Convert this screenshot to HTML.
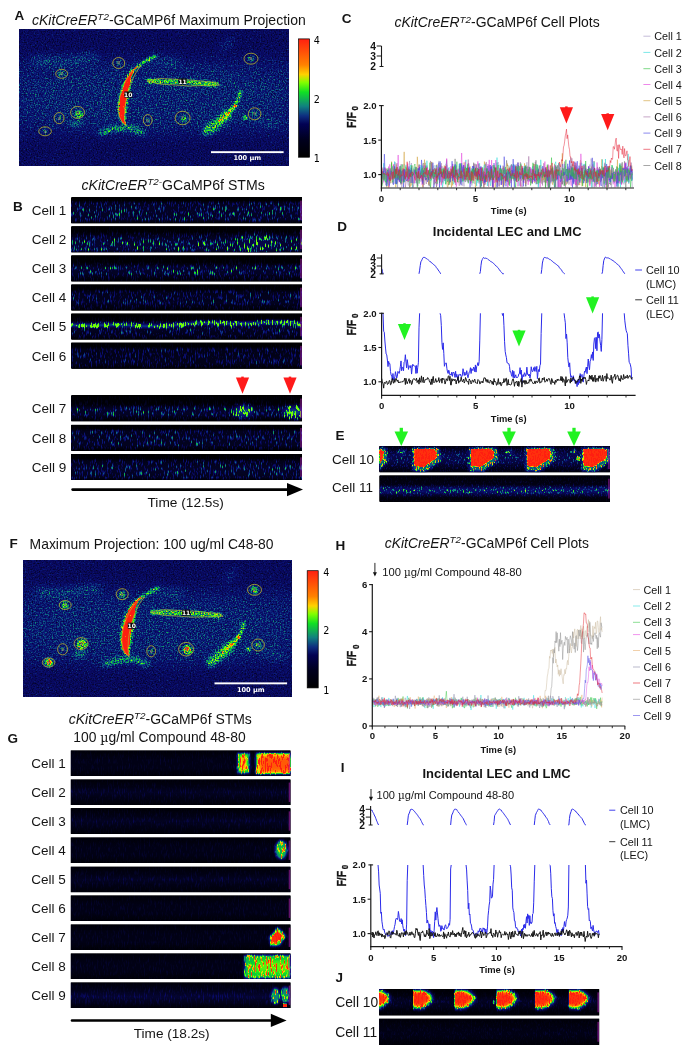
<!DOCTYPE html>
<html lang="en">
<head>
<meta charset="utf-8">
<title>cKitCreERT2-GCaMP6f calcium imaging figure</title>
<style>
html,body{margin:0;padding:0;background:#ffffff;}
body{width:689px;height:1049px;overflow:hidden;}
svg{display:block;font-family:"Liberation Sans", Arial, Helvetica, sans-serif;}
</style>
</head>
<body>
<svg width="689" height="1049" viewBox="0 0 689 1049">
<defs>
<linearGradient id="cbar" x1="0" y1="0" x2="0" y2="1"><stop offset="0" stop-color="#ff2010"/><stop offset="0.22" stop-color="#ff8200"/><stop offset="0.3" stop-color="#ffd200"/><stop offset="0.37" stop-color="#80ff00"/><stop offset="0.45" stop-color="#10e024"/><stop offset="0.57" stop-color="#108080"/><stop offset="0.65" stop-color="#0e2e80"/><stop offset="0.72" stop-color="#020254"/><stop offset="0.85" stop-color="#00001e"/><stop offset="1" stop-color="#000000"/></linearGradient>
<filter id="bl05" x="-100%" y="-100%" width="300%" height="300%" color-interpolation-filters="sRGB"><feGaussianBlur stdDeviation="0.5"/></filter>
<filter id="bl07" x="-100%" y="-100%" width="300%" height="300%" color-interpolation-filters="sRGB"><feGaussianBlur stdDeviation="0.75"/></filter>
<filter id="bl13" x="-100%" y="-100%" width="300%" height="300%" color-interpolation-filters="sRGB"><feGaussianBlur stdDeviation="1.3"/></filter>
<filter id="bl1" x="-100%" y="-100%" width="300%" height="300%" color-interpolation-filters="sRGB"><feGaussianBlur stdDeviation="1.0"/></filter>
<filter id="bl2" x="-100%" y="-100%" width="300%" height="300%" color-interpolation-filters="sRGB"><feGaussianBlur stdDeviation="2.0"/></filter>
<filter id="bl4" x="-100%" y="-100%" width="300%" height="300%" color-interpolation-filters="sRGB"><feGaussianBlur stdDeviation="4.0"/></filter>
<filter id="bl8" x="-100%" y="-100%" width="300%" height="300%" color-interpolation-filters="sRGB"><feGaussianBlur stdDeviation="8.0"/></filter>
<filter id="nfA" filterUnits="userSpaceOnUse" x="19.5" y="29.5" width="269" height="136" color-interpolation-filters="sRGB"><feTurbulence type="fractalNoise" baseFrequency="0.73" numOctaves="2" seed="3" result="n"/><feColorMatrix in="n" type="matrix" values="1 0 0 0 0  1 0 0 0 0  1 0 0 0 0  0 0 0 0 1" result="ng"/><feComposite in="SourceGraphic" in2="ng" operator="arithmetic" k1="1.8" k2="0.1" k3="0" k4="0" result="m0"/><feGaussianBlur in="m0" stdDeviation="0.42" result="m"/><feComponentTransfer in="m"><feFuncR type="table" tableValues="0.000 0.003 0.006 0.009 0.013 0.016 0.020 0.024 0.028 0.032 0.035 0.037 0.038 0.039 0.041 0.043 0.046 0.048 0.050 0.052 0.054 0.056 0.057 0.059 0.060 0.062 0.084 0.184 0.284 0.384 0.484 0.602 0.725 0.849 0.972 1.000 1.000 1.000 1.000 1.000 1.000 1.000 1.000 1.000 1.000 1.000 1.000 1.000 1.000 1.000 1.000 1.000 1.000 1.000 1.000 1.000 1.000 1.000 1.000 1.000 1.000 1.000 1.000 1.000 1.000 1.000 1.000 1.000 1.000 1.000 1.000 1.000 1.000 1.000 1.000 1.000 1.000 1.000 1.000 1.000 1.000"/><feFuncG type="table" tableValues="0.000 0.003 0.006 0.009 0.013 0.016 0.020 0.024 0.028 0.032 0.036 0.044 0.052 0.060 0.090 0.135 0.180 0.240 0.309 0.378 0.447 0.518 0.590 0.662 0.734 0.806 0.869 0.900 0.931 0.961 0.992 0.971 0.931 0.892 0.852 0.782 0.703 0.624 0.545 0.500 0.464 0.428 0.392 0.356 0.320 0.284 0.248 0.211 0.175 0.139 0.118 0.118 0.118 0.118 0.118 0.118 0.118 0.118 0.118 0.118 0.118 0.118 0.118 0.118 0.118 0.118 0.118 0.118 0.118 0.118 0.118 0.118 0.118 0.118 0.118 0.118 0.118 0.118 0.118 0.118 0.118"/><feFuncB type="table" tableValues="0.000 0.033 0.066 0.100 0.133 0.166 0.207 0.249 0.290 0.331 0.370 0.391 0.411 0.431 0.454 0.477 0.501 0.510 0.510 0.510 0.510 0.467 0.402 0.337 0.273 0.208 0.150 0.114 0.079 0.044 0.009 0.000 0.000 0.000 0.000 0.000 0.000 0.000 0.000 0.004 0.010 0.015 0.021 0.026 0.032 0.037 0.043 0.048 0.054 0.059 0.063 0.063 0.063 0.063 0.063 0.063 0.063 0.063 0.063 0.063 0.063 0.063 0.063 0.063 0.063 0.063 0.063 0.063 0.063 0.063 0.063 0.063 0.063 0.063 0.063 0.063 0.063 0.063 0.063 0.063 0.063"/></feComponentTransfer></filter>
<filter id="nfF" filterUnits="userSpaceOnUse" x="23" y="560.7" width="269" height="136" color-interpolation-filters="sRGB"><feTurbulence type="fractalNoise" baseFrequency="0.71" numOctaves="2" seed="8" result="n"/><feColorMatrix in="n" type="matrix" values="1 0 0 0 0  1 0 0 0 0  1 0 0 0 0  0 0 0 0 1" result="ng"/><feComposite in="SourceGraphic" in2="ng" operator="arithmetic" k1="1.8" k2="0.1" k3="0" k4="0" result="m0"/><feGaussianBlur in="m0" stdDeviation="0.42" result="m"/><feComponentTransfer in="m"><feFuncR type="table" tableValues="0.000 0.003 0.006 0.009 0.013 0.016 0.020 0.024 0.028 0.032 0.035 0.037 0.038 0.039 0.041 0.043 0.046 0.048 0.050 0.052 0.054 0.056 0.057 0.059 0.060 0.062 0.084 0.184 0.284 0.384 0.484 0.602 0.725 0.849 0.972 1.000 1.000 1.000 1.000 1.000 1.000 1.000 1.000 1.000 1.000 1.000 1.000 1.000 1.000 1.000 1.000 1.000 1.000 1.000 1.000 1.000 1.000 1.000 1.000 1.000 1.000 1.000 1.000 1.000 1.000 1.000 1.000 1.000 1.000 1.000 1.000 1.000 1.000 1.000 1.000 1.000 1.000 1.000 1.000 1.000 1.000"/><feFuncG type="table" tableValues="0.000 0.003 0.006 0.009 0.013 0.016 0.020 0.024 0.028 0.032 0.036 0.044 0.052 0.060 0.090 0.135 0.180 0.240 0.309 0.378 0.447 0.518 0.590 0.662 0.734 0.806 0.869 0.900 0.931 0.961 0.992 0.971 0.931 0.892 0.852 0.782 0.703 0.624 0.545 0.500 0.464 0.428 0.392 0.356 0.320 0.284 0.248 0.211 0.175 0.139 0.118 0.118 0.118 0.118 0.118 0.118 0.118 0.118 0.118 0.118 0.118 0.118 0.118 0.118 0.118 0.118 0.118 0.118 0.118 0.118 0.118 0.118 0.118 0.118 0.118 0.118 0.118 0.118 0.118 0.118 0.118"/><feFuncB type="table" tableValues="0.000 0.033 0.066 0.100 0.133 0.166 0.207 0.249 0.290 0.331 0.370 0.391 0.411 0.431 0.454 0.477 0.501 0.510 0.510 0.510 0.510 0.467 0.402 0.337 0.273 0.208 0.150 0.114 0.079 0.044 0.009 0.000 0.000 0.000 0.000 0.000 0.000 0.000 0.000 0.004 0.010 0.015 0.021 0.026 0.032 0.037 0.043 0.048 0.054 0.059 0.063 0.063 0.063 0.063 0.063 0.063 0.063 0.063 0.063 0.063 0.063 0.063 0.063 0.063 0.063 0.063 0.063 0.063 0.063 0.063 0.063 0.063 0.063 0.063 0.063 0.063 0.063 0.063 0.063 0.063 0.063"/></feComponentTransfer></filter>
<filter id="nfB" filterUnits="userSpaceOnUse" x="71.3" y="197.5" width="230.7" height="282.5" color-interpolation-filters="sRGB"><feTurbulence type="fractalNoise" baseFrequency="0.83 0.17" numOctaves="2" seed="5" result="n"/><feColorMatrix in="n" type="matrix" values="3.4 0 0 0 -1.75  3.4 0 0 0 -1.75  3.4 0 0 0 -1.75  0 0 0 0 1" result="ng"/><feComposite in="SourceGraphic" in2="ng" operator="arithmetic" k1="1.75" k2="0.33" k3="0" k4="0" result="m0"/><feGaussianBlur in="m0" stdDeviation="0.3" result="m"/><feComponentTransfer in="m"><feFuncR type="table" tableValues="0.000 0.003 0.006 0.009 0.013 0.016 0.020 0.024 0.028 0.032 0.035 0.037 0.038 0.039 0.041 0.043 0.046 0.048 0.050 0.052 0.054 0.056 0.057 0.059 0.060 0.062 0.084 0.184 0.284 0.384 0.460 0.460 0.460 0.460 0.460 0.460 0.460 0.460 0.460 0.460 0.460 0.460 0.460 0.460 0.460 0.460 0.460 0.460 0.460 0.460 0.460 0.460 0.460 0.460 0.460 0.460 0.460 0.460 0.460 0.460 0.460 0.460 0.460 0.460 0.460 0.460 0.460 0.460 0.460 0.460 0.460 0.460 0.460 0.460 0.460 0.460 0.460 0.460 0.460 0.460 0.460"/><feFuncG type="table" tableValues="0.000 0.003 0.006 0.009 0.013 0.016 0.020 0.024 0.028 0.032 0.036 0.044 0.052 0.060 0.090 0.135 0.180 0.240 0.309 0.378 0.447 0.518 0.590 0.662 0.734 0.806 0.869 0.900 0.931 0.961 0.985 0.985 0.985 0.985 0.985 0.985 0.985 0.985 0.985 0.985 0.985 0.985 0.985 0.985 0.985 0.985 0.985 0.985 0.985 0.985 0.985 0.985 0.985 0.985 0.985 0.985 0.985 0.985 0.985 0.985 0.985 0.985 0.985 0.985 0.985 0.985 0.985 0.985 0.985 0.985 0.985 0.985 0.985 0.985 0.985 0.985 0.985 0.985 0.985 0.985 0.985"/><feFuncB type="table" tableValues="0.000 0.033 0.066 0.100 0.133 0.166 0.207 0.249 0.290 0.331 0.370 0.391 0.411 0.431 0.454 0.477 0.501 0.510 0.510 0.510 0.510 0.467 0.402 0.337 0.273 0.208 0.150 0.114 0.079 0.044 0.017 0.017 0.017 0.017 0.017 0.017 0.017 0.017 0.017 0.017 0.017 0.017 0.017 0.017 0.017 0.017 0.017 0.017 0.017 0.017 0.017 0.017 0.017 0.017 0.017 0.017 0.017 0.017 0.017 0.017 0.017 0.017 0.017 0.017 0.017 0.017 0.017 0.017 0.017 0.017 0.017 0.017 0.017 0.017 0.017 0.017 0.017 0.017 0.017 0.017 0.017"/></feComponentTransfer></filter>
<filter id="nfG" filterUnits="userSpaceOnUse" x="70.8" y="750.5" width="219.7" height="257.5" color-interpolation-filters="sRGB"><feTurbulence type="fractalNoise" baseFrequency="0.81 0.17" numOctaves="2" seed="9" result="n"/><feColorMatrix in="n" type="matrix" values="3.4 0 0 0 -1.75  3.4 0 0 0 -1.75  3.4 0 0 0 -1.75  0 0 0 0 1" result="ng"/><feComposite in="SourceGraphic" in2="ng" operator="arithmetic" k1="0.8" k2="0.6" k3="0" k4="0" result="m0"/><feGaussianBlur in="m0" stdDeviation="0.35" result="m"/><feComponentTransfer in="m"><feFuncR type="table" tableValues="0.000 0.003 0.006 0.009 0.013 0.016 0.020 0.024 0.028 0.032 0.035 0.037 0.038 0.039 0.041 0.043 0.046 0.048 0.050 0.052 0.054 0.056 0.057 0.059 0.060 0.062 0.084 0.184 0.284 0.384 0.484 0.602 0.725 0.849 0.972 1.000 1.000 1.000 1.000 1.000 1.000 1.000 1.000 1.000 1.000 1.000 1.000 1.000 1.000 1.000 1.000 1.000 1.000 1.000 1.000 1.000 1.000 1.000 1.000 1.000 1.000 1.000 1.000 1.000 1.000 1.000 1.000 1.000 1.000 1.000 1.000 1.000 1.000 1.000 1.000 1.000 1.000 1.000 1.000 1.000 1.000"/><feFuncG type="table" tableValues="0.000 0.003 0.006 0.009 0.013 0.016 0.020 0.024 0.028 0.032 0.036 0.044 0.052 0.060 0.090 0.135 0.180 0.240 0.309 0.378 0.447 0.518 0.590 0.662 0.734 0.806 0.869 0.900 0.931 0.961 0.992 0.971 0.931 0.892 0.852 0.782 0.703 0.624 0.545 0.500 0.464 0.428 0.392 0.356 0.320 0.284 0.248 0.211 0.175 0.139 0.118 0.118 0.118 0.118 0.118 0.118 0.118 0.118 0.118 0.118 0.118 0.118 0.118 0.118 0.118 0.118 0.118 0.118 0.118 0.118 0.118 0.118 0.118 0.118 0.118 0.118 0.118 0.118 0.118 0.118 0.118"/><feFuncB type="table" tableValues="0.000 0.033 0.066 0.100 0.133 0.166 0.207 0.249 0.290 0.331 0.370 0.391 0.411 0.431 0.454 0.477 0.501 0.510 0.510 0.510 0.510 0.467 0.402 0.337 0.273 0.208 0.150 0.114 0.079 0.044 0.009 0.000 0.000 0.000 0.000 0.000 0.000 0.000 0.000 0.004 0.010 0.015 0.021 0.026 0.032 0.037 0.043 0.048 0.054 0.059 0.063 0.063 0.063 0.063 0.063 0.063 0.063 0.063 0.063 0.063 0.063 0.063 0.063 0.063 0.063 0.063 0.063 0.063 0.063 0.063 0.063 0.063 0.063 0.063 0.063 0.063 0.063 0.063 0.063 0.063 0.063"/></feComponentTransfer></filter>
<filter id="nfE" filterUnits="userSpaceOnUse" x="379.6" y="446" width="230.3" height="55.7" color-interpolation-filters="sRGB"><feTurbulence type="fractalNoise" baseFrequency="0.79 0.37" numOctaves="2" seed="12" result="n"/><feColorMatrix in="n" type="matrix" values="3.4 0 0 0 -1.75  3.4 0 0 0 -1.75  3.4 0 0 0 -1.75  0 0 0 0 1" result="ng"/><feComposite in="SourceGraphic" in2="ng" operator="arithmetic" k1="1.3" k2="0.6" k3="0" k4="0" result="m0"/><feGaussianBlur in="m0" stdDeviation="0.35" result="m"/><feComponentTransfer in="m"><feFuncR type="table" tableValues="0.000 0.003 0.006 0.009 0.013 0.016 0.020 0.024 0.028 0.032 0.035 0.037 0.038 0.039 0.041 0.043 0.046 0.048 0.050 0.052 0.054 0.056 0.057 0.059 0.060 0.062 0.084 0.184 0.284 0.384 0.484 0.602 0.725 0.849 0.972 1.000 1.000 1.000 1.000 1.000 1.000 1.000 1.000 1.000 1.000 1.000 1.000 1.000 1.000 1.000 1.000 1.000 1.000 1.000 1.000 1.000 1.000 1.000 1.000 1.000 1.000 1.000 1.000 1.000 1.000 1.000 1.000 1.000 1.000 1.000 1.000 1.000 1.000 1.000 1.000 1.000 1.000 1.000 1.000 1.000 1.000"/><feFuncG type="table" tableValues="0.000 0.003 0.006 0.009 0.013 0.016 0.020 0.024 0.028 0.032 0.036 0.044 0.052 0.060 0.090 0.135 0.180 0.240 0.309 0.378 0.447 0.518 0.590 0.662 0.734 0.806 0.869 0.900 0.931 0.961 0.992 0.971 0.931 0.892 0.852 0.782 0.703 0.624 0.545 0.500 0.464 0.428 0.392 0.356 0.320 0.284 0.248 0.211 0.175 0.139 0.118 0.118 0.118 0.118 0.118 0.118 0.118 0.118 0.118 0.118 0.118 0.118 0.118 0.118 0.118 0.118 0.118 0.118 0.118 0.118 0.118 0.118 0.118 0.118 0.118 0.118 0.118 0.118 0.118 0.118 0.118"/><feFuncB type="table" tableValues="0.000 0.033 0.066 0.100 0.133 0.166 0.207 0.249 0.290 0.331 0.370 0.391 0.411 0.431 0.454 0.477 0.501 0.510 0.510 0.510 0.510 0.467 0.402 0.337 0.273 0.208 0.150 0.114 0.079 0.044 0.009 0.000 0.000 0.000 0.000 0.000 0.000 0.000 0.000 0.004 0.010 0.015 0.021 0.026 0.032 0.037 0.043 0.048 0.054 0.059 0.063 0.063 0.063 0.063 0.063 0.063 0.063 0.063 0.063 0.063 0.063 0.063 0.063 0.063 0.063 0.063 0.063 0.063 0.063 0.063 0.063 0.063 0.063 0.063 0.063 0.063 0.063 0.063 0.063 0.063 0.063"/></feComponentTransfer></filter>
<filter id="nfJ" filterUnits="userSpaceOnUse" x="379.1" y="989.2" width="220.1" height="55.7" color-interpolation-filters="sRGB"><feTurbulence type="fractalNoise" baseFrequency="0.77 0.25" numOctaves="2" seed="15" result="n"/><feColorMatrix in="n" type="matrix" values="3.4 0 0 0 -1.75  3.4 0 0 0 -1.75  3.4 0 0 0 -1.75  0 0 0 0 1" result="ng"/><feComposite in="SourceGraphic" in2="ng" operator="arithmetic" k1="0.8" k2="0.6" k3="0" k4="0" result="m0"/><feGaussianBlur in="m0" stdDeviation="0.35" result="m"/><feComponentTransfer in="m"><feFuncR type="table" tableValues="0.000 0.003 0.006 0.009 0.013 0.016 0.020 0.024 0.028 0.032 0.035 0.037 0.038 0.039 0.041 0.043 0.046 0.048 0.050 0.052 0.054 0.056 0.057 0.059 0.060 0.062 0.084 0.184 0.284 0.384 0.484 0.602 0.725 0.849 0.972 1.000 1.000 1.000 1.000 1.000 1.000 1.000 1.000 1.000 1.000 1.000 1.000 1.000 1.000 1.000 1.000 1.000 1.000 1.000 1.000 1.000 1.000 1.000 1.000 1.000 1.000 1.000 1.000 1.000 1.000 1.000 1.000 1.000 1.000 1.000 1.000 1.000 1.000 1.000 1.000 1.000 1.000 1.000 1.000 1.000 1.000"/><feFuncG type="table" tableValues="0.000 0.003 0.006 0.009 0.013 0.016 0.020 0.024 0.028 0.032 0.036 0.044 0.052 0.060 0.090 0.135 0.180 0.240 0.309 0.378 0.447 0.518 0.590 0.662 0.734 0.806 0.869 0.900 0.931 0.961 0.992 0.971 0.931 0.892 0.852 0.782 0.703 0.624 0.545 0.500 0.464 0.428 0.392 0.356 0.320 0.284 0.248 0.211 0.175 0.139 0.118 0.118 0.118 0.118 0.118 0.118 0.118 0.118 0.118 0.118 0.118 0.118 0.118 0.118 0.118 0.118 0.118 0.118 0.118 0.118 0.118 0.118 0.118 0.118 0.118 0.118 0.118 0.118 0.118 0.118 0.118"/><feFuncB type="table" tableValues="0.000 0.033 0.066 0.100 0.133 0.166 0.207 0.249 0.290 0.331 0.370 0.391 0.411 0.431 0.454 0.477 0.501 0.510 0.510 0.510 0.510 0.467 0.402 0.337 0.273 0.208 0.150 0.114 0.079 0.044 0.009 0.000 0.000 0.000 0.000 0.000 0.000 0.000 0.000 0.004 0.010 0.015 0.021 0.026 0.032 0.037 0.043 0.048 0.054 0.059 0.063 0.063 0.063 0.063 0.063 0.063 0.063 0.063 0.063 0.063 0.063 0.063 0.063 0.063 0.063 0.063 0.063 0.063 0.063 0.063 0.063 0.063 0.063 0.063 0.063 0.063 0.063 0.063 0.063 0.063 0.063"/></feComponentTransfer></filter>
<linearGradient id="vg1" x1="0" y1="0" x2="0" y2="1"><stop offset="0" stop-color="#020202"/><stop offset="0.12" stop-color="#050505"/><stop offset="0.24" stop-color="#232323"/><stop offset="0.5" stop-color="#2b2b2b"/><stop offset="0.85" stop-color="#282828"/><stop offset="0.95" stop-color="#0d0d0d"/><stop offset="1" stop-color="#050505"/></linearGradient>
<linearGradient id="vg2" x1="0" y1="0" x2="0" y2="1"><stop offset="0" stop-color="#020202"/><stop offset="0.2" stop-color="#060606"/><stop offset="0.35" stop-color="#1b1b1b"/><stop offset="0.55" stop-color="#313131"/><stop offset="0.9" stop-color="#343434"/><stop offset="1" stop-color="#101010"/></linearGradient>
<clipPath id="cp1"><rect x="71.3" y="226.55" width="230.7" height="25.7"/></clipPath>
<linearGradient id="vg3" x1="0" y1="0" x2="0" y2="1"><stop offset="0" stop-color="#020202"/><stop offset="0.25" stop-color="#060606"/><stop offset="0.36" stop-color="#161616"/><stop offset="0.48" stop-color="#2f2f2f"/><stop offset="0.7" stop-color="#292929"/><stop offset="0.88" stop-color="#101010"/><stop offset="1" stop-color="#050505"/></linearGradient>
<linearGradient id="vg4" x1="0" y1="0" x2="0" y2="1"><stop offset="0" stop-color="#020202"/><stop offset="0.18" stop-color="#050505"/><stop offset="0.3" stop-color="#1e1e1e"/><stop offset="0.7" stop-color="#232323"/><stop offset="0.92" stop-color="#0e0e0e"/><stop offset="1" stop-color="#050505"/></linearGradient>
<linearGradient id="vg5" x1="0" y1="0" x2="0" y2="1"><stop offset="0" stop-color="#020202"/><stop offset="0.26" stop-color="#060606"/><stop offset="0.4" stop-color="#2f2f2f"/><stop offset="0.62" stop-color="#262626"/><stop offset="0.85" stop-color="#1b1b1b"/><stop offset="1" stop-color="#060606"/></linearGradient>
<clipPath id="cp2"><rect x="71.3" y="313.7" width="230.7" height="25.7"/></clipPath>
<linearGradient id="vg6" x1="0" y1="0" x2="0" y2="1"><stop offset="0" stop-color="#020202"/><stop offset="0.15" stop-color="#050505"/><stop offset="0.26" stop-color="#1b1b1b"/><stop offset="0.8" stop-color="#1e1e1e"/><stop offset="0.93" stop-color="#0d0d0d"/><stop offset="1" stop-color="#050505"/></linearGradient>
<linearGradient id="vg7" x1="0" y1="0" x2="0" y2="1"><stop offset="0" stop-color="#020202"/><stop offset="0.33" stop-color="#080808"/><stop offset="0.55" stop-color="#2f2f2f"/><stop offset="0.75" stop-color="#282828"/><stop offset="0.9" stop-color="#0d0d0d"/><stop offset="1" stop-color="#030303"/></linearGradient>
<clipPath id="cp3"><rect x="71.3" y="395.5" width="230.7" height="25.7"/></clipPath>
<linearGradient id="vg8" x1="0" y1="0" x2="0" y2="1"><stop offset="0" stop-color="#020202"/><stop offset="0.14" stop-color="#050505"/><stop offset="0.25" stop-color="#212121"/><stop offset="0.8" stop-color="#242424"/><stop offset="0.93" stop-color="#0d0d0d"/><stop offset="1" stop-color="#050505"/></linearGradient>
<linearGradient id="vg9" x1="0" y1="0" x2="0" y2="1"><stop offset="0" stop-color="#020202"/><stop offset="0.16" stop-color="#050505"/><stop offset="0.28" stop-color="#1e1e1e"/><stop offset="0.6" stop-color="#2b2b2b"/><stop offset="0.9" stop-color="#212121"/><stop offset="1" stop-color="#080808"/></linearGradient>
<linearGradient id="vg10" x1="0" y1="0" x2="0" y2="1"><stop offset="0" stop-color="#060606"/><stop offset="0.15" stop-color="#161616"/><stop offset="0.35" stop-color="#282828"/><stop offset="0.6" stop-color="#262626"/><stop offset="0.8" stop-color="#151515"/><stop offset="1" stop-color="#060606"/></linearGradient>
<clipPath id="cp4"><rect x="379.6" y="446" width="230.3" height="26.2"/></clipPath>
<linearGradient id="vg11" x1="0" y1="0" x2="0" y2="1"><stop offset="0" stop-color="#050505"/><stop offset="0.35" stop-color="#0d0d0d"/><stop offset="0.52" stop-color="#393939"/><stop offset="0.62" stop-color="#393939"/><stop offset="0.72" stop-color="#202020"/><stop offset="0.85" stop-color="#090909"/><stop offset="1" stop-color="#050505"/></linearGradient>
<linearGradient id="vg12" x1="0" y1="0" x2="0" y2="1"><stop offset="0" stop-color="#050505"/><stop offset="0.35" stop-color="#0d0d0d"/><stop offset="0.7" stop-color="#0d0d0d"/><stop offset="1" stop-color="#050505"/></linearGradient>
<clipPath id="cp5"><rect x="70.8" y="750.5" width="219.7" height="25.5"/></clipPath>
<linearGradient id="vg13" x1="0" y1="0" x2="0" y2="1"><stop offset="0" stop-color="#050505"/><stop offset="0.3" stop-color="#0d0d0d"/><stop offset="0.5" stop-color="#151515"/><stop offset="0.7" stop-color="#0e0e0e"/><stop offset="1" stop-color="#050505"/></linearGradient>
<linearGradient id="vg14" x1="0" y1="0" x2="0" y2="1"><stop offset="0" stop-color="#050505"/><stop offset="0.3" stop-color="#0d0d0d"/><stop offset="0.5" stop-color="#151515"/><stop offset="0.7" stop-color="#0e0e0e"/><stop offset="1" stop-color="#050505"/></linearGradient>
<linearGradient id="vg15" x1="0" y1="0" x2="0" y2="1"><stop offset="0" stop-color="#050505"/><stop offset="0.35" stop-color="#0d0d0d"/><stop offset="0.7" stop-color="#0d0d0d"/><stop offset="1" stop-color="#050505"/></linearGradient>
<clipPath id="cp6"><rect x="70.8" y="837.5" width="219.7" height="25.5"/></clipPath>
<linearGradient id="vg16" x1="0" y1="0" x2="0" y2="1"><stop offset="0" stop-color="#050505"/><stop offset="0.3" stop-color="#0d0d0d"/><stop offset="0.5" stop-color="#151515"/><stop offset="0.7" stop-color="#0e0e0e"/><stop offset="1" stop-color="#050505"/></linearGradient>
<linearGradient id="vg17" x1="0" y1="0" x2="0" y2="1"><stop offset="0" stop-color="#050505"/><stop offset="0.35" stop-color="#0d0d0d"/><stop offset="0.7" stop-color="#0d0d0d"/><stop offset="1" stop-color="#050505"/></linearGradient>
<linearGradient id="vg18" x1="0" y1="0" x2="0" y2="1"><stop offset="0" stop-color="#050505"/><stop offset="0.35" stop-color="#0d0d0d"/><stop offset="0.7" stop-color="#0d0d0d"/><stop offset="1" stop-color="#050505"/></linearGradient>
<clipPath id="cp7"><rect x="70.8" y="924.5" width="219.7" height="25.5"/></clipPath>
<linearGradient id="vg19" x1="0" y1="0" x2="0" y2="1"><stop offset="0" stop-color="#050505"/><stop offset="0.35" stop-color="#0d0d0d"/><stop offset="0.7" stop-color="#0d0d0d"/><stop offset="1" stop-color="#050505"/></linearGradient>
<clipPath id="cp8"><rect x="70.8" y="953.5" width="219.7" height="25.5"/></clipPath>
<linearGradient id="vg20" x1="0" y1="0" x2="0" y2="1"><stop offset="0" stop-color="#050505"/><stop offset="0.3" stop-color="#101010"/><stop offset="0.55" stop-color="#1e1e1e"/><stop offset="0.8" stop-color="#111111"/><stop offset="1" stop-color="#050505"/></linearGradient>
<clipPath id="cp9"><rect x="70.8" y="982.5" width="219.7" height="25.5"/></clipPath>
<clipPath id="cp10"><rect x="369.2" y="983" width="31" height="33.6"/></clipPath>
<clipPath id="cp11"><rect x="413.2" y="983" width="30" height="33.6"/></clipPath>
<clipPath id="cp12"><rect x="454.5" y="983" width="31" height="33.6"/></clipPath>
<clipPath id="cp13"><rect x="496.5" y="983" width="30.9" height="33.6"/></clipPath>
<clipPath id="cp14"><rect x="534.9" y="983" width="30.5" height="33.6"/></clipPath>
<clipPath id="cp15"><rect x="568.8" y="983" width="30.6" height="33.6"/></clipPath>
<linearGradient id="vg21" x1="0" y1="0" x2="0" y2="1"><stop offset="0" stop-color="#030303"/><stop offset="0.25" stop-color="#090909"/><stop offset="0.45" stop-color="#151515"/><stop offset="0.62" stop-color="#111111"/><stop offset="0.8" stop-color="#080808"/><stop offset="1" stop-color="#030303"/></linearGradient>
<clipPath id="cp16"><rect x="379.1" y="989.2" width="220.1" height="26.2"/></clipPath>
<linearGradient id="vg22" x1="0" y1="0" x2="0" y2="1"><stop offset="0" stop-color="#050505"/><stop offset="0.4" stop-color="#0c0c0c"/><stop offset="0.6" stop-color="#0d0d0d"/><stop offset="1" stop-color="#050505"/></linearGradient>
</defs>
<rect x="0" y="0" width="689" height="1049" fill="#ffffff"/>
<text x="14.5" y="20" font-size="13.5" font-weight="bold" fill="#141414">A</text>
<text x="32" y="25" font-size="14" fill="#141414"><tspan font-style="italic">cKitCreER<tspan font-size="9.9" dy="-4.9">T2</tspan></tspan><tspan dy="4.9">-GCaMP6f Maximum Projection</tspan></text>
<g filter="url(#nfA)">
<rect x="17.5" y="27.5" width="273" height="140" fill="#202020"/>
<g filter="url(#bl8)">
<rect x="9.5" y="59.5" width="289" height="74" fill="#2a2a2a"/>
<ellipse cx="155" cy="98" rx="135" ry="36" fill="#2d2d2d"/>
</g>
<g filter="url(#bl4)" fill="none" stroke-linecap="round">
<path d="M34,61 L60,62 L95,57" stroke="#3a3a3a" stroke-width="7"/>
<path d="M150,60 L178,62" stroke="#373737" stroke-width="6"/>
<path d="M222,48 L232,40" stroke="#373737" stroke-width="5"/>
<path d="M255,120 L278,124" stroke="#343434" stroke-width="6"/>
</g>
<g filter="url(#bl2)" fill="none" stroke-linecap="round">
<path d="M101,133 L113,129 L131,128 L143,133" stroke="#4a4a4a" stroke-width="5"/>
<path d="M72,124 L80,123" stroke="#4a4a4a" stroke-width="4"/>
<path d="M207,131 L217,124 L227,115" stroke="#4f4f4f" stroke-width="9"/>
</g>
<g filter="url(#bl1)" fill="none" stroke-linecap="round" stroke-linejoin="round">
<path d="M137.8,66.3 L136.79,67.66 L135.28,68.36 L135.16,70.51 L133.66,71.04 L133.34,72.72 L133.1,74.5 L131.96,75.65 L131.55,76.98 L131.4,78.41 L131.6,80.19 L131.87,82 L130.81,83.36 L130.1,84.84 L130.33,86.55 L129.69,87.92 L129.64,89.53 L129.77,91.25 L128.83,92.68 L128.78,94.35 L128.16,95.82 L128.15,97.23 L128.13,98.67 L127.49,100.22 L127.47,101.86 L127.25,103.47 L126.82,105.05 L126.34,106.39 L126.11,107.73 L126.4,109.31 L126.18,110.94 L126.84,112.57 L124.95,114.18 L125.55,115.55 L125.49,116.71 L125.85,118.1 L125.5,119.63 L125.19,121.23 L125.68,122.76 L125.4,124.8 L125.4,124.8 L123.39,124.08 L122.28,122.77 L121.91,120.95 L119.66,119.75 L119.8,117.88 L118.83,115.99 L118.75,114.12 L118.13,112.49 L118.49,110.86 L117.87,109.23 L117.83,107.55 L118.49,105.69 L118.41,103.83 L118.35,102.18 L119.28,100.67 L118.69,98.94 L119.07,97.35 L119.41,95.57 L119.98,93.8 L120.96,92.32 L120.76,90.58 L121.17,89.01 L122.09,87.57 L122,85.8 L122.92,84.24 L123.79,82.74 L124.57,81.28 L125.27,79.8 L125.51,78.16 L126.53,76.79 L127.64,75.22 L128.5,73.56 L129.43,72.17 L130.8,71.11 L131.41,69.47 L132.73,68.07 L135.14,68.18 L136.07,66.72 L137.8,66.3 Z" fill="#5f5f5f" stroke="none"/>
<path d="M137,66.5 L155,56" stroke="#575757" stroke-width="3"/>
<path d="M149,81 L185,82 L217,84.5" stroke="#545454" stroke-width="4.5"/>
<path d="M240.5,91.5 L238,100 L235,106" stroke="#626262" stroke-width="2.2"/>
<path d="M235,106 L228,113.5 L219,121" stroke="#656565" stroke-width="3.6"/>
<circle cx="245" cy="117.6" r="2.4" fill="#575757"/>
<circle cx="61.7" cy="73.8" r="3" fill="#424242"/>
<circle cx="118.7" cy="63" r="2.5" fill="#424242"/>
<circle cx="78.5" cy="114" r="4" fill="#4f4f4f"/>
<circle cx="59.1" cy="118.1" r="2.5" fill="#3f3f3f"/>
<circle cx="45.1" cy="131.3" r="2.5" fill="#3f3f3f"/>
<circle cx="147.7" cy="120.1" r="2.5" fill="#3c3c3c"/>
<circle cx="251" cy="58.7" r="3" fill="#424242"/>
<circle cx="184" cy="119" r="3.5" fill="#4a4a4a"/>
<circle cx="254.6" cy="113.8" r="3" fill="#3f3f3f"/>
</g>
<g filter="url(#bl05)" fill="none" stroke-linecap="round" stroke-linejoin="round">
<path d="M137.8,66.3 L136.78,67.64 L135.55,68.71 L133.96,69.31 L133.61,71 L132.88,72.43 L132.23,73.95 L131.35,75.28 L130.93,76.71 L130.47,78.1 L129.82,79.6 L130.16,81.43 L129.76,83.01 L129.64,84.69 L128.69,86.04 L128.2,87.51 L127.85,89.06 L127.18,90.57 L127.7,92.39 L126.64,93.8 L126.26,95.35 L126.29,96.87 L126.69,98.46 L126.03,100 L125.36,101.55 L125.21,103.18 L125.41,104.85 L124.87,106.26 L124.55,107.7 L124.64,109.3 L124.86,110.93 L125.16,112.56 L123.87,114.17 L123.9,115.66 L123.85,117.05 L123.49,118.73 L124.13,120.13 L124.47,121.61 L125.59,122.81 L125.4,124.8 L125.4,124.8 L124.41,123.49 L122.78,122.51 L121.63,121.05 L120.94,119.41 L120.37,117.76 L119.49,115.95 L120.02,114.13 L119.54,112.5 L120.12,110.88 L119.01,109.24 L119.47,107.59 L120,105.83 L119.79,104.03 L119.99,102.42 L120.5,100.84 L119.88,99.11 L120.81,97.6 L120.56,95.79 L121.1,94.07 L122.56,92.74 L122.58,91.06 L123.48,89.61 L123.05,87.82 L124.21,86.41 L123.9,84.54 L124.65,83.02 L125.27,81.51 L125.98,80.03 L126.55,78.51 L127.61,77.15 L128.94,75.81 L129.22,73.99 L130.5,72.85 L131.42,71.5 L132.44,70.19 L133.89,69.23 L135,68 L136.21,66.89 L137.8,66.3 Z" fill="#fdfdfd" stroke="none"/>
<circle cx="235" cy="106" r="1.6" fill="#868686"/>
<circle cx="228" cy="113" r="1.6" fill="#868686"/>
</g>
</g>
<g fill="none" stroke="#b9b52c" stroke-width="0.8">
<ellipse cx="61.7" cy="73.8" rx="6" ry="4.5"/>
<ellipse cx="118.7" cy="63" rx="6" ry="5.5"/>
<ellipse cx="77.6" cy="112.4" rx="7" ry="6"/>
<ellipse cx="59.1" cy="118.1" rx="5" ry="5.6"/>
<ellipse cx="45.1" cy="131.3" rx="6.3" ry="4.5"/>
<ellipse cx="147.7" cy="120.1" rx="4.4" ry="5.6"/>
<ellipse cx="251" cy="58.7" rx="7" ry="5.5"/>
<ellipse cx="182.6" cy="118" rx="7.5" ry="6.8"/>
<ellipse cx="254.6" cy="113.8" rx="6.3" ry="6"/>
<path d="M141,66 C131,68 121,86 118.5,104 C117.5,114 120,121 125.5,125.5 C124,119 124.5,112 125.5,104 C128,88 134,73 141,66 Z" stroke-width="0.7"/>
<path d="M147,81 L160,78.5 L190,80 L216,82.5 L219.5,85 L190,86 L160,84 Z" stroke-width="0.7"/>
</g>
<g font-family='"DejaVu Sans", "Liberation Sans", sans-serif' font-weight="bold" text-anchor="middle">
<text x="61.7" y="75.2" font-size="4" fill="#cfcfcf" stroke="#111" stroke-width="0.25">2</text>
<text x="118.7" y="64.4" font-size="4" fill="#cfcfcf" stroke="#111" stroke-width="0.25">8</text>
<text x="77.6" y="113.8" font-size="4" fill="#cfcfcf" stroke="#111" stroke-width="0.25">4</text>
<text x="59.1" y="119.5" font-size="4" fill="#cfcfcf" stroke="#111" stroke-width="0.25">3</text>
<text x="45.1" y="132.7" font-size="4" fill="#cfcfcf" stroke="#111" stroke-width="0.25">1</text>
<text x="147.7" y="121.5" font-size="4" fill="#cfcfcf" stroke="#111" stroke-width="0.25">6</text>
<text x="251" y="60.1" font-size="4" fill="#cfcfcf" stroke="#111" stroke-width="0.25">5</text>
<text x="182.6" y="119.4" font-size="4" fill="#cfcfcf" stroke="#111" stroke-width="0.25">7</text>
<text x="254.6" y="115.2" font-size="4" fill="#cfcfcf" stroke="#111" stroke-width="0.25">9</text>
<rect x="124.3" y="91.5" width="8" height="6" fill="#0a0a0a"/>
<text x="128.3" y="96.7" font-size="6" fill="#fff">10</text>
<rect x="178.6" y="78.4" width="8" height="6" fill="#0a0a0a"/>
<text x="182.6" y="83.6" font-size="6" fill="#fff">11</text>
<rect x="211" y="151.2" width="72.6" height="1.9" fill="#fff"/>
<text x="247.3" y="160.4" font-size="6.6" fill="#fff">100 µm</text>
</g>
<rect x="298.6" y="38.9" width="11" height="118.3" fill="url(#cbar)" stroke="#000" stroke-width="0.7"/>
<text x="313.8" y="43.8" font-size="9.6" font-family='"DejaVu Sans", "Liberation Sans", sans-serif' fill="#000">4</text>
<text x="313.8" y="103.1" font-size="9.6" font-family='"DejaVu Sans", "Liberation Sans", sans-serif' fill="#000">2</text>
<text x="313.8" y="161.8" font-size="9.6" font-family='"DejaVu Sans", "Liberation Sans", sans-serif' fill="#000">1</text>
<text x="81.5" y="189.5" font-size="14.1" fill="#141414"><tspan font-style="italic">cKitCreER<tspan font-size="9.9" dy="-4.9">T2-</tspan></tspan><tspan dy="4.9">GCaMP6f STMs</tspan></text>
<text x="13" y="211" font-size="13.5" font-weight="bold" fill="#141414">B</text>
<g filter="url(#nfB)">
<rect x="71.3" y="197.5" width="230.7" height="25.7" fill="url(#vg1)"/>
<rect x="71.3" y="226.55" width="230.7" height="25.7" fill="url(#vg2)"/>
<g clip-path="url(#cp1)"><ellipse cx="258" cy="244.05" rx="20" ry="7.5" fill="#4f4f4f" filter="url(#bl4)"/></g>
<rect x="71.3" y="255.6" width="230.7" height="25.7" fill="url(#vg3)"/>
<rect x="71.3" y="284.65" width="230.7" height="25.7" fill="url(#vg4)"/>
<rect x="71.3" y="313.7" width="230.7" height="25.7" fill="url(#vg5)"/>
<g clip-path="url(#cp2)"><polyline fill="none" stroke="#bebebe" stroke-width="3.0" points="69.3,324.94 73.3,325.23 77.3,325.44 81.3,325.57 85.3,325.6 89.3,325.56 93.3,325.47 97.3,325.33 101.3,325.17 105.3,325.03 109.3,324.92 113.3,324.86 117.3,324.86 121.3,324.92 125.3,325.06 129.3,325.24 133.3,325.47 137.3,325.71 141.3,325.94 145.3,326.14 149.3,326.28 153.3,326.35 157.3,326.32 161.3,326.2 165.3,325.98 169.3,325.68 173.3,325.31 177.3,324.89 181.3,324.45 185.3,324.02 189.3,323.63 193.3,323.29 197.3,323.02 201.3,322.85 205.3,322.76 209.3,322.76 213.3,322.83 217.3,322.95 221.3,323.11 225.3,323.27 229.3,323.42 233.3,323.53 237.3,323.58 241.3,323.57 245.3,323.49 249.3,323.35 253.3,323.16 257.3,322.94 261.3,322.71 265.3,322.5 269.3,322.33 273.3,322.23 277.3,322.21 281.3,322.28 285.3,322.45 289.3,322.71 293.3,323.04 297.3,323.44 301.3,323.87" filter="url(#bl1)"/></g>
<rect x="71.3" y="342.75" width="230.7" height="25.7" fill="url(#vg6)"/>
<rect x="71.3" y="395.5" width="230.7" height="25.7" fill="url(#vg7)"/>
<g clip-path="url(#cp3)"><ellipse cx="243.5" cy="411.5" rx="9.5" ry="6" fill="#9e9e9e" filter="url(#bl2)"/><ellipse cx="293.5" cy="412" rx="10.5" ry="5.5" fill="#a6a6a6" filter="url(#bl2)"/></g>
<rect x="71.3" y="424.9" width="230.7" height="25.7" fill="url(#vg8)"/>
<rect x="71.3" y="454.3" width="230.7" height="25.7" fill="url(#vg9)"/>
</g>
<rect x="300.2" y="200.58" width="1.6" height="19.53" fill="#b020b0" opacity="0.55"/>
<rect x="300.2" y="229.63" width="1.6" height="19.53" fill="#b020b0" opacity="0.55"/>
<rect x="300.2" y="258.68" width="1.6" height="19.53" fill="#b020b0" opacity="0.55"/>
<rect x="300.2" y="287.73" width="1.6" height="19.53" fill="#b020b0" opacity="0.55"/>
<rect x="300.2" y="316.78" width="1.6" height="19.53" fill="#b020b0" opacity="0.55"/>
<rect x="300.2" y="345.83" width="1.6" height="19.53" fill="#b020b0" opacity="0.55"/>
<rect x="300.2" y="398.58" width="1.6" height="19.53" fill="#b020b0" opacity="0.55"/>
<rect x="300.2" y="427.98" width="1.6" height="19.53" fill="#b020b0" opacity="0.55"/>
<rect x="300.2" y="457.38" width="1.6" height="19.53" fill="#b020b0" opacity="0.55"/>
<text x="31.8" y="215.25" font-size="13.5" fill="#141414">Cell 1</text>
<text x="31.8" y="244.3" font-size="13.5" fill="#141414">Cell 2</text>
<text x="31.8" y="273.35" font-size="13.5" fill="#141414">Cell 3</text>
<text x="31.8" y="302.4" font-size="13.5" fill="#141414">Cell 4</text>
<text x="31.8" y="331.45" font-size="13.5" fill="#141414">Cell 5</text>
<text x="31.8" y="360.5" font-size="13.5" fill="#141414">Cell 6</text>
<text x="31.8" y="413.25" font-size="13.5" fill="#141414">Cell 7</text>
<text x="31.8" y="442.65" font-size="13.5" fill="#141414">Cell 8</text>
<text x="31.8" y="472.05" font-size="13.5" fill="#141414">Cell 9</text>
<path d="M235.9,377.4 L249.1,377.4 L242.5,393.8 Z" fill="#ff1a1a"/>
<rect x="241.25" y="376.6" width="2.5" height="1.8" fill="#ff1a1a"/>
<path d="M283.4,377.4 L296.6,377.4 L290,393.8 Z" fill="#ff1a1a"/>
<rect x="288.75" y="376.6" width="2.5" height="1.8" fill="#ff1a1a"/>
<line x1="72.6" y1="489.6" x2="290" y2="489.6" stroke="#000" stroke-width="2.6" stroke-linecap="round"/>
<path d="M287,483 L303,489.6 L287,496.3 Z" fill="#000"/>
<text x="147.5" y="507" font-size="13.7" fill="#141414">Time (12.5s)</text>
<text x="341.7" y="23" font-size="13.5" font-weight="bold" fill="#141414">C</text>
<text x="394.5" y="27.4" font-size="13.95" fill="#141414"><tspan font-style="italic">cKitCreER<tspan font-size="9.9" dy="-4.9">T2</tspan></tspan><tspan dy="4.9">-GCaMP6f Cell Plots</tspan></text>
<line x1="381.5" y1="46" x2="381.5" y2="66.5" stroke="#1a1a1a" stroke-width="1.1"/>
<line x1="376.7" y1="46" x2="381.5" y2="46" stroke="#1a1a1a" stroke-width="1"/>
<line x1="376.7" y1="56" x2="381.5" y2="56" stroke="#1a1a1a" stroke-width="1"/>
<line x1="379.5" y1="66.5" x2="383.5" y2="66.5" stroke="#1a1a1a" stroke-width="1"/>
<text x="375.9" y="49.7" font-size="10.3" font-weight="bold" text-anchor="end" fill="#141414">4</text>
<text x="375.9" y="59.7" font-size="10.3" font-weight="bold" text-anchor="end" fill="#141414">3</text>
<text x="375.9" y="70.2" font-size="10.3" font-weight="bold" text-anchor="end" fill="#141414">2</text>
<g style="isolation:isolate">
<g>
<polyline fill="none" stroke="#9c8fc0" stroke-width="0.6" stroke-opacity="0.8" stroke-linejoin="round" points="381.4,164.34 382,177.43 382.6,174.4 383.2,172.13 383.8,179.39 384.39,174.59 384.99,174.61 385.59,185.25 386.19,168.42 386.79,170.95 387.39,178.4 387.99,175.64 388.59,171.53 389.19,176.19 389.79,176.07 390.38,183.42 390.98,171.23 391.58,173.85 392.18,172.93 392.78,183.87 393.38,164.58 393.98,173.66 394.58,176.95 395.18,162.28 395.78,174.88 396.37,183.41 396.97,177.06 397.57,187.37 398.17,168.23 398.77,177.13 399.37,179.11 399.97,168.09 400.57,184.63 401.17,171.35 401.77,187.14 402.36,178.62 402.96,181.91 403.56,165.72 404.16,163.88 404.76,176.6 405.36,169.5 405.96,175.69 406.56,171.15 407.16,179.17 407.76,183.39 408.35,185.55 408.95,172.27 409.55,160.95 410.15,172.96 410.75,177.79 411.35,162.99 411.95,173.16 412.55,173.98 413.15,173.07 413.75,173.15 414.34,176.48 414.94,183.31 415.54,171.55 416.14,175.18 416.74,167.36 417.34,176.84 417.94,186.18 418.54,175.2 419.14,164.28 419.74,176.93 420.33,180 420.93,181.85 421.53,180.98 422.13,176.42 422.73,181.76 423.33,165.51 423.93,176.32 424.53,173.94 425.13,165.87 425.73,165.47 426.32,175.89 426.92,172.58 427.52,170.14 428.12,175.77 428.72,185.4 429.32,170.62 429.92,169.17 430.52,172.08 431.12,180.21 431.72,175.79 432.31,178.19 432.91,176.42 433.51,166.73 434.11,165.31 434.71,170.54 435.31,170.4 435.91,170.49 436.51,174.67 437.11,175.06 437.71,178.69 438.3,174.94 438.9,160.88 439.5,169.32 440.1,176.68 440.7,177.47 441.3,179.85 441.9,172.33 442.5,172.22 443.1,183.36 443.7,171.65 444.29,178.06 444.89,165.94 445.49,173.65 446.09,164.17 446.69,177.38 447.29,176.35 447.89,172.78 448.49,168.19 449.09,171.16 449.69,182.09 450.28,173.49 450.88,174.46 451.48,177.21 452.08,178.54 452.68,163.99 453.28,176.97 453.88,179.74 454.48,170.73 455.08,173.81 455.68,175.06 456.27,169.86 456.87,171.63 457.47,172.4 458.07,168.65 458.67,172.88 459.27,178.35 459.87,176.8 460.47,177.76 461.07,173.33 461.67,181.15 462.26,185.73 462.86,174.06 463.46,182.72 464.06,186.45 464.66,172.33 465.26,178.92 465.86,171.59 466.46,177.82 467.06,181.41 467.66,182.15 468.25,177.73 468.85,176.26 469.45,179.6 470.05,176.31 470.65,183.93 471.25,174.51 471.85,185.49 472.45,175.78 473.05,170.37 473.65,167.97 474.24,164.19 474.84,184.05 475.44,169.99 476.04,167.28 476.64,168.65 477.24,180.24 477.84,172.1 478.44,163.31 479.04,183.69 479.64,171.71 480.23,167.85 480.83,178.83 481.43,171.06 482.03,181.1 482.63,179.53 483.23,179.56 483.83,173.43 484.43,175.15 485.03,168.81 485.63,180.31 486.22,175.4 486.82,168.76 487.42,171.19 488.02,182.64 488.62,170.56 489.22,177.5 489.82,172.26 490.42,172.77 491.02,167.2 491.62,173.89 492.21,185.86 492.81,182.92 493.41,170.16 494.01,176.17 494.61,167.69 495.21,172.94 495.81,179.15 496.41,168.03 497.01,179.5 497.61,187.06 498.2,162.07 498.8,186.2 499.4,170.74 500,168.9 500.6,173.71 501.2,184.82 501.8,168.44 502.4,183.35 503,182.76 503.6,176.8 504.19,169.81 504.79,172.78 505.39,169.68 505.99,177.29 506.59,175.65 507.19,181.5 507.79,176.52 508.39,171 508.99,176.42 509.59,171.71 510.18,178.08 510.78,178.2 511.38,174.36 511.98,175.78 512.58,171 513.18,173.52 513.78,164.03 514.38,175.93 514.98,175.98 515.58,180.92 516.17,174.46 516.77,170.45 517.37,179.1 517.97,174.9 518.57,170.24 519.17,175.37 519.77,177.75 520.37,168.69 520.97,174.01 521.57,172.19 522.16,167.49 522.76,167.65 523.36,176.71 523.96,177.79 524.56,172.87 525.16,175.41 525.76,186.14 526.36,166.86 526.96,162.26 527.56,170.13 528.15,181.72 528.75,166.78 529.35,178.17 529.95,175.25 530.55,183.11 531.15,175.61 531.75,176 532.35,175.73 532.95,171.94 533.55,174.23 534.14,168.68 534.74,177.44 535.34,180.65 535.94,174.72 536.54,170.78 537.14,167.04 537.74,169.66 538.34,185.32 538.94,172.31 539.54,165.73 540.13,174.22 540.73,177.73 541.33,172.72 541.93,177.66 542.53,170.72 543.13,168.21 543.73,166.14 544.33,171.57 544.93,179 545.53,170.93 546.12,168.92 546.72,178.05 547.32,177.19 547.92,187.37 548.52,169.11 549.12,178.17 549.72,187.37 550.32,185.34 550.92,175.95 551.52,169.98 552.11,175.14 552.71,171.74 553.31,181.29 553.91,182.74 554.51,169.22 555.11,171.61 555.71,174.79 556.31,166.82 556.91,180.38 557.51,177.15 558.1,168.37 558.7,163.44 559.3,174.55 559.9,164.4 560.5,178.26 561.1,172.6 561.7,175.66 562.3,184.24 562.9,173.03 563.5,168.94 564.09,175.5 564.69,175.03 565.29,166.14 565.89,182.19 566.49,183.69 567.09,178.57 567.69,181.87 568.29,166.43 568.89,172.72 569.49,179.85 570.08,178.33 570.68,157.23 571.28,178.3 571.88,179.23 572.48,172.75 573.08,170.72 573.68,173.25 574.28,180.12 574.88,181.64 575.48,170.98 576.07,174.93 576.67,184.57 577.27,167.49 577.87,169.89 578.47,176.06 579.07,176.18 579.67,173.19 580.27,178.77 580.87,182.79 581.47,172.64 582.06,183.34 582.66,172.23 583.26,183.35 583.86,175.2 584.46,175.42 585.06,163.78 585.66,181.06 586.26,183.19 586.86,178.52 587.46,181.42 588.05,178.18 588.65,172.04 589.25,169.91 589.85,164.52 590.45,179.07 591.05,158.58 591.65,162.56 592.25,175.84 592.85,187.37 593.45,175.1 594.04,174.16 594.64,187.37 595.24,174.15 595.84,175.82 596.44,179.37 597.04,170.8 597.64,168.5 598.24,177.55 598.84,173.21 599.44,178.58 600.03,179.38 600.63,174.12 601.23,171.42 601.83,178.02 602.43,187.37 603.03,171.04 603.63,184.29 604.23,173.86 604.83,163.8 605.43,174.7 606.02,181.82 606.62,183.47 607.22,167.49 607.82,174.7 608.42,171.32 609.02,168.98 609.62,174.9 610.22,176.47 610.82,180.35 611.42,187.37 612.01,183.82 612.61,175.02 613.21,175.66 613.81,172.15 614.41,175.37 615.01,173.63 615.61,169.82 616.21,179.97 616.81,176.34 617.41,184.36 618,168.69 618.6,174.37 619.2,171.63 619.8,165.23 620.4,168.04 621,174.96 621.6,169.82 622.2,183.29 622.8,171.97 623.4,173.76 623.99,184.43 624.59,166.48 625.19,178.88 625.79,170.45 626.39,177.15 626.99,168.57 627.59,166.63 628.19,179.64 628.79,183.89 629.39,175.4 629.98,169.45 630.58,176.85 631.18,178.33 631.78,171.64 632.38,187.37"/>
<polyline fill="none" stroke="#6c6c6c" stroke-width="0.6" stroke-opacity="0.8" stroke-linejoin="round" points="381.4,173.18 382,175.05 382.6,173.19 383.2,168.98 383.8,174.28 384.39,179.76 384.99,167.52 385.59,177.23 386.19,179.01 386.79,184.08 387.39,174.55 387.99,180.96 388.59,177.75 389.19,171.87 389.79,174.4 390.38,168.43 390.98,172.75 391.58,177.05 392.18,176.6 392.78,177.68 393.38,170.68 393.98,174.47 394.58,177.1 395.18,169.47 395.78,174.02 396.37,177.43 396.97,183.78 397.57,171.94 398.17,173.15 398.77,174.29 399.37,177.24 399.97,179.66 400.57,175.98 401.17,173.19 401.77,175.38 402.36,175.48 402.96,177.44 403.56,172.54 404.16,173.18 404.76,179.17 405.36,169.98 405.96,169.79 406.56,169.66 407.16,175.39 407.76,175.78 408.35,181.64 408.95,170.02 409.55,187.37 410.15,176.97 410.75,176.66 411.35,169.4 411.95,174.6 412.55,180.46 413.15,183.26 413.75,179.03 414.34,173.95 414.94,174.27 415.54,175.8 416.14,178.76 416.74,175.88 417.34,168.54 417.94,177.94 418.54,174.4 419.14,164.77 419.74,171.23 420.33,177.37 420.93,170.59 421.53,179.17 422.13,174.56 422.73,165.16 423.33,163.1 423.93,184.97 424.53,170.35 425.13,162.77 425.73,172.59 426.32,173.03 426.92,165.45 427.52,177.59 428.12,171.86 428.72,174.96 429.32,186.29 429.92,172.5 430.52,175.72 431.12,168.96 431.72,161.89 432.31,170.45 432.91,176.83 433.51,171.87 434.11,173.37 434.71,168.39 435.31,183.34 435.91,181.68 436.51,187.02 437.11,170.91 437.71,174.72 438.3,178.49 438.9,179 439.5,178.07 440.1,180.23 440.7,176.55 441.3,177.6 441.9,166.16 442.5,172.64 443.1,179.57 443.7,178.15 444.29,167.32 444.89,171.85 445.49,172.81 446.09,170.22 446.69,164.97 447.29,181.99 447.89,179.13 448.49,185.17 449.09,171.6 449.69,176.9 450.28,178.68 450.88,179.23 451.48,170.4 452.08,175.46 452.68,177.82 453.28,166.98 453.88,180.95 454.48,182.28 455.08,158.85 455.68,176.83 456.27,177.9 456.87,179.02 457.47,175.43 458.07,169.85 458.67,170.02 459.27,171.3 459.87,176.29 460.47,183.65 461.07,172.88 461.67,165.38 462.26,168.11 462.86,175.62 463.46,169.73 464.06,176.94 464.66,174.93 465.26,182.1 465.86,176.52 466.46,167.76 467.06,175.63 467.66,169.92 468.25,163.16 468.85,166.58 469.45,176.45 470.05,179.04 470.65,178.56 471.25,180.54 471.85,174.39 472.45,172.04 473.05,173.49 473.65,162.68 474.24,173.64 474.84,175.4 475.44,179.11 476.04,164.13 476.64,168.24 477.24,180.11 477.84,180.1 478.44,178.16 479.04,174.4 479.64,166.96 480.23,168.44 480.83,168.12 481.43,167.99 482.03,167.88 482.63,170.13 483.23,171.84 483.83,175.32 484.43,185.19 485.03,175.38 485.63,163.66 486.22,177.88 486.82,178.4 487.42,168.42 488.02,174.11 488.62,177.51 489.22,165.14 489.82,170.81 490.42,170 491.02,178.03 491.62,171.58 492.21,172.31 492.81,165.19 493.41,167.62 494.01,167.76 494.61,173.56 495.21,170.41 495.81,181.55 496.41,170.69 497.01,162.54 497.61,176.96 498.2,179.3 498.8,174.96 499.4,181.97 500,172.53 500.6,172.81 501.2,180.36 501.8,174.31 502.4,168.12 503,168.15 503.6,168.46 504.19,175.51 504.79,176.65 505.39,176.97 505.99,171 506.59,160.32 507.19,166.07 507.79,164.97 508.39,166.4 508.99,184.39 509.59,175.82 510.18,177.23 510.78,167.01 511.38,164.35 511.98,178.63 512.58,174.37 513.18,171.22 513.78,177.57 514.38,178.42 514.98,178.71 515.58,169.23 516.17,180.12 516.77,167.71 517.37,174.07 517.97,170.04 518.57,165.22 519.17,178.66 519.77,179.56 520.37,172.01 520.97,180.86 521.57,179.03 522.16,175.29 522.76,173.65 523.36,182.15 523.96,176.92 524.56,171.06 525.16,166.45 525.76,186.5 526.36,166.68 526.96,169.26 527.56,181.17 528.15,180.4 528.75,172.07 529.35,177.14 529.95,173.78 530.55,169.39 531.15,176.85 531.75,173.62 532.35,171.72 532.95,169.22 533.55,163.94 534.14,164.31 534.74,173.14 535.34,176.03 535.94,160.25 536.54,170.73 537.14,172.02 537.74,181.25 538.34,169.89 538.94,179.29 539.54,177.37 540.13,182.67 540.73,177.73 541.33,174.22 541.93,183.66 542.53,174.64 543.13,175.07 543.73,182.23 544.33,182.16 544.93,179.62 545.53,183.1 546.12,170.89 546.72,180.6 547.32,169.95 547.92,169.01 548.52,181.84 549.12,174.35 549.72,177.49 550.32,181.47 550.92,176.62 551.52,176.06 552.11,170.3 552.71,168.4 553.31,181.25 553.91,177.06 554.51,171.39 555.11,167.47 555.71,187.37 556.31,166.86 556.91,175.62 557.51,165.32 558.1,177.17 558.7,179.63 559.3,174.33 559.9,167.52 560.5,174.41 561.1,187.37 561.7,170.46 562.3,184.35 562.9,180.53 563.5,181.64 564.09,185.74 564.69,182.19 565.29,180.59 565.89,178.31 566.49,174.92 567.09,176.63 567.69,183.59 568.29,175.7 568.89,168.69 569.49,168.84 570.08,173.78 570.68,170.84 571.28,169.18 571.88,166.33 572.48,164.3 573.08,176.54 573.68,176.25 574.28,165.66 574.88,165.12 575.48,165.25 576.07,187.37 576.67,175.93 577.27,187.37 577.87,170.17 578.47,174.26 579.07,174.28 579.67,175.44 580.27,166.69 580.87,176.38 581.47,168.33 582.06,171.24 582.66,172.43 583.26,171.79 583.86,173.93 584.46,181.24 585.06,170.25 585.66,170.27 586.26,175.47 586.86,170.16 587.46,169.14 588.05,182.38 588.65,175.46 589.25,177.29 589.85,180.1 590.45,172.64 591.05,179.72 591.65,177.24 592.25,173.11 592.85,172.48 593.45,172.65 594.04,161.04 594.64,177.66 595.24,173.08 595.84,181.92 596.44,171.68 597.04,167.6 597.64,167.23 598.24,178.46 598.84,176.3 599.44,166.93 600.03,175.17 600.63,168.78 601.23,180.5 601.83,166.2 602.43,168.36 603.03,171.78 603.63,179.45 604.23,175.57 604.83,173.68 605.43,173 606.02,175.24 606.62,175.93 607.22,173.43 607.82,166.13 608.42,186.79 609.02,182.93 609.62,183.98 610.22,178.77 610.82,185.17 611.42,171.24 612.01,174.02 612.61,176.14 613.21,178.74 613.81,173.65 614.41,173.52 615.01,172.59 615.61,179.03 616.21,170.66 616.81,183.52 617.41,167.01 618,187.37 618.6,178.2 619.2,181.9 619.8,169.8 620.4,183.62 621,163.54 621.6,183.98 622.2,162.28 622.8,171.88 623.4,174.41 623.99,171.95 624.59,161.29 625.19,169.18 625.79,187.37 626.39,167.35 626.99,173.19 627.59,175.49 628.19,169.98 628.79,181.95 629.39,173.5 629.98,173.18 630.58,178.54 631.18,170.67 631.78,180.8 632.38,171.75"/>
<polyline fill="none" stroke="#cf9c30" stroke-width="0.6" stroke-opacity="0.8" stroke-linejoin="round" points="381.4,177.88 382,177.34 382.6,171 383.2,167.7 383.8,176.56 384.39,175.36 384.99,179.16 385.59,173.34 386.19,168.79 386.79,187.37 387.39,173.05 387.99,177.94 388.59,187.37 389.19,172.7 389.79,175.14 390.38,172.36 390.98,182.89 391.58,161.62 392.18,173.93 392.78,176.68 393.38,165.35 393.98,170.64 394.58,169.54 395.18,167.54 395.78,187.18 396.37,164.46 396.97,176.71 397.57,172.87 398.17,169 398.77,178.93 399.37,172.67 399.97,169.97 400.57,174.85 401.17,171.6 401.77,184.35 402.36,181.84 402.96,181.58 403.56,172.35 404.16,151.87 404.76,173 405.36,175.5 405.96,174.99 406.56,168.63 407.16,170.27 407.76,181.56 408.35,168.42 408.95,174.75 409.55,169.63 410.15,186.74 410.75,184.04 411.35,170.98 411.95,185.53 412.55,172.23 413.15,172.55 413.75,173.72 414.34,172.44 414.94,172.99 415.54,171.88 416.14,173.72 416.74,174.73 417.34,156.81 417.94,167.7 418.54,170.88 419.14,172.22 419.74,179.02 420.33,173.22 420.93,176.1 421.53,168.86 422.13,180.16 422.73,187.37 423.33,178 423.93,170.37 424.53,159.67 425.13,168.37 425.73,180.54 426.32,175.93 426.92,180.37 427.52,175.73 428.12,180.05 428.72,184.58 429.32,171.9 429.92,173.41 430.52,175.64 431.12,172.5 431.72,162.25 432.31,173.89 432.91,176.9 433.51,169.34 434.11,184.57 434.71,170.02 435.31,179.3 435.91,179.56 436.51,173.93 437.11,164.45 437.71,179.13 438.3,168.82 438.9,172.31 439.5,183.05 440.1,169.04 440.7,179.62 441.3,183.53 441.9,179.41 442.5,179.01 443.1,171.01 443.7,179.04 444.29,165.53 444.89,173.26 445.49,178.96 446.09,179.67 446.69,173.22 447.29,186.92 447.89,187.37 448.49,179.97 449.09,170.78 449.69,173.51 450.28,174.47 450.88,175.9 451.48,187.37 452.08,176.57 452.68,185.38 453.28,169.53 453.88,174.65 454.48,175.15 455.08,172.18 455.68,172.64 456.27,173.19 456.87,172.49 457.47,178.18 458.07,182.71 458.67,172.53 459.27,165.82 459.87,168.46 460.47,175.9 461.07,170.88 461.67,177.27 462.26,172.27 462.86,178.29 463.46,173.75 464.06,162.44 464.66,169.91 465.26,165.5 465.86,179.3 466.46,178.77 467.06,174.84 467.66,171.22 468.25,175.87 468.85,168.45 469.45,177.94 470.05,166.34 470.65,168.72 471.25,181.38 471.85,171.06 472.45,175.96 473.05,168.41 473.65,177.86 474.24,172.71 474.84,171.29 475.44,187.37 476.04,186.02 476.64,173.82 477.24,175.37 477.84,168.43 478.44,173.23 479.04,182.32 479.64,172.61 480.23,179.16 480.83,175.99 481.43,177.69 482.03,172.48 482.63,183.23 483.23,181.4 483.83,187.37 484.43,161.58 485.03,180.67 485.63,179.85 486.22,181.61 486.82,178.51 487.42,177.26 488.02,170.87 488.62,173.53 489.22,172.61 489.82,178.19 490.42,175.05 491.02,167.21 491.62,174.74 492.21,172.74 492.81,186.93 493.41,171.46 494.01,173.03 494.61,166.78 495.21,187.37 495.81,174.47 496.41,175.38 497.01,174.14 497.61,178.48 498.2,173.4 498.8,170.42 499.4,174.42 500,176.47 500.6,175.99 501.2,177.06 501.8,174.46 502.4,179.07 503,186.8 503.6,166.49 504.19,185.4 504.79,175.46 505.39,182.67 505.99,176.49 506.59,180.62 507.19,163.51 507.79,179.88 508.39,182.65 508.99,172.9 509.59,166.68 510.18,172.69 510.78,174.13 511.38,181.19 511.98,175.31 512.58,172.1 513.18,178.77 513.78,169.36 514.38,175.07 514.98,172.69 515.58,177.86 516.17,177.81 516.77,173.51 517.37,172.51 517.97,172.75 518.57,181.04 519.17,179.32 519.77,175 520.37,186.15 520.97,168.53 521.57,172.96 522.16,174.64 522.76,179.22 523.36,169.91 523.96,176.55 524.56,163.36 525.16,172.51 525.76,183.96 526.36,170.49 526.96,178.11 527.56,178.07 528.15,176.38 528.75,175.71 529.35,173.39 529.95,170.29 530.55,172.17 531.15,179.33 531.75,183.13 532.35,179.83 532.95,172.75 533.55,169.67 534.14,164.01 534.74,183.12 535.34,174.46 535.94,176.34 536.54,177.39 537.14,174.11 537.74,176.46 538.34,176.57 538.94,178.88 539.54,172.55 540.13,168.55 540.73,165.04 541.33,178.15 541.93,181.36 542.53,176.55 543.13,180.03 543.73,168.71 544.33,179.93 544.93,174.51 545.53,183.12 546.12,177.08 546.72,173.8 547.32,165.67 547.92,179.17 548.52,172.72 549.12,187.37 549.72,182.29 550.32,179.91 550.92,178 551.52,172.35 552.11,171.13 552.71,184.74 553.31,171.76 553.91,181.75 554.51,163.83 555.11,173.08 555.71,174.05 556.31,176.06 556.91,175.19 557.51,174.97 558.1,179.18 558.7,170.45 559.3,173.35 559.9,170.44 560.5,175.36 561.1,170.86 561.7,179.58 562.3,153.35 562.9,179.3 563.5,177.69 564.09,169.14 564.69,167.5 565.29,179.82 565.89,185.08 566.49,183.48 567.09,181.02 567.69,179.76 568.29,175.99 568.89,168.74 569.49,168.44 570.08,178.7 570.68,171.72 571.28,169.64 571.88,166.47 572.48,175.97 573.08,179.51 573.68,170.45 574.28,165.8 574.88,178.19 575.48,163.17 576.07,164.57 576.67,176.6 577.27,184.53 577.87,178.63 578.47,177.14 579.07,171.78 579.67,185.15 580.27,160.25 580.87,160.8 581.47,179.4 582.06,186.32 582.66,176.04 583.26,172.44 583.86,166.84 584.46,170.69 585.06,176.24 585.66,186.97 586.26,171.92 586.86,169.91 587.46,176.91 588.05,173.36 588.65,173.79 589.25,176.51 589.85,182.05 590.45,172.95 591.05,183.64 591.65,166.52 592.25,180.49 592.85,172.05 593.45,179.47 594.04,172.74 594.64,176.32 595.24,171.81 595.84,179.84 596.44,184.94 597.04,176.75 597.64,177.18 598.24,184.18 598.84,179.24 599.44,185.21 600.03,174.36 600.63,177.32 601.23,174.96 601.83,159.25 602.43,174.09 603.03,172.78 603.63,171.24 604.23,166.34 604.83,178.64 605.43,169.72 606.02,168.81 606.62,187.37 607.22,176.04 607.82,177.12 608.42,178.49 609.02,167.52 609.62,178.31 610.22,169.82 610.82,178.36 611.42,177.54 612.01,170.65 612.61,179.55 613.21,176.05 613.81,181.77 614.41,180.45 615.01,170.69 615.61,171.52 616.21,182.02 616.81,182.26 617.41,159.62 618,178.98 618.6,180.37 619.2,171.97 619.8,179.79 620.4,177.3 621,169.66 621.6,169.02 622.2,176.28 622.8,166.94 623.4,175.96 623.99,176.54 624.59,175.12 625.19,176.95 625.79,171.89 626.39,173.37 626.99,179.79 627.59,173.99 628.19,178.38 628.79,178.59 629.39,175.93 629.98,168.9 630.58,173.41 631.18,167.39 631.78,165.6 632.38,175.29"/>
<polyline fill="none" stroke="#22d6d6" stroke-width="0.6" stroke-opacity="0.8" stroke-linejoin="round" points="381.4,176.26 382,174.24 382.6,176.44 383.2,172.75 383.8,163.18 384.39,179.81 384.99,181.44 385.59,168.88 386.19,173.82 386.79,185.66 387.39,180.32 387.99,179.19 388.59,177.86 389.19,172.21 389.79,168.12 390.38,175.14 390.98,173.25 391.58,178.67 392.18,167.95 392.78,165.99 393.38,175.74 393.98,178.64 394.58,161.56 395.18,168.5 395.78,179.55 396.37,184.4 396.97,175.91 397.57,166.85 398.17,177.43 398.77,175.61 399.37,177.11 399.97,170.16 400.57,165.64 401.17,181.76 401.77,175.86 402.36,175.32 402.96,177.89 403.56,181.36 404.16,169.11 404.76,173.15 405.36,169.72 405.96,164.89 406.56,176.31 407.16,170.8 407.76,176.53 408.35,174.62 408.95,172.06 409.55,175.07 410.15,183.25 410.75,164.91 411.35,173.16 411.95,174.38 412.55,187.37 413.15,174.22 413.75,170.1 414.34,167.93 414.94,167.27 415.54,176.38 416.14,170.14 416.74,183.44 417.34,173.14 417.94,168.49 418.54,177.77 419.14,175.04 419.74,173.42 420.33,173.22 420.93,165 421.53,180.63 422.13,165.92 422.73,181.65 423.33,178.12 423.93,178.78 424.53,174.59 425.13,177.07 425.73,171.12 426.32,173.99 426.92,160.67 427.52,171.71 428.12,175.59 428.72,171.78 429.32,170.42 429.92,175.21 430.52,180.82 431.12,178.95 431.72,172.97 432.31,168.99 432.91,171.13 433.51,174.58 434.11,170.63 434.71,177.05 435.31,172.48 435.91,165.42 436.51,167.27 437.11,165.82 437.71,176.31 438.3,172.82 438.9,180.19 439.5,168.48 440.1,176.65 440.7,182.08 441.3,177.09 441.9,172.53 442.5,187.37 443.1,182.68 443.7,168.08 444.29,173.49 444.89,174.35 445.49,183.85 446.09,164.45 446.69,161.45 447.29,169.81 447.89,180.84 448.49,170.57 449.09,167.14 449.69,176.07 450.28,175.6 450.88,174.79 451.48,170.45 452.08,175.52 452.68,176.02 453.28,182.92 453.88,184.19 454.48,168.4 455.08,164.53 455.68,168.85 456.27,165.48 456.87,177.38 457.47,174.4 458.07,171.84 458.67,175.11 459.27,163.97 459.87,182.17 460.47,177.6 461.07,176.24 461.67,178.41 462.26,168.99 462.86,182.15 463.46,167.21 464.06,168.62 464.66,172.19 465.26,165.63 465.86,159.85 466.46,173 467.06,169.67 467.66,171.71 468.25,170.92 468.85,177.15 469.45,178.44 470.05,170.37 470.65,177.22 471.25,168.4 471.85,169.21 472.45,176.75 473.05,171.82 473.65,173.55 474.24,174.86 474.84,167.14 475.44,173.76 476.04,172.43 476.64,185.77 477.24,170.37 477.84,182.73 478.44,176.34 479.04,164.23 479.64,163.16 480.23,173.48 480.83,181.61 481.43,171.56 482.03,176.4 482.63,171.92 483.23,182.14 483.83,167.19 484.43,164.58 485.03,182.75 485.63,178.65 486.22,178.19 486.82,169.52 487.42,185.9 488.02,172.7 488.62,175.35 489.22,178.77 489.82,169.69 490.42,185.79 491.02,182.26 491.62,178.71 492.21,169.65 492.81,176.06 493.41,178.98 494.01,171.03 494.61,176.86 495.21,177.85 495.81,175.77 496.41,171.88 497.01,157.58 497.61,180.52 498.2,172.23 498.8,174.85 499.4,175.48 500,164.68 500.6,169.19 501.2,169.8 501.8,176.62 502.4,179 503,172.07 503.6,175.58 504.19,177.32 504.79,169.77 505.39,181.15 505.99,178.24 506.59,169.05 507.19,174.32 507.79,169.77 508.39,178.98 508.99,169.53 509.59,178.1 510.18,165.57 510.78,168.98 511.38,170.96 511.98,164.46 512.58,171.65 513.18,177.59 513.78,164.33 514.38,171.65 514.98,166.35 515.58,172.81 516.17,166.68 516.77,178.97 517.37,181.39 517.97,182.23 518.57,169.1 519.17,185.62 519.77,184.51 520.37,182.29 520.97,172.28 521.57,171.03 522.16,178.62 522.76,168.9 523.36,171.73 523.96,166.32 524.56,167.93 525.16,177.84 525.76,172.44 526.36,174.65 526.96,170.84 527.56,172.41 528.15,173.48 528.75,169.32 529.35,173.25 529.95,169.18 530.55,173.41 531.15,174.57 531.75,168.02 532.35,167.84 532.95,166.09 533.55,169.79 534.14,174.89 534.74,172.45 535.34,172.65 535.94,184.26 536.54,180.41 537.14,164.36 537.74,173.96 538.34,187.37 538.94,174.32 539.54,172.63 540.13,181.05 540.73,159.82 541.33,166.79 541.93,168.69 542.53,174.76 543.13,170.7 543.73,168.51 544.33,170.73 544.93,177.68 545.53,172.48 546.12,172.83 546.72,171.87 547.32,179.95 547.92,172.06 548.52,173.64 549.12,172.23 549.72,172.45 550.32,182.39 550.92,168.5 551.52,169.16 552.11,181.83 552.71,166.24 553.31,178.87 553.91,176.47 554.51,167.67 555.11,163.68 555.71,161.77 556.31,173.22 556.91,180.56 557.51,173.11 558.1,187.37 558.7,163.04 559.3,172.27 559.9,171.16 560.5,172.96 561.1,179.06 561.7,174.64 562.3,178.68 562.9,177.04 563.5,171.97 564.09,181.29 564.69,164.09 565.29,173.58 565.89,169.04 566.49,177.95 567.09,181.63 567.69,171.81 568.29,173.16 568.89,175.56 569.49,174.57 570.08,178.01 570.68,171.69 571.28,177.2 571.88,174.18 572.48,167.61 573.08,182.34 573.68,177.81 574.28,178.46 574.88,179.21 575.48,182.56 576.07,176.09 576.67,173.53 577.27,175.14 577.87,184.12 578.47,170.38 579.07,170.24 579.67,174.07 580.27,180.54 580.87,179.69 581.47,162.77 582.06,164.14 582.66,171.67 583.26,180.05 583.86,163.94 584.46,173.49 585.06,164.45 585.66,178.03 586.26,171.74 586.86,175.84 587.46,170.03 588.05,178.4 588.65,169.04 589.25,176.9 589.85,179.95 590.45,171.15 591.05,173.16 591.65,187.34 592.25,174.83 592.85,173.97 593.45,173.46 594.04,162.23 594.64,178.47 595.24,174.69 595.84,184.85 596.44,183.39 597.04,178.05 597.64,175.39 598.24,175.79 598.84,170.76 599.44,170.18 600.03,168.5 600.63,175.59 601.23,171.63 601.83,178.94 602.43,159.52 603.03,171.69 603.63,177.64 604.23,187.37 604.83,178.55 605.43,159.03 606.02,175.2 606.62,178.47 607.22,173.96 607.82,167.86 608.42,172.59 609.02,175.86 609.62,182.38 610.22,176.41 610.82,181.85 611.42,172.48 612.01,165.49 612.61,168.23 613.21,178.21 613.81,180.58 614.41,183.06 615.01,171.94 615.61,171.18 616.21,169.84 616.81,172.58 617.41,179.82 618,186.29 618.6,167.89 619.2,179.73 619.8,163.16 620.4,187.37 621,181.37 621.6,180.34 622.2,173.08 622.8,170.66 623.4,178.04 623.99,171.08 624.59,182.59 625.19,177.73 625.79,182.05 626.39,178.08 626.99,178.6 627.59,172.87 628.19,153.86 628.79,183.03 629.39,175.95 629.98,170.58 630.58,174.3 631.18,166.13 631.78,180.93 632.38,170.03"/>
<polyline fill="none" stroke="#a0689f" stroke-width="0.6" stroke-opacity="0.8" stroke-linejoin="round" points="381.4,172.34 382,178.52 382.6,184.43 383.2,175.61 383.8,174.04 384.39,177.82 384.99,178.75 385.59,169.18 386.19,175.34 386.79,177.18 387.39,169.57 387.99,174.78 388.59,178.88 389.19,169.42 389.79,176.84 390.38,169.09 390.98,178.73 391.58,172.72 392.18,167.22 392.78,171.92 393.38,171.65 393.98,171.96 394.58,169.49 395.18,174.17 395.78,171.96 396.37,176.03 396.97,163.04 397.57,179.93 398.17,169.69 398.77,180.55 399.37,171.41 399.97,166.75 400.57,181.23 401.17,164.09 401.77,180.42 402.36,179.58 402.96,172.71 403.56,181.25 404.16,168.77 404.76,171.71 405.36,187.37 405.96,183.22 406.56,179 407.16,172.16 407.76,181.1 408.35,179.01 408.95,170.96 409.55,180.64 410.15,172.91 410.75,182.88 411.35,168.68 411.95,166.17 412.55,181.58 413.15,187.37 413.75,184.79 414.34,168.95 414.94,178.15 415.54,168.43 416.14,182.76 416.74,180.38 417.34,175.47 417.94,168.35 418.54,176.06 419.14,180.92 419.74,172.97 420.33,174.25 420.93,171.76 421.53,175.83 422.13,178.5 422.73,174.64 423.33,187.37 423.93,173.17 424.53,167.4 425.13,171.46 425.73,180.47 426.32,183.96 426.92,166.88 427.52,177.82 428.12,176.03 428.72,173.43 429.32,178.32 429.92,174.53 430.52,160.91 431.12,177.75 431.72,163.28 432.31,172.47 432.91,172.85 433.51,169.09 434.11,169.24 434.71,168.44 435.31,171.42 435.91,178.25 436.51,164.99 437.11,175.65 437.71,179.75 438.3,169.38 438.9,170.85 439.5,174.93 440.1,174.3 440.7,171.25 441.3,163.2 441.9,175.19 442.5,182.3 443.1,178.15 443.7,171.68 444.29,175.95 444.89,178.73 445.49,170.37 446.09,170.32 446.69,159.52 447.29,173.04 447.89,178.56 448.49,178.4 449.09,176.8 449.69,182.91 450.28,172.74 450.88,175.25 451.48,177.82 452.08,174.16 452.68,174.01 453.28,179.28 453.88,178.38 454.48,179.6 455.08,166.76 455.68,184.94 456.27,175.37 456.87,169.9 457.47,181.41 458.07,180.7 458.67,180.83 459.27,185.81 459.87,167.98 460.47,176.58 461.07,181.84 461.67,179.08 462.26,174.28 462.86,177.33 463.46,180.76 464.06,172.38 464.66,180.76 465.26,177.83 465.86,174.44 466.46,179.84 467.06,175.04 467.66,179.36 468.25,159.53 468.85,177.99 469.45,171.42 470.05,180.7 470.65,182.28 471.25,176.33 471.85,177.67 472.45,177.65 473.05,175.81 473.65,170.32 474.24,164.16 474.84,163.54 475.44,175.3 476.04,164.68 476.64,165.48 477.24,179.47 477.84,178.64 478.44,176.36 479.04,164 479.64,176.66 480.23,177.27 480.83,167.51 481.43,176.93 482.03,176.79 482.63,172.29 483.23,174.85 483.83,187.37 484.43,175.98 485.03,171.7 485.63,184.56 486.22,161.96 486.82,176.39 487.42,174.45 488.02,174.28 488.62,186.76 489.22,180.26 489.82,182.29 490.42,174.54 491.02,166.81 491.62,177.33 492.21,175.55 492.81,187.37 493.41,178.22 494.01,177.42 494.61,177.09 495.21,172.36 495.81,167.53 496.41,176.05 497.01,173.59 497.61,185.32 498.2,172.3 498.8,175.74 499.4,186.45 500,173.91 500.6,179.89 501.2,169.85 501.8,173.16 502.4,175.42 503,165.6 503.6,176.87 504.19,177.76 504.79,175.69 505.39,175.18 505.99,180.99 506.59,172.43 507.19,173.31 507.79,178.99 508.39,185.19 508.99,168.54 509.59,167.84 510.18,170.29 510.78,169.72 511.38,164.79 511.98,173.53 512.58,165.65 513.18,176.29 513.78,180.58 514.38,175.21 514.98,177.16 515.58,172.28 516.17,164.3 516.77,172.66 517.37,168.86 517.97,162.32 518.57,164.29 519.17,174.55 519.77,179.13 520.37,162.25 520.97,181.54 521.57,186.04 522.16,187.09 522.76,167.97 523.36,176.71 523.96,176.57 524.56,175.81 525.16,167.14 525.76,183.31 526.36,174.7 526.96,173.19 527.56,166.49 528.15,176.45 528.75,156.35 529.35,176.68 529.95,168.38 530.55,169.28 531.15,177.32 531.75,171.65 532.35,183.92 532.95,174.54 533.55,180.3 534.14,177.45 534.74,168.82 535.34,161.91 535.94,173.65 536.54,175.74 537.14,176.91 537.74,170.34 538.34,175.96 538.94,168.93 539.54,165.55 540.13,171.07 540.73,177.19 541.33,170.23 541.93,179.03 542.53,185.5 543.13,167.92 543.73,163.22 544.33,166.82 544.93,177.01 545.53,187.37 546.12,179.29 546.72,171.09 547.32,177.26 547.92,166.44 548.52,179.81 549.12,171.89 549.72,173.54 550.32,173.34 550.92,183.43 551.52,175.54 552.11,173.33 552.71,177.36 553.31,170.58 553.91,177.9 554.51,180.76 555.11,172.86 555.71,169.08 556.31,172.98 556.91,172.73 557.51,176.07 558.1,173.82 558.7,186.83 559.3,174.55 559.9,169.6 560.5,178.21 561.1,170.79 561.7,184.17 562.3,174.74 562.9,176.17 563.5,172.2 564.09,174.15 564.69,161.5 565.29,187.37 565.89,180.39 566.49,179.15 567.09,174.47 567.69,178.98 568.29,179.17 568.89,184.65 569.49,183.33 570.08,180.37 570.68,165.82 571.28,180.01 571.88,158.26 572.48,168.57 573.08,176.82 573.68,170.08 574.28,168.82 574.88,182.37 575.48,184.95 576.07,166.1 576.67,180.9 577.27,169.76 577.87,170.89 578.47,185.24 579.07,168.44 579.67,171.6 580.27,162.91 580.87,175.24 581.47,172.25 582.06,172.73 582.66,176.47 583.26,165.04 583.86,169.13 584.46,165.65 585.06,172.86 585.66,167.92 586.26,180.85 586.86,178.83 587.46,168.92 588.05,176.43 588.65,177.45 589.25,174.07 589.85,184.69 590.45,174.02 591.05,172.05 591.65,175.07 592.25,181.89 592.85,164.35 593.45,172.44 594.04,181.3 594.64,178.64 595.24,184.91 595.84,185.67 596.44,186.71 597.04,180.14 597.64,172.47 598.24,170.54 598.84,175.75 599.44,168.81 600.03,171.58 600.63,182.06 601.23,180.19 601.83,173.31 602.43,170.89 603.03,168.42 603.63,183.43 604.23,186.9 604.83,162.72 605.43,176.72 606.02,168.26 606.62,174.79 607.22,183.42 607.82,166.44 608.42,172.11 609.02,165.94 609.62,171.25 610.22,180.97 610.82,175.16 611.42,168.83 612.01,179.13 612.61,173.76 613.21,167.81 613.81,182.43 614.41,177.16 615.01,173.81 615.61,169.03 616.21,175.44 616.81,179.23 617.41,171.43 618,178.57 618.6,172.29 619.2,172.66 619.8,176.03 620.4,169.6 621,167.63 621.6,182.78 622.2,171.64 622.8,175.82 623.4,176.64 623.99,174.28 624.59,167.62 625.19,175.68 625.79,176.74 626.39,182.41 626.99,175.78 627.59,174.76 628.19,180.56 628.79,176.59 629.39,171.82 629.98,166.26 630.58,176.43 631.18,162.55 631.78,168.6 632.38,169.37"/>
<polyline fill="none" stroke="#e238dc" stroke-width="0.6" stroke-opacity="0.8" stroke-linejoin="round" points="381.4,175.06 382,167.58 382.6,179.37 383.2,173.46 383.8,182.46 384.39,167.72 384.99,170.35 385.59,168.81 386.19,174 386.79,175.38 387.39,182.2 387.99,172.8 388.59,166.62 389.19,187.37 389.79,164.3 390.38,179.48 390.98,171.81 391.58,179.45 392.18,175.54 392.78,169.8 393.38,175.72 393.98,163.95 394.58,174.39 395.18,170.79 395.78,178.26 396.37,177.59 396.97,176.97 397.57,171.65 398.17,154.98 398.77,174.41 399.37,182.22 399.97,178.24 400.57,182.72 401.17,171.74 401.77,174.45 402.36,180.96 402.96,176.74 403.56,169.05 404.16,171.89 404.76,177.98 405.36,170.15 405.96,172.28 406.56,177.85 407.16,173.51 407.76,163.51 408.35,181.12 408.95,168.57 409.55,175.43 410.15,170.86 410.75,172.23 411.35,172.94 411.95,175.52 412.55,174.58 413.15,170.59 413.75,171.88 414.34,183.24 414.94,171.9 415.54,166.84 416.14,169.3 416.74,173.35 417.34,185.4 417.94,171.09 418.54,170.67 419.14,165.93 419.74,180.25 420.33,175.99 420.93,177.74 421.53,176.2 422.13,184.82 422.73,177.4 423.33,177.17 423.93,176.85 424.53,165.19 425.13,178.36 425.73,177.28 426.32,168 426.92,177.99 427.52,167.54 428.12,171.99 428.72,178.39 429.32,178.86 429.92,173.85 430.52,175.84 431.12,174.1 431.72,178.09 432.31,171.18 432.91,178.67 433.51,177.47 434.11,175.76 434.71,182.15 435.31,176.58 435.91,175.92 436.51,183.28 437.11,185.33 437.71,167.35 438.3,176.3 438.9,175.55 439.5,178.48 440.1,165.35 440.7,175.95 441.3,185.32 441.9,171.82 442.5,180.51 443.1,172.14 443.7,175.51 444.29,167.16 444.89,171.88 445.49,176.95 446.09,166.22 446.69,158.47 447.29,177.84 447.89,168.19 448.49,172.42 449.09,171.97 449.69,182.02 450.28,180.45 450.88,166.19 451.48,173.72 452.08,177.79 452.68,163.88 453.28,167.32 453.88,170.22 454.48,180.43 455.08,174.66 455.68,165.81 456.27,186.72 456.87,184.07 457.47,179.37 458.07,168.77 458.67,173.21 459.27,171.77 459.87,173.41 460.47,173.96 461.07,167.36 461.67,152.99 462.26,171.76 462.86,166.71 463.46,177.18 464.06,164.96 464.66,173.97 465.26,161.68 465.86,177.29 466.46,179.11 467.06,177.8 467.66,180.37 468.25,182.28 468.85,163.45 469.45,171.85 470.05,168.58 470.65,171.48 471.25,183.07 471.85,174.32 472.45,179.87 473.05,179.35 473.65,175.2 474.24,173.52 474.84,173.96 475.44,173.76 476.04,176.26 476.64,174.33 477.24,166.98 477.84,161.33 478.44,167.77 479.04,175.86 479.64,172.15 480.23,168.73 480.83,168.45 481.43,167.14 482.03,167.03 482.63,172.07 483.23,176.21 483.83,183.81 484.43,168.06 485.03,170.81 485.63,179.71 486.22,174.45 486.82,176.95 487.42,177.2 488.02,164.01 488.62,176.72 489.22,159.88 489.82,175.37 490.42,178.9 491.02,173.77 491.62,159.99 492.21,175.5 492.81,171.48 493.41,187.37 494.01,171.03 494.61,182.89 495.21,175.3 495.81,160.05 496.41,176.12 497.01,170.26 497.61,175.96 498.2,176.63 498.8,172.92 499.4,168.02 500,174.01 500.6,174.72 501.2,180.41 501.8,184.82 502.4,173.83 503,175.71 503.6,172.98 504.19,168.32 504.79,169.65 505.39,179.94 505.99,173.07 506.59,172.93 507.19,176.12 507.79,187.37 508.39,179.5 508.99,175.22 509.59,170.07 510.18,176.55 510.78,183.11 511.38,166.42 511.98,174.9 512.58,177.45 513.18,171.46 513.78,170.5 514.38,174.81 514.98,178.25 515.58,178.16 516.17,169.9 516.77,175.56 517.37,171.71 517.97,186.31 518.57,177.73 519.17,177.06 519.77,177.6 520.37,186.55 520.97,177.46 521.57,165.23 522.16,172.92 522.76,177.96 523.36,179.13 523.96,182.99 524.56,173.4 525.16,179.53 525.76,177.19 526.36,169.39 526.96,169.07 527.56,171.04 528.15,184.85 528.75,178.23 529.35,167.66 529.95,182 530.55,167.2 531.15,174.98 531.75,169.07 532.35,177.35 532.95,181.9 533.55,180.99 534.14,166 534.74,176.8 535.34,182.27 535.94,169.89 536.54,184.21 537.14,175.83 537.74,172.79 538.34,173.07 538.94,172.28 539.54,175.4 540.13,187.37 540.73,173.37 541.33,175.13 541.93,176.07 542.53,171.89 543.13,170.2 543.73,173.57 544.33,165.76 544.93,161.54 545.53,173.13 546.12,176.98 546.72,182.73 547.32,169.39 547.92,185.66 548.52,164.63 549.12,168.93 549.72,178.06 550.32,170.73 550.92,180.16 551.52,181.56 552.11,170.23 552.71,181.05 553.31,173.38 553.91,175.65 554.51,165.38 555.11,172.97 555.71,165.28 556.31,169.62 556.91,179.54 557.51,181.97 558.1,187.37 558.7,174.68 559.3,187.37 559.9,179.88 560.5,187.37 561.1,178.68 561.7,170.62 562.3,180.23 562.9,178.27 563.5,177.69 564.09,173.29 564.69,183.91 565.29,174.27 565.89,175.56 566.49,181.22 567.09,180.91 567.69,167.6 568.29,170.56 568.89,172.36 569.49,180.03 570.08,177.06 570.68,182.87 571.28,185.68 571.88,177.84 572.48,178.63 573.08,182.57 573.68,182.41 574.28,172.77 574.88,177.83 575.48,184.6 576.07,162.62 576.67,185.59 577.27,173.73 577.87,181.13 578.47,170.92 579.07,174.6 579.67,168.87 580.27,175.46 580.87,153.84 581.47,166.27 582.06,175.39 582.66,176.31 583.26,175.96 583.86,179.46 584.46,172.91 585.06,164.85 585.66,165.97 586.26,173.23 586.86,171.13 587.46,170.5 588.05,178.9 588.65,165.99 589.25,173.52 589.85,186.08 590.45,171.3 591.05,180.59 591.65,173.22 592.25,170.95 592.85,176.94 593.45,173.38 594.04,166.86 594.64,183.43 595.24,186.51 595.84,175.8 596.44,176.53 597.04,162.46 597.64,169.04 598.24,171.88 598.84,168.48 599.44,186.84 600.03,183.14 600.63,177.09 601.23,173.99 601.83,177.71 602.43,174.45 603.03,170.88 603.63,179.45 604.23,177.72 604.83,181.03 605.43,167.82 606.02,187.37 606.62,171.53 607.22,170.51 607.82,187.37 608.42,178.12 609.02,168.62 609.62,180.68 610.22,178.71 610.82,175.47 611.42,167.23 612.01,171.46 612.61,179.38 613.21,183.58 613.81,184.39 614.41,173.21 615.01,187.37 615.61,178.77 616.21,171.67 616.81,182.57 617.41,177.24 618,175.96 618.6,170.71 619.2,183.48 619.8,174.87 620.4,175.64 621,174.67 621.6,184.87 622.2,172.22 622.8,180.42 623.4,175.99 623.99,180.45 624.59,163.52 625.19,174.95 625.79,162.3 626.39,179.08 626.99,176.97 627.59,166.33 628.19,177.5 628.79,172.59 629.39,168.26 629.98,177.51 630.58,179.36 631.18,176.76 631.78,169.11 632.38,172.65"/>
<polyline fill="none" stroke="#3a38e0" stroke-width="0.6" stroke-opacity="0.8" stroke-linejoin="round" points="381.4,173.63 382,178.46 382.6,173.09 383.2,171 383.8,174.74 384.39,154.11 384.99,172.02 385.59,172.43 386.19,176.14 386.79,186.16 387.39,182.17 387.99,169.79 388.59,176.23 389.19,185.58 389.79,175.78 390.38,174.4 390.98,170.79 391.58,172.04 392.18,172.39 392.78,179.37 393.38,184.89 393.98,178.45 394.58,166.37 395.18,183.92 395.78,169.28 396.37,183.85 396.97,182.66 397.57,174.11 398.17,179.72 398.77,169.64 399.37,181.78 399.97,173.97 400.57,169.58 401.17,183.68 401.77,171.47 402.36,172.5 402.96,170.01 403.56,187.37 404.16,169.34 404.76,181.83 405.36,176.34 405.96,177.52 406.56,181.01 407.16,180.08 407.76,179.26 408.35,171.75 408.95,166.5 409.55,176.65 410.15,170.08 410.75,173.94 411.35,167.89 411.95,182.91 412.55,173.98 413.15,175.13 413.75,174.04 414.34,172.74 414.94,169.97 415.54,173.99 416.14,171.72 416.74,176.61 417.34,175.77 417.94,177.99 418.54,168.36 419.14,170.13 419.74,167.11 420.33,177.71 420.93,175.95 421.53,159.91 422.13,168.36 422.73,183.66 423.33,170.42 423.93,172.79 424.53,176.94 425.13,176.57 425.73,180.03 426.32,178.07 426.92,179.56 427.52,181.95 428.12,177.21 428.72,180.24 429.32,170.56 429.92,168.62 430.52,175.82 431.12,176.94 431.72,171.03 432.31,175.61 432.91,162.68 433.51,187.37 434.11,187.37 434.71,181.56 435.31,172 435.91,170.16 436.51,177.74 437.11,174.77 437.71,176.63 438.3,171.9 438.9,162.6 439.5,187.37 440.1,161.36 440.7,168.43 441.3,176.71 441.9,171.82 442.5,174.96 443.1,171.91 443.7,171.92 444.29,170.08 444.89,180.89 445.49,171.08 446.09,178.78 446.69,176.59 447.29,169.96 447.89,177.46 448.49,172.94 449.09,172.8 449.69,174.14 450.28,182.16 450.88,171.79 451.48,173.63 452.08,161.19 452.68,181.05 453.28,168.31 453.88,177.28 454.48,176.54 455.08,164.31 455.68,175.51 456.27,169.82 456.87,173.9 457.47,180.17 458.07,176 458.67,177.33 459.27,176.03 459.87,163.33 460.47,171.82 461.07,185.19 461.67,163.23 462.26,172.36 462.86,169.2 463.46,165.14 464.06,179.63 464.66,172.61 465.26,175.5 465.86,176.75 466.46,176.46 467.06,173.99 467.66,167.52 468.25,169.88 468.85,172.84 469.45,167.29 470.05,187.37 470.65,174.36 471.25,172.42 471.85,172.67 472.45,165.96 473.05,173.52 473.65,166.22 474.24,175.62 474.84,170.35 475.44,173.89 476.04,176.05 476.64,171.38 477.24,171.05 477.84,179.96 478.44,168.77 479.04,176.11 479.64,173.92 480.23,187.37 480.83,166.3 481.43,186.14 482.03,169.28 482.63,179.26 483.23,177.2 483.83,175.6 484.43,182.61 485.03,174.36 485.63,181.97 486.22,175.81 486.82,169.32 487.42,166.74 488.02,165.82 488.62,175.91 489.22,180.35 489.82,171.58 490.42,165.05 491.02,179.86 491.62,166.29 492.21,175.37 492.81,187.37 493.41,174.12 494.01,163.12 494.61,170.17 495.21,168.05 495.81,172.1 496.41,184.77 497.01,187.37 497.61,181.01 498.2,176.88 498.8,180.68 499.4,179.46 500,169.81 500.6,165.66 501.2,184.85 501.8,177.4 502.4,175.16 503,175.79 503.6,187.37 504.19,156.67 504.79,170.27 505.39,172.37 505.99,186.29 506.59,172.76 507.19,181.72 507.79,171.46 508.39,172.77 508.99,174.31 509.59,171.94 510.18,178.11 510.78,173.5 511.38,187.37 511.98,170.12 512.58,175.7 513.18,159.12 513.78,173.92 514.38,187.37 514.98,165.23 515.58,179.04 516.17,181.46 516.77,174.85 517.37,166.74 517.97,162.71 518.57,176.94 519.17,173.25 519.77,173.2 520.37,178.56 520.97,177.56 521.57,175.45 522.16,174.95 522.76,168.09 523.36,186.37 523.96,171.68 524.56,172.3 525.16,166.2 525.76,176.95 526.36,176.88 526.96,173.96 527.56,178.05 528.15,178.24 528.75,178.69 529.35,178.67 529.95,180.89 530.55,178.34 531.15,179.41 531.75,179.13 532.35,182.82 532.95,168.87 533.55,172.77 534.14,174.98 534.74,181.28 535.34,170.77 535.94,176.15 536.54,175.33 537.14,174.13 537.74,175.38 538.34,168.69 538.94,179.51 539.54,178.7 540.13,173.78 540.73,175.92 541.33,171.34 541.93,169.09 542.53,166.28 543.13,168.85 543.73,176.36 544.33,175.66 544.93,176.92 545.53,167.64 546.12,176.04 546.72,175.26 547.32,180.97 547.92,170.09 548.52,179.94 549.12,187.37 549.72,170.31 550.32,172.6 550.92,169.97 551.52,168.61 552.11,171.5 552.71,172.23 553.31,174.28 553.91,179.37 554.51,187.37 555.11,186.51 555.71,172.31 556.31,169.71 556.91,174.38 557.51,179.22 558.1,170.7 558.7,174.73 559.3,174.51 559.9,176.77 560.5,181.68 561.1,180.68 561.7,172.23 562.3,164.7 562.9,163.86 563.5,175.66 564.09,171.81 564.69,175.08 565.29,173.62 565.89,172.02 566.49,169.04 567.09,181.46 567.69,163.79 568.29,175.29 568.89,180.47 569.49,160.48 570.08,179.93 570.68,174.74 571.28,178.96 571.88,167.34 572.48,187.37 573.08,172.47 573.68,184.16 574.28,165.06 574.88,161.77 575.48,169.28 576.07,179.25 576.67,167.43 577.27,161.18 577.87,172.97 578.47,176.77 579.07,165.59 579.67,182.59 580.27,176.28 580.87,174.83 581.47,173.76 582.06,167.8 582.66,175.42 583.26,181.23 583.86,183.05 584.46,175.41 585.06,171.7 585.66,168.67 586.26,170.76 586.86,182.91 587.46,171.07 588.05,178.55 588.65,166.62 589.25,176.37 589.85,176.23 590.45,177.91 591.05,168.56 591.65,175.19 592.25,157.8 592.85,167.42 593.45,181.62 594.04,174.72 594.64,168.15 595.24,169.67 595.84,170.78 596.44,172.98 597.04,183.84 597.64,183.6 598.24,169.57 598.84,178.31 599.44,174.35 600.03,170.6 600.63,183.84 601.23,185.96 601.83,171.23 602.43,178.04 603.03,176.6 603.63,167.58 604.23,176.12 604.83,174.86 605.43,172.74 606.02,185.02 606.62,163.97 607.22,172.04 607.82,177.84 608.42,167.62 609.02,180.17 609.62,178.72 610.22,182.02 610.82,175.94 611.42,179.08 612.01,172.96 612.61,178.62 613.21,172.98 613.81,171.9 614.41,172.19 615.01,172.28 615.61,174.07 616.21,179.58 616.81,186.64 617.41,172.44 618,183.1 618.6,172.51 619.2,174.89 619.8,174.88 620.4,174.55 621,171.11 621.6,180.5 622.2,172.67 622.8,168.04 623.4,169.81 623.99,167.89 624.59,176.28 625.19,175.09 625.79,163.22 626.39,171.53 626.99,173.02 627.59,168.52 628.19,179.88 628.79,175.4 629.39,171.92 629.98,174.96 630.58,165.43 631.18,171.94 631.78,169.23 632.38,179.6"/>
<polyline fill="none" stroke="#28c038" stroke-width="0.6" stroke-opacity="0.8" stroke-linejoin="round" points="381.4,169.66 382,186.33 382.6,173.55 383.2,173.03 383.8,180.44 384.39,173.54 384.99,177.87 385.59,182.07 386.19,182.54 386.79,171.5 387.39,171.26 387.99,168.18 388.59,170.21 389.19,171.8 389.79,181.14 390.38,175.91 390.98,176.34 391.58,162.59 392.18,179.91 392.78,182.44 393.38,180.72 393.98,168.62 394.58,178.5 395.18,170.26 395.78,177.74 396.37,168.45 396.97,178.26 397.57,177.35 398.17,171.07 398.77,176.06 399.37,180.06 399.97,166.02 400.57,183.11 401.17,179.78 401.77,167.82 402.36,164.38 402.96,174.69 403.56,182.21 404.16,182.36 404.76,179.84 405.36,175.21 405.96,166.62 406.56,169.19 407.16,168.86 407.76,177.63 408.35,170.17 408.95,169.84 409.55,169.54 410.15,174.73 410.75,177.08 411.35,167.94 411.95,165.18 412.55,175.95 413.15,172.47 413.75,168.03 414.34,165.41 414.94,164.01 415.54,174.37 416.14,166.91 416.74,181.41 417.34,187.37 417.94,177.14 418.54,172.46 419.14,183.6 419.74,175.46 420.33,173.52 420.93,174.71 421.53,172.95 422.13,167.85 422.73,176.15 423.33,177.36 423.93,171.3 424.53,168.18 425.13,177.2 425.73,166.39 426.32,170.13 426.92,176.86 427.52,174.78 428.12,179.31 428.72,170.48 429.32,173.97 429.92,162.68 430.52,187.37 431.12,181.89 431.72,177.65 432.31,171.45 432.91,176.76 433.51,178.88 434.11,172.06 434.71,177.13 435.31,173.15 435.91,169.22 436.51,168.73 437.11,183.91 437.71,179.01 438.3,171.94 438.9,175.64 439.5,167.6 440.1,170.96 440.7,174.05 441.3,171.85 441.9,169.2 442.5,176.81 443.1,168.44 443.7,173.47 444.29,172.96 444.89,168.41 445.49,184.14 446.09,184.4 446.69,181.38 447.29,169.42 447.89,173.82 448.49,177.85 449.09,180.74 449.69,184.68 450.28,172.8 450.88,174.7 451.48,172.28 452.08,169.13 452.68,172.87 453.28,166.51 453.88,176.98 454.48,165.62 455.08,172.02 455.68,177.75 456.27,173.49 456.87,161.68 457.47,182.02 458.07,174.25 458.67,177.08 459.27,173.57 459.87,174.21 460.47,163.5 461.07,175.79 461.67,170.65 462.26,177.59 462.86,181.19 463.46,175.5 464.06,176.07 464.66,170.6 465.26,166.78 465.86,177.29 466.46,168.16 467.06,180.64 467.66,164.26 468.25,183.33 468.85,177.65 469.45,173.16 470.05,176.87 470.65,181.33 471.25,170.5 471.85,180.58 472.45,168.97 473.05,183.3 473.65,168.55 474.24,169.79 474.84,171.6 475.44,168.5 476.04,175.89 476.64,175.02 477.24,167.88 477.84,180.85 478.44,176.3 479.04,176 479.64,176.08 480.23,176.37 480.83,187.37 481.43,174.86 482.03,173.14 482.63,167.46 483.23,170.13 483.83,178.3 484.43,176.42 485.03,180.34 485.63,176.95 486.22,178.42 486.82,168.38 487.42,172.58 488.02,171.3 488.62,177.03 489.22,175.75 489.82,171.8 490.42,179.53 491.02,171.75 491.62,169.67 492.21,178.24 492.81,174.83 493.41,179.85 494.01,165.01 494.61,172.14 495.21,168.32 495.81,176.04 496.41,179.91 497.01,175.28 497.61,166.54 498.2,165.09 498.8,170.08 499.4,174.76 500,172.27 500.6,168.24 501.2,180.69 501.8,169.38 502.4,179.44 503,173.03 503.6,170.26 504.19,172.9 504.79,173.97 505.39,166.92 505.99,176.9 506.59,176.59 507.19,179.99 507.79,173.42 508.39,170.07 508.99,175.16 509.59,185.77 510.18,171.92 510.78,170.8 511.38,179.55 511.98,175.88 512.58,174.34 513.18,179.06 513.78,172.94 514.38,174.02 514.98,181.34 515.58,187.37 516.17,179.99 516.77,166.24 517.37,167.48 517.97,176.43 518.57,180.87 519.17,166.04 519.77,170.44 520.37,167.23 520.97,163.65 521.57,171.96 522.16,174.06 522.76,179.05 523.36,173.72 523.96,180.41 524.56,168.27 525.16,175.87 525.76,165.26 526.36,176.59 526.96,171.97 527.56,179.19 528.15,169.39 528.75,179.44 529.35,166.89 529.95,171.33 530.55,185.43 531.15,182.74 531.75,173.16 532.35,174.91 532.95,162.77 533.55,179.8 534.14,175.81 534.74,174.58 535.34,173.2 535.94,164.37 536.54,175.09 537.14,183.99 537.74,165.24 538.34,172.04 538.94,183.37 539.54,178.51 540.13,176.39 540.73,173.79 541.33,169.79 541.93,171.29 542.53,177.64 543.13,171.74 543.73,175.54 544.33,174.12 544.93,171.79 545.53,187.36 546.12,179.82 546.72,171.73 547.32,164.54 547.92,169.18 548.52,187.37 549.12,186.05 549.72,171.22 550.32,174.31 550.92,174.2 551.52,157.65 552.11,180.86 552.71,167.4 553.31,173.91 553.91,178.08 554.51,186.96 555.11,181.55 555.71,165.54 556.31,174.03 556.91,169.79 557.51,171.11 558.1,175.5 558.7,169.58 559.3,172.69 559.9,175.67 560.5,176.47 561.1,178.9 561.7,172.87 562.3,175.68 562.9,167.98 563.5,176.42 564.09,179.98 564.69,185.65 565.29,170.06 565.89,159.74 566.49,174.78 567.09,175.95 567.69,169.04 568.29,178.54 568.89,170.44 569.49,172.4 570.08,170.33 570.68,173.85 571.28,176.19 571.88,168.21 572.48,176.3 573.08,167.6 573.68,178.13 574.28,173.69 574.88,179.01 575.48,169.05 576.07,178.59 576.67,179.44 577.27,168.95 577.87,172.58 578.47,175.1 579.07,180.48 579.67,174.89 580.27,172.23 580.87,170.66 581.47,178.81 582.06,171.64 582.66,185.87 583.26,174.25 583.86,180.03 584.46,170.39 585.06,177.17 585.66,161 586.26,173.72 586.86,172.72 587.46,187.37 588.05,182.86 588.65,168.63 589.25,178.7 589.85,168.07 590.45,178.9 591.05,171.07 591.65,179.45 592.25,172.12 592.85,170.71 593.45,169.36 594.04,179.08 594.64,182.4 595.24,171.4 595.84,173.37 596.44,170.71 597.04,181.87 597.64,170.27 598.24,175.7 598.84,181.06 599.44,177.39 600.03,169.23 600.63,173.69 601.23,173.8 601.83,174.17 602.43,176.98 603.03,167.38 603.63,174.5 604.23,183.24 604.83,183.21 605.43,177.93 606.02,176.91 606.62,170.29 607.22,187.37 607.82,170.09 608.42,167.63 609.02,177.47 609.62,167.16 610.22,178.68 610.82,175.61 611.42,177.58 612.01,165.06 612.61,167.73 613.21,168.05 613.81,181.41 614.41,174.01 615.01,181.41 615.61,173.67 616.21,171.23 616.81,166.36 617.41,175.45 618,173.19 618.6,175.42 619.2,181 619.8,164.61 620.4,172.26 621,165.89 621.6,169.51 622.2,182.21 622.8,178.3 623.4,170.43 623.99,169.41 624.59,170.42 625.19,174.54 625.79,169.37 626.39,180.5 626.99,176.05 627.59,181.54 628.19,168.58 628.79,172.31 629.39,170.31 629.98,176.17 630.58,187.37 631.18,179.37 631.78,173.66 632.38,174.26"/>
<polyline fill="none" stroke="#e31c30" stroke-width="0.6" stroke-opacity="0.8" stroke-linejoin="round" points="381.4,177.22 382,171.23 382.6,172.58 383.2,173.17 383.8,173.97 384.39,173.55 384.99,173.83 385.59,174.48 386.19,175 386.79,173.48 387.39,172.37 387.99,176.12 388.59,173.69 389.19,179.42 389.79,177.53 390.38,180.83 390.98,175.54 391.58,173.21 392.18,172.06 392.78,179.46 393.38,171.64 393.98,178.3 394.58,176.06 395.18,176.4 395.78,168.91 396.37,173.96 396.97,167.03 397.57,171.03 398.17,175.5 398.77,173.13 399.37,169.68 399.97,177.69 400.57,176.31 401.17,174.7 401.77,175.72 402.36,175.5 402.96,168.43 403.56,174.01 404.16,175.7 404.76,175.96 405.36,179.42 405.96,171.66 406.56,176.81 407.16,161.73 407.76,172.9 408.35,176.65 408.95,178.93 409.55,176.25 410.15,173.12 410.75,176.68 411.35,172.29 411.95,172.08 412.55,172.54 413.15,172.72 413.75,174.52 414.34,176.94 414.94,179.02 415.54,180.38 416.14,176.19 416.74,172.16 417.34,174.61 417.94,178.32 418.54,171.31 419.14,178.09 419.74,178.79 420.33,178.13 420.93,176.99 421.53,174.9 422.13,179.07 422.73,180.41 423.33,173.06 423.93,173.69 424.53,172.92 425.13,171.92 425.73,174.44 426.32,168.24 426.92,175.36 427.52,174.83 428.12,169.94 428.72,173.21 429.32,175.19 429.92,174.67 430.52,178.84 431.12,172.24 431.72,175.41 432.31,173.04 432.91,169.86 433.51,171.84 434.11,173.67 434.71,173.22 435.31,174.14 435.91,168.56 436.51,181.41 437.11,176.23 437.71,177.53 438.3,173.1 438.9,175.27 439.5,174.25 440.1,167.71 440.7,173.61 441.3,171.53 441.9,176.03 442.5,177.03 443.1,178.21 443.7,169.47 444.29,178.53 444.89,176.27 445.49,166.34 446.09,173.2 446.69,174.43 447.29,175.38 447.89,178.68 448.49,173.21 449.09,170.91 449.69,177.75 450.28,176.3 450.88,168.64 451.48,175.88 452.08,171.88 452.68,166.39 453.28,177.64 453.88,174.85 454.48,177.8 455.08,182.57 455.68,169.86 456.27,172.4 456.87,175.58 457.47,172.93 458.07,176.67 458.67,179.73 459.27,176.84 459.87,177.28 460.47,178.15 461.07,170.76 461.67,177.64 462.26,178.52 462.86,173.94 463.46,172.94 464.06,168.64 464.66,173.62 465.26,179.54 465.86,177.83 466.46,171.19 467.06,176.98 467.66,172.9 468.25,167.89 468.85,179.89 469.45,180.03 470.05,175.35 470.65,174.73 471.25,171.43 471.85,180.42 472.45,172.45 473.05,175.52 473.65,180.74 474.24,175.53 474.84,172.89 475.44,168.17 476.04,176.91 476.64,172.09 477.24,179.43 477.84,170.79 478.44,174.3 479.04,168.95 479.64,179.49 480.23,178.76 480.83,180.78 481.43,168.2 482.03,176.32 482.63,181.23 483.23,177.34 483.83,171.59 484.43,172.32 485.03,173.08 485.63,179.47 486.22,175.28 486.82,181.84 487.42,180.12 488.02,172.49 488.62,171.42 489.22,175.5 489.82,181.26 490.42,178.15 491.02,176.05 491.62,168.87 492.21,177 492.81,179.98 493.41,178.97 494.01,177.81 494.61,176.64 495.21,175.6 495.81,167.4 496.41,176.81 497.01,182.47 497.61,170.94 498.2,177.51 498.8,177.47 499.4,176.76 500,173.54 500.6,174.2 501.2,172.98 501.8,175.93 502.4,174.47 503,178.66 503.6,178.59 504.19,176.93 504.79,176.36 505.39,180.96 505.99,179.14 506.59,170.19 507.19,170.45 507.79,168.77 508.39,170.5 508.99,171.45 509.59,168.38 510.18,172.34 510.78,175.89 511.38,175.75 511.98,173.49 512.58,173.11 513.18,175.2 513.78,175.9 514.38,174.83 514.98,177.58 515.58,166.43 516.17,172.75 516.77,181.96 517.37,171.42 517.97,177.65 518.57,175.44 519.17,174.58 519.77,171.34 520.37,174.75 520.97,173.56 521.57,175.08 522.16,166.08 522.76,174.75 523.36,177.86 523.96,179.38 524.56,174.54 525.16,176.24 525.76,173.93 526.36,172.98 526.96,178.84 527.56,174.33 528.15,177.25 528.75,177.16 529.35,178.07 529.95,175.48 530.55,177.21 531.15,177.17 531.75,175.9 532.35,179.36 532.95,169.75 533.55,172.27 534.14,175.99 534.74,173.5 535.34,178.04 535.94,174.23 536.54,180.2 537.14,174.84 537.74,174.17 538.34,175.95 538.94,171.93 539.54,177.57 540.13,174.15 540.73,172.57 541.33,172.68 541.93,174.69 542.53,168.53 543.13,171.71 543.73,172.22 544.33,177.25 544.93,174.33 545.53,176.57 546.12,167.11 546.72,173.23 547.32,177.38 547.92,171.45 548.52,170.55 549.12,176.68 549.72,173.93 550.32,165.4 550.92,174.35 551.52,173.15 552.11,162.92 552.71,174.29 553.31,178.44 553.91,177.36 554.51,173.09 555.11,170.37 555.71,175.92 556.31,179.54 556.91,169.18 557.51,171.06 558.1,170.93 558.7,170.96 559.3,161.99 559.9,164.89 560.5,167.1 561.1,163.81 561.7,159.57 562.3,161 562.9,155.31 563.5,146.93 564.09,145.39 564.69,141.11 565.29,135.84 565.89,133.09 566.49,129.15 567.09,138.66 567.69,134.86 568.29,141.04 568.89,146.68 569.49,149.57 570.08,156.69 570.68,156.71 571.28,163.01 571.88,161.25 572.48,162.59 573.08,166.07 573.68,161.31 574.28,170.31 574.88,167.49 575.48,169.21 576.07,171.66 576.67,169.81 577.27,171.12 577.87,174.49 578.47,168.69 579.07,174.34 579.67,171.78 580.27,178.02 580.87,177.71 581.47,173.8 582.06,166.01 582.66,179.17 583.26,178.93 583.86,177.39 584.46,176.19 585.06,174.35 585.66,170.78 586.26,175.21 586.86,172.42 587.46,174.5 588.05,176.68 588.65,176.36 589.25,172.78 589.85,173.9 590.45,169.7 591.05,173.82 591.65,174.97 592.25,178.71 592.85,177.31 593.45,173.15 594.04,173.32 594.64,168.39 595.24,176.69 595.84,172 596.44,174.59 597.04,181.85 597.64,178.42 598.24,173.16 598.84,175.3 599.44,176.3 600.03,169.67 600.63,174.34 601.23,172.27 601.83,170.28 602.43,174.46 603.03,170.09 603.63,175.74 604.23,176.39 604.83,167.13 605.43,165.91 606.02,167.43 606.62,172.24 607.22,170.04 607.82,171.48 608.42,170.71 609.02,165.98 609.62,167.35 610.22,160.52 610.82,162.69 611.42,157.99 612.01,159.66 612.61,159.12 613.21,146.64 613.81,146.74 614.41,149.25 615.01,145.42 615.61,140.01 616.21,138.12 616.81,150.24 617.41,151.21 618,144.85 618.6,158.44 619.2,144.6 619.8,147.12 620.4,149.38 621,149.61 621.6,148.96 622.2,154.41 622.8,146.13 623.4,154.65 623.99,157.91 624.59,148.56 625.19,155.75 625.79,155.93 626.39,153.62 626.99,150.8 627.59,159.89 628.19,160.18 628.79,166.5 629.39,161.97 629.98,156.57 630.58,166.22 631.18,167.32 631.78,170.76 632.38,169.7"/>
</g></g>
<line x1="381.4" y1="105.1" x2="381.4" y2="188.6" stroke="#1a1a1a" stroke-width="1.2"/>
<line x1="380.8" y1="188" x2="634" y2="188" stroke="#1a1a1a" stroke-width="1.2"/>
<line x1="379" y1="105.6" x2="383.7" y2="105.6" stroke="#1a1a1a" stroke-width="1.1"/>
<text x="376.5" y="109.05" font-size="9.6" font-weight="bold" text-anchor="end" fill="#141414">2.0</text>
<line x1="378.2" y1="140.1" x2="381.4" y2="140.1" stroke="#1a1a1a" stroke-width="1.1"/>
<text x="376.5" y="143.55" font-size="9.6" font-weight="bold" text-anchor="end" fill="#141414">1.5</text>
<line x1="378.2" y1="174.6" x2="381.4" y2="174.6" stroke="#1a1a1a" stroke-width="1.1"/>
<text x="376.5" y="178.05" font-size="9.6" font-weight="bold" text-anchor="end" fill="#141414">1.0</text>
<line x1="400.2" y1="188" x2="400.2" y2="190.2" stroke="#1a1a1a" stroke-width="0.9"/>
<line x1="419" y1="188" x2="419" y2="190.2" stroke="#1a1a1a" stroke-width="0.9"/>
<line x1="437.8" y1="188" x2="437.8" y2="190.2" stroke="#1a1a1a" stroke-width="0.9"/>
<line x1="456.6" y1="188" x2="456.6" y2="190.2" stroke="#1a1a1a" stroke-width="0.9"/>
<line x1="494.2" y1="188" x2="494.2" y2="190.2" stroke="#1a1a1a" stroke-width="0.9"/>
<line x1="513" y1="188" x2="513" y2="190.2" stroke="#1a1a1a" stroke-width="0.9"/>
<line x1="531.8" y1="188" x2="531.8" y2="190.2" stroke="#1a1a1a" stroke-width="0.9"/>
<line x1="550.6" y1="188" x2="550.6" y2="190.2" stroke="#1a1a1a" stroke-width="0.9"/>
<line x1="588.2" y1="188" x2="588.2" y2="190.2" stroke="#1a1a1a" stroke-width="0.9"/>
<line x1="607" y1="188" x2="607" y2="190.2" stroke="#1a1a1a" stroke-width="0.9"/>
<line x1="625.8" y1="188" x2="625.8" y2="190.2" stroke="#1a1a1a" stroke-width="0.9"/>
<line x1="381.4" y1="188" x2="381.4" y2="191.4" stroke="#1a1a1a" stroke-width="1.1"/>
<text x="381.4" y="201.6" font-size="9.6" font-weight="bold" text-anchor="middle" fill="#141414">0</text>
<line x1="475.4" y1="188" x2="475.4" y2="191.4" stroke="#1a1a1a" stroke-width="1.1"/>
<text x="475.4" y="201.6" font-size="9.6" font-weight="bold" text-anchor="middle" fill="#141414">5</text>
<line x1="569.4" y1="188" x2="569.4" y2="191.4" stroke="#1a1a1a" stroke-width="1.1"/>
<text x="569.4" y="201.6" font-size="9.6" font-weight="bold" text-anchor="middle" fill="#141414">10</text>
<text x="508.7" y="214" font-size="9.35" font-weight="bold" text-anchor="middle" fill="#141414">Time (s)</text>
<text transform="translate(355.8 127.9) rotate(-90) scale(1 1.14)" font-size="10.5" font-weight="bold" fill="#141414" stroke="#141414" stroke-width="0.3">F/F<tspan font-size="7.98" dy="2.3" dx="1.7">0</tspan></text>
<path d="M559.8,107.2 L573,107.2 L566.4,123.4 Z" fill="#ff1a1a"/>
<rect x="565.15" y="106.4" width="2.5" height="1.8" fill="#ff1a1a"/>
<path d="M601.1,114.1 L614.3,114.1 L607.7,130.3 Z" fill="#ff1a1a"/>
<rect x="606.45" y="113.3" width="2.5" height="1.8" fill="#ff1a1a"/>
<line x1="643.4" y1="36.2" x2="650.4" y2="36.2" stroke="#9c8fc0" stroke-width="0.6"/>
<text x="654.2" y="40.3" font-size="10.8" fill="#141414">Cell 1</text>
<line x1="643.4" y1="52.4" x2="650.4" y2="52.4" stroke="#22d6d6" stroke-width="0.6"/>
<text x="654.2" y="56.5" font-size="10.8" fill="#141414">Cell 2</text>
<line x1="643.4" y1="68.7" x2="650.4" y2="68.7" stroke="#28c038" stroke-width="0.6"/>
<text x="654.2" y="72.8" font-size="10.8" fill="#141414">Cell 3</text>
<line x1="643.4" y1="84.5" x2="650.4" y2="84.5" stroke="#e238dc" stroke-width="0.6"/>
<text x="654.2" y="88.6" font-size="10.8" fill="#141414">Cell 4</text>
<line x1="643.4" y1="100.7" x2="650.4" y2="100.7" stroke="#cf9c30" stroke-width="0.6"/>
<text x="654.2" y="104.8" font-size="10.8" fill="#141414">Cell 5</text>
<line x1="643.4" y1="116.9" x2="650.4" y2="116.9" stroke="#a0689f" stroke-width="0.6"/>
<text x="654.2" y="121" font-size="10.8" fill="#141414">Cell 6</text>
<line x1="643.4" y1="133.1" x2="650.4" y2="133.1" stroke="#3a38e0" stroke-width="0.6"/>
<text x="654.2" y="137.2" font-size="10.8" fill="#141414">Cell 9</text>
<line x1="643.4" y1="149.3" x2="650.4" y2="149.3" stroke="#e31c30" stroke-width="0.6"/>
<text x="654.2" y="153.4" font-size="10.8" fill="#141414">Cell 7</text>
<line x1="643.4" y1="165.5" x2="650.4" y2="165.5" stroke="#6c6c6c" stroke-width="0.6"/>
<text x="654.2" y="169.6" font-size="10.8" fill="#141414">Cell 8</text>
<text x="337.2" y="231" font-size="13.5" font-weight="bold" fill="#141414">D</text>
<text x="507.2" y="236" font-size="13" font-weight="bold" text-anchor="middle" fill="#141414">Incidental LEC and LMC</text>
<polyline fill="none" stroke="#2b2bea" stroke-width="1" stroke-linejoin="round" points="382.42,313.3 383.04,313.72 383.66,331.28 384.28,332.17 384.9,341.03 385.52,348.06 386.14,354 386.76,354.83 387.38,360.06 388,366.62 388.62,361.33 389.24,363.85 389.86,363.64 390.48,371.45 391.1,374.92 391.72,376.15 392.34,379.81 392.96,373.53 393.58,379.97 394.2,379.87 394.82,376.8 395.44,371.69 396.06,374.83 396.68,378.07 397.3,376.48 397.92,371.4 398.54,372.63 399.16,373.43 399.78,370.62 400.4,366.27 401.02,360.91 401.64,370.79 402.26,367.57 402.88,367.13 403.5,370.72 404.12,362.09 404.74,361.44 405.36,354.73 405.98,361.69 406.6,367.84 407.22,359.64 407.84,363.85 408.46,369.42 409.08,365.6 409.7,366.24 410.32,367.95 410.94,365.41 411.56,374.07 412.18,367.86 412.8,364.24 413.42,365.55 414.04,365.49 414.66,366.23 415.28,365.85 415.9,373.47 416.52,365.5 417.14,373.21 417.76,367.41 418.38,362.79 419,327.85 419.62,313.3"/>
<polyline fill="none" stroke="#2b2bea" stroke-width="1" stroke-linejoin="round" points="440.08,313.3 440.7,315.73 441.32,325.64 441.94,342.8 442.56,349.41 443.18,342.85 443.8,353.31 444.42,366.27 445.04,363.57 445.66,363.23 446.28,362.98 446.9,368.66 447.52,371.96 448.14,373.5 448.76,370.17 449.38,372.15 450,375.19 450.62,374.38 451.24,375.21 451.86,372.02 452.48,376.33 453.1,373.06 453.72,372.17 454.34,373.4 454.96,377.36 455.58,371.28 456.2,377.23 456.82,374.24 457.44,377.75 458.06,380.45 458.68,374.71 459.3,374.38 459.92,375.27 460.54,374.1 461.16,376.62 461.78,376.74 462.4,374.94 463.02,368.72 463.64,371.76 464.26,375.53 464.88,372.2 465.5,375.12 466.12,374.89 466.74,370.67 467.36,374.54 467.98,377.76 468.6,375.16 469.22,371.84 469.84,371.43 470.46,367.68 471.08,373.51 471.7,368.67 472.32,369.27 472.94,370.67 473.56,367.06 474.18,367.74 474.8,371.77 475.42,364.93 476.04,372.12 476.66,366.52 477.28,365.43 477.9,362.61 478.52,365.57 479.14,361.72 479.76,340.92 480.38,313.3"/>
<polyline fill="none" stroke="#2b2bea" stroke-width="1" stroke-linejoin="round" points="502.08,313.3 502.7,315.51 503.32,313.3"/>
<polyline fill="none" stroke="#2b2bea" stroke-width="1" stroke-linejoin="round" points="503.32,313.3 503.94,325.68 504.56,341.31 505.18,351.38 505.8,354.98 506.42,357.64 507.04,362.81 507.66,362.84 508.28,363.75 508.9,363.69 509.52,366.41 510.14,372.09 510.76,371.56 511.38,374.88 512,376.42 512.62,370.32 513.24,377.72 513.86,371.29 514.48,378.03 515.1,376.71 515.72,374.79 516.34,377.97 516.96,377.32 517.58,377.45 518.2,376.45 518.82,373.88 519.44,373.71 520.06,367.64 520.68,374.28 521.3,370.02 521.92,383.66 522.54,376.15 523.16,374.48 523.78,376.74 524.4,372.69 525.02,373.82 525.64,376.27 526.26,374.11 526.88,367.17 527.5,374.34 528.12,374.05 528.74,376.01 529.36,374.16 529.98,378.13 530.6,374.77 531.22,366.77 531.84,370.67 532.46,371.74 533.08,370.17 533.7,367.64 534.32,371.31 534.94,366.66 535.56,369.25 536.18,371.57 536.8,366.32 537.42,378.64 538.04,372.62 538.66,369.54 539.28,371.63 539.9,365.7 540.52,364.13 541.14,333.56 541.76,313.3"/>
<polyline fill="none" stroke="#2b2bea" stroke-width="1" stroke-linejoin="round" points="564.08,313.3 564.7,318.29 565.32,322.79 565.94,338.59 566.56,334.07 567.18,342.87 567.8,357.7 568.42,363.22 569.04,367.04 569.66,362.8 570.28,372.98 570.9,377.46 571.52,375.8 572.14,377.38 572.76,381.09 573.38,375.76 574,379.72 574.62,379.66 575.24,383.32 575.86,381.79 576.48,381.85 577.1,386.61 577.72,379.91 578.34,384.7 578.96,379.85 579.58,383.13 580.2,373.6 580.82,377.35 581.44,375.26 582.06,374.43 582.68,379.99 583.3,382.12 583.92,375.98 584.54,371.19 585.16,372.29 585.78,368.83 586.4,367 587.02,373.69 587.64,366.49 588.26,359.03 588.88,366.1 589.5,369.77 590.12,361.1 590.74,360.16 591.36,354.63 591.98,358.31 592.6,351.94 593.22,360.44 593.84,344.04 594.46,338.37 595.08,337.59 595.7,348.63 596.32,337.39 596.94,350.78 597.56,332.67 598.18,331.89 598.8,338.09 599.42,334.39 600.04,341.09 600.66,345.57 601.28,351.43 601.9,339.57 602.52,313.3"/>
<polyline fill="none" stroke="#2b2bea" stroke-width="1" stroke-linejoin="round" points="624.22,313.3 624.84,320.83 625.46,325.98 626.08,330.27 626.7,332.17 627.32,333.52 627.94,345.27 628.56,353.18 629.18,362.5 629.8,362.98 630.42,364.91 631.04,367.88 631.66,378.95 632.28,379.56"/>
<polyline fill="none" stroke="#2b2bea" stroke-width="1" stroke-linejoin="round" points="381.8,268.71 382.42,271.41 383.04,273.8"/>
<polyline fill="none" stroke="#2b2bea" stroke-width="1" stroke-linejoin="round" points="419,273.8 419.62,270.23 420.24,265.51 420.86,261.77 421.48,260.87 422.1,259.44 422.72,258.14 423.34,257.38 423.96,257.37 424.58,257.36 425.2,258.07 425.82,257.99 426.44,258.58 427.06,258.76 427.68,259.47 428.3,259.93 428.92,260.43 429.54,260.99 430.16,261.75 430.78,261.8 431.4,262.77 432.02,263.06 432.64,263.54 433.26,264.32 433.88,264.71 434.5,265.09 435.12,265.83 435.74,266.51 436.36,267.6 436.98,268.21 437.6,269.08 438.22,269.99 438.84,270.98 439.46,271.69 440.08,272.76 440.7,273.8"/>
<polyline fill="none" stroke="#2b2bea" stroke-width="1" stroke-linejoin="round" points="479.76,273.8 480.38,271.56 481,265.23 481.62,261.04 482.24,259.63 482.86,258.34 483.48,257.47 484.1,258.03 484.72,258.38 485.34,258.04 485.96,258.56 486.58,258.46 487.2,258.61 487.82,259.29 488.44,259.71 489.06,260.17 489.68,260.55 490.3,261.24 490.92,261.62 491.54,261.89 492.16,262.17 492.78,262.79 493.4,263.16 494.02,263.87 494.64,264.6 495.26,265.09 495.88,265.94 496.5,266.31 497.12,266.92 497.74,267.5 498.36,268.24 498.98,269.22 499.6,270.02 500.22,270.97 500.84,271.54 501.46,272.27 502.08,273.04 502.7,273.8"/>
<polyline fill="none" stroke="#2b2bea" stroke-width="1" stroke-linejoin="round" points="502.7,273.8 503.32,273.7 503.94,273.8"/>
<polyline fill="none" stroke="#2b2bea" stroke-width="1" stroke-linejoin="round" points="541.14,273.8 541.76,269.51 542.38,263.02 543,260.34 543.62,258.3 544.24,257.49 544.86,257.43 545.48,257.64 546.1,257.56 546.72,258.17 547.34,257.95 547.96,258.17 548.58,258.8 549.2,258.89 549.82,259.65 550.44,259.7 551.06,260.32 551.68,260.74 552.3,261.28 552.92,261.6 553.54,262.53 554.16,262.72 554.78,263.32 555.4,263.67 556.02,264.22 556.64,264.61 557.26,265.34 557.88,265.41 558.5,266.07 559.12,267.27 559.74,268.03 560.36,268.77 560.98,269.41 561.6,270.1 562.22,271.39 562.84,272.09 563.46,272.86 564.08,273.53 564.7,273.8"/>
<polyline fill="none" stroke="#2b2bea" stroke-width="1" stroke-linejoin="round" points="601.9,273.8 602.52,271.76 603.14,265.39 603.76,260.66 604.38,258.95 605,257.4 605.62,257.28 606.24,257.79 606.86,257.81 607.48,257.86 608.1,258.06 608.72,258.06 609.34,258.51 609.96,258.59 610.58,259.26 611.2,259.43 611.82,260.01 612.44,260.16 613.06,261.02 613.68,261.11 614.3,261.71 614.92,262.1 615.54,262.44 616.16,263.31 616.78,263.84 617.4,264.28 618.02,264.58 618.64,265.41 619.26,265.76 619.88,266.87 620.5,267.74 621.12,268.51 621.74,269.28 622.36,270.34 622.98,271.21 623.6,272.03 624.22,273.08 624.84,273.8"/>
<polyline fill="none" stroke="#111" stroke-width="0.95" stroke-linejoin="round" points="381.8,378.61 382.42,383.04 383.04,383.44 383.66,388.15 384.28,382.32 384.9,382.97 385.52,383.4 386.14,381.5 386.76,381.23 387.38,384.46 388,384.03 388.62,383.09 389.24,380.5 389.86,380.75 390.48,384.8 391.1,384.36 391.72,380.26 392.34,378.38 392.96,381.87 393.58,383.26 394.2,379.33 394.82,382.38 395.44,380.07 396.06,378.24 396.68,380.22 397.3,381.4 397.92,379.93 398.54,382.91 399.16,381.86 399.78,382.7 400.4,381.85 401.02,382.44 401.64,381.75 402.26,382.15 402.88,381.09 403.5,381.12 404.12,380.58 404.74,378.12 405.36,384.56 405.98,378.3 406.6,381.63 407.22,383.79 407.84,381.44 408.46,380.83 409.08,378.67 409.7,383.31 410.32,380.48 410.94,380.68 411.56,384.6 412.18,383.49 412.8,379.55 413.42,379.32 414.04,378.44 414.66,379.63 415.28,379.92 415.9,380.49 416.52,378.09 417.14,382.57 417.76,381.02 418.38,379.84 419,384.13 419.62,377.78 420.24,382.38 420.86,380.78 421.48,375.88 422.1,382.41 422.72,381.74 423.34,377.14 423.96,382.92 424.58,381.49 425.2,379.4 425.82,379.52 426.44,379.21 427.06,379.69 427.68,377.54 428.3,378.25 428.92,379.17 429.54,381.96 430.16,382.02 430.78,384.63 431.4,378.94 432.02,384.44 432.64,378.51 433.26,376.39 433.88,382.76 434.5,381.93 435.12,381.47 435.74,378.6 436.36,382.31 436.98,380.71 437.6,381.57 438.22,380.97 438.84,377.59 439.46,382.54 440.08,380.27 440.7,379.83 441.32,378.55 441.94,383.21 442.56,378 443.18,379.49 443.8,378.54 444.42,380.3 445.04,384.06 445.66,381.89 446.28,378.69 446.9,380.41 447.52,380.6 448.14,376.58 448.76,375.69 449.38,380.6 450,376.3 450.62,384.91 451.24,385.05 451.86,378.67 452.48,381.15 453.1,379.32 453.72,379.47 454.34,380.81 454.96,379.13 455.58,380.31 456.2,384.02 456.82,380.19 457.44,380.28 458.06,376.68 458.68,383.19 459.3,380.7 459.92,381.68 460.54,381.06 461.16,377.15 461.78,379.97 462.4,381.83 463.02,380.5 463.64,379.17 464.26,383.05 464.88,381.47 465.5,377.52 466.12,379.05 466.74,381.04 467.36,382.01 467.98,381.32 468.6,384.4 469.22,378.95 469.84,380.29 470.46,380.75 471.08,383.92 471.7,382.66 472.32,379.99 472.94,380.57 473.56,382.24 474.18,380.07 474.8,379.14 475.42,382.7 476.04,382.4 476.66,383.16 477.28,383.81 477.9,379.55 478.52,380.2 479.14,380.59 479.76,383.92 480.38,383.67 481,381.54 481.62,382.32 482.24,381.17 482.86,382.98 483.48,380.04 484.1,377.54 484.72,378.12 485.34,378 485.96,381.39 486.58,379.54 487.2,382.4 487.82,379.58 488.44,382.44 489.06,382.7 489.68,383.06 490.3,380.13 490.92,381.08 491.54,381.29 492.16,384.21 492.78,381.42 493.4,384.9 494.02,378.52 494.64,382.06 495.26,381.36 495.88,382.03 496.5,385.28 497.12,384.83 497.74,381.9 498.36,378.58 498.98,384.3 499.6,383.42 500.22,381.99 500.84,385.59 501.46,385.62 502.08,382.81 502.7,382.02 503.32,382.79 503.94,378.57 504.56,382.31 505.18,381.16 505.8,378.46 506.42,378.23 507.04,385.46 507.66,382.8 508.28,379.43 508.9,385.01 509.52,384.01 510.14,384.84 510.76,384.98 511.38,384.48 512,381.61 512.62,379.22 513.24,378.65 513.86,381.97 514.48,386.32 515.1,382.12 515.72,382.74 516.34,381.22 516.96,382.27 517.58,385.92 518.2,381.07 518.82,386.51 519.44,383.48 520.06,381.28 520.68,381.19 521.3,378.51 521.92,387.12 522.54,381.19 523.16,380.41 523.78,382.63 524.4,380.51 525.02,384.31 525.64,380.44 526.26,380.69 526.88,384.01 527.5,383.31 528.12,382.25 528.74,383.26 529.36,379.52 529.98,381.41 530.6,378.89 531.22,379.18 531.84,381.61 532.46,382.15 533.08,383.78 533.7,383.45 534.32,383.42 534.94,380.88 535.56,383.56 536.18,381.43 536.8,381.16 537.42,382.65 538.04,381.95 538.66,378.35 539.28,377.96 539.9,383.19 540.52,381.87 541.14,382.24 541.76,382 542.38,378.01 543,379.84 543.62,378.56 544.24,377.4 544.86,382.23 545.48,381.65 546.1,381.12 546.72,378.93 547.34,381.35 547.96,379.7 548.58,378.53 549.2,378.51 549.82,380.05 550.44,382.73 551.06,384.37 551.68,378.47 552.3,379.9 552.92,382.92 553.54,381.94 554.16,381.79 554.78,384.44 555.4,380.19 556.02,382.43 556.64,381.31 557.26,379.01 557.88,380.81 558.5,379.37 559.12,379.6 559.74,380.43 560.36,380.35 560.98,376.34 561.6,380.76 562.22,376.78 562.84,382.32 563.46,378.68 564.08,379.87 564.7,381.81 565.32,385.97 565.94,376.64 566.56,382.63 567.18,382.17 567.8,379.74 568.42,379.86 569.04,379.34 569.66,380.47 570.28,383.16 570.9,377.94 571.52,381.79 572.14,379.28 572.76,378.47 573.38,377.1 574,380.14 574.62,380.29 575.24,380.1 575.86,383.6 576.48,381.17 577.1,381.68 577.72,381.96 578.34,379.04 578.96,380.05 579.58,375.84 580.2,376.04 580.82,383.39 581.44,378.96 582.06,381.39 582.68,377.94 583.3,378.78 583.92,377.05 584.54,378.38 585.16,377.36 585.78,379.65 586.4,384.46 587.02,381.53 587.64,380.77 588.26,379.94 588.88,381.05 589.5,375.22 590.12,379.14 590.74,375.9 591.36,379.45 591.98,375.06 592.6,381.29 593.22,377.31 593.84,381.51 594.46,377.6 595.08,375.06 595.7,382.1 596.32,380.4 596.94,377.93 597.56,378.85 598.18,381.41 598.8,375.85 599.42,378.25 600.04,375.51 600.66,377.62 601.28,380.82 601.9,379.33 602.52,375.22 603.14,381.27 603.76,379.23 604.38,376.87 605,375.95 605.62,376.34 606.24,381.37 606.86,373.54 607.48,378.46 608.1,378.06 608.72,378.07 609.34,378.56 609.96,380.16 610.58,378.74 611.2,375.11 611.82,380.98 612.44,383.31 613.06,376.8 613.68,377.22 614.3,376.35 614.92,374.15 615.54,379.52 616.16,377.53 616.78,376.81 617.4,375.2 618.02,375.64 618.64,379.73 619.26,380.9 619.88,378.47 620.5,381.4 621.12,375.43 621.74,378.73 622.36,378.64 622.98,379.81 623.6,374.51 624.22,377.22 624.84,378.75 625.46,376.51 626.08,378.04 626.7,376.55 627.32,374.96 627.94,378.43 628.56,376.73 629.18,376.81 629.8,375.37 630.42,376.56 631.04,377.8 631.66,379.28 632.28,377.23"/>
<line x1="381.6" y1="254.2" x2="381.6" y2="273.9" stroke="#1a1a1a" stroke-width="1.1"/>
<line x1="376.8" y1="258" x2="381.6" y2="258" stroke="#1a1a1a" stroke-width="1"/>
<line x1="376.8" y1="266" x2="381.6" y2="266" stroke="#1a1a1a" stroke-width="1"/>
<line x1="379.6" y1="273.9" x2="383.6" y2="273.9" stroke="#1a1a1a" stroke-width="1"/>
<text x="376" y="261.7" font-size="10.3" font-weight="bold" text-anchor="end" fill="#141414">4</text>
<text x="376" y="269.7" font-size="10.3" font-weight="bold" text-anchor="end" fill="#141414">3</text>
<text x="376" y="277.6" font-size="10.3" font-weight="bold" text-anchor="end" fill="#141414">2</text>
<line x1="381.6" y1="312.8" x2="381.6" y2="395.9" stroke="#1a1a1a" stroke-width="1.2"/>
<line x1="381" y1="395.3" x2="635.6" y2="395.3" stroke="#1a1a1a" stroke-width="1.2"/>
<line x1="379.2" y1="313.3" x2="383.9" y2="313.3" stroke="#1a1a1a" stroke-width="1.1"/>
<text x="376.7" y="316.75" font-size="9.6" font-weight="bold" text-anchor="end" fill="#141414">2.0</text>
<line x1="378.4" y1="347.5" x2="381.6" y2="347.5" stroke="#1a1a1a" stroke-width="1.1"/>
<text x="376.7" y="350.95" font-size="9.6" font-weight="bold" text-anchor="end" fill="#141414">1.5</text>
<line x1="378.4" y1="381.8" x2="381.6" y2="381.8" stroke="#1a1a1a" stroke-width="1.1"/>
<text x="376.7" y="385.25" font-size="9.6" font-weight="bold" text-anchor="end" fill="#141414">1.0</text>
<line x1="400.4" y1="395.3" x2="400.4" y2="397.5" stroke="#1a1a1a" stroke-width="0.9"/>
<line x1="419.2" y1="395.3" x2="419.2" y2="397.5" stroke="#1a1a1a" stroke-width="0.9"/>
<line x1="438" y1="395.3" x2="438" y2="397.5" stroke="#1a1a1a" stroke-width="0.9"/>
<line x1="456.8" y1="395.3" x2="456.8" y2="397.5" stroke="#1a1a1a" stroke-width="0.9"/>
<line x1="494.4" y1="395.3" x2="494.4" y2="397.5" stroke="#1a1a1a" stroke-width="0.9"/>
<line x1="513.2" y1="395.3" x2="513.2" y2="397.5" stroke="#1a1a1a" stroke-width="0.9"/>
<line x1="532" y1="395.3" x2="532" y2="397.5" stroke="#1a1a1a" stroke-width="0.9"/>
<line x1="550.8" y1="395.3" x2="550.8" y2="397.5" stroke="#1a1a1a" stroke-width="0.9"/>
<line x1="588.4" y1="395.3" x2="588.4" y2="397.5" stroke="#1a1a1a" stroke-width="0.9"/>
<line x1="607.2" y1="395.3" x2="607.2" y2="397.5" stroke="#1a1a1a" stroke-width="0.9"/>
<line x1="626" y1="395.3" x2="626" y2="397.5" stroke="#1a1a1a" stroke-width="0.9"/>
<line x1="381.6" y1="395.3" x2="381.6" y2="398.7" stroke="#1a1a1a" stroke-width="1.1"/>
<text x="381.6" y="409" font-size="9.6" font-weight="bold" text-anchor="middle" fill="#141414">0</text>
<line x1="475.6" y1="395.3" x2="475.6" y2="398.7" stroke="#1a1a1a" stroke-width="1.1"/>
<text x="475.6" y="409" font-size="9.6" font-weight="bold" text-anchor="middle" fill="#141414">5</text>
<line x1="569.6" y1="395.3" x2="569.6" y2="398.7" stroke="#1a1a1a" stroke-width="1.1"/>
<text x="569.6" y="409" font-size="9.6" font-weight="bold" text-anchor="middle" fill="#141414">10</text>
<text x="508.7" y="421.6" font-size="9.35" font-weight="bold" text-anchor="middle" fill="#141414">Time (s)</text>
<text transform="translate(355.8 335.5) rotate(-90) scale(1 1.14)" font-size="10.5" font-weight="bold" fill="#141414" stroke="#141414" stroke-width="0.3">F/F<tspan font-size="7.98" dy="2.3" dx="1.7">0</tspan></text>
<path d="M397.9,324 L411.1,324 L404.5,340 Z" fill="#22f222"/>
<rect x="403.25" y="323.2" width="2.5" height="1.8" fill="#22f222"/>
<path d="M512.4,330.6 L525.6,330.6 L519,346.6 Z" fill="#22f222"/>
<rect x="517.75" y="329.8" width="2.5" height="1.8" fill="#22f222"/>
<path d="M586,297.2 L599.2,297.2 L592.6,313.6 Z" fill="#22f222"/>
<rect x="591.35" y="296.4" width="2.5" height="1.8" fill="#22f222"/>
<line x1="635.2" y1="270" x2="642" y2="270" stroke="#2b2bea" stroke-width="0.9"/>
<text x="645.9" y="274" font-size="10.85" fill="#141414">Cell 10</text>
<text x="645.9" y="287.6" font-size="10.85" fill="#141414">(LMC)</text>
<line x1="635.2" y1="299.8" x2="642" y2="299.8" stroke="#222" stroke-width="0.9"/>
<text x="645.9" y="303.8" font-size="10.85" fill="#141414">Cell 11</text>
<text x="645.9" y="317.5" font-size="10.85" fill="#141414">(LEC)</text>
<text x="335.6" y="440.2" font-size="13.5" font-weight="bold" fill="#141414">E</text>
<g filter="url(#nfE)">
<rect x="379.6" y="446" width="230.3" height="26.2" fill="url(#vg10)"/>
<g clip-path="url(#cp4)"><path d="M371,447.7 L386.5,447.7 L388,460.38 L378.25,472 L371,471 Z" fill="#626262" filter="url(#bl13)"/><path d="M373.8,450 L380.5,449.8 L382.5,452.67 L381.9,457.94 L377,465.9 L374,464.9 Z" fill="#fdfdfd" stroke="#fdfdfd" stroke-width="2.2" stroke-linejoin="round" filter="url(#bl07)"/><path d="M412.5,447.7 L439.5,447.7 L441,460.38 L425.5,472 L412.5,471 Z" fill="#626262" filter="url(#bl13)"/><path d="M415.3,450 L433.5,449.8 L435.5,452.67 L434.9,457.94 L423.1,465.9 L415.5,464.9 Z" fill="#fdfdfd" stroke="#fdfdfd" stroke-width="2.2" stroke-linejoin="round" filter="url(#bl07)"/><path d="M469.2,447.7 L496.8,447.7 L498.3,460.38 L482.5,472 L469.2,471 Z" fill="#626262" filter="url(#bl13)"/><path d="M472,450 L490.8,449.8 L492.8,452.67 L492.2,457.94 L480.04,465.9 L472.2,464.9 Z" fill="#fdfdfd" stroke="#fdfdfd" stroke-width="2.2" stroke-linejoin="round" filter="url(#bl07)"/><path d="M525.5,447.7 L553.6,447.7 L555.1,460.38 L539.05,472 L525.5,471 Z" fill="#626262" filter="url(#bl13)"/><path d="M528.3,450 L547.6,449.8 L549.6,452.67 L549,457.94 L536.54,465.9 L528.5,464.9 Z" fill="#fdfdfd" stroke="#fdfdfd" stroke-width="2.2" stroke-linejoin="round" filter="url(#bl07)"/><path d="M581.7,447.7 L609.8,447.7 L611.3,460.38 L595.25,472 L581.7,471 Z" fill="#626262" filter="url(#bl13)"/><path d="M584.5,450 L603.8,449.8 L605.8,452.67 L605.2,457.94 L592.74,465.9 L584.7,464.9 Z" fill="#fdfdfd" stroke="#fdfdfd" stroke-width="2.2" stroke-linejoin="round" filter="url(#bl07)"/><ellipse cx="402" cy="452" rx="4" ry="3" fill="#424242" filter="url(#bl1)"/><ellipse cx="509" cy="452" rx="4" ry="3" fill="#424242" filter="url(#bl1)"/><ellipse cx="574" cy="451.5" rx="3" ry="2.5" fill="#474747" filter="url(#bl1)"/><ellipse cx="578.3" cy="458.6" rx="2.1" ry="2.4" fill="#969696" filter="url(#bl05)"/></g>
<rect x="379.6" y="475.6" width="230.3" height="26.1" fill="url(#vg11)"/>
</g>
<rect x="608.1" y="449.14" width="1.6" height="19.91" fill="#b020b0" opacity="0.55"/>
<rect x="608.1" y="478.73" width="1.6" height="19.84" fill="#b020b0" opacity="0.55"/>
<text x="332" y="464" font-size="13.5" fill="#141414">Cell 10</text>
<text x="332" y="492" font-size="13.5" fill="#141414">Cell 11</text>
<path d="M394.5,431.4 L408.1,431.4 L401.3,446 Z" fill="#22f222"/>
<rect x="399.65" y="427.8" width="3.3" height="4.6" fill="#22f222"/>
<path d="M502.2,431.4 L515.8,431.4 L509,446 Z" fill="#22f222"/>
<rect x="507.35" y="427.8" width="3.3" height="4.6" fill="#22f222"/>
<path d="M567.2,431.4 L580.8,431.4 L574,446 Z" fill="#22f222"/>
<rect x="572.35" y="427.8" width="3.3" height="4.6" fill="#22f222"/>
<text x="9.5" y="547.6" font-size="13.5" font-weight="bold" fill="#141414">F</text>
<text x="29.6" y="548.8" font-size="13.9" fill="#141414">Maximum Projection: 100 ug/ml C48-80</text>
<g filter="url(#nfF)">
<rect x="21" y="558.7" width="273" height="140" fill="#202020"/>
<g filter="url(#bl8)">
<rect x="13" y="590.7" width="289" height="74" fill="#2a2a2a"/>
<ellipse cx="158.5" cy="629.2" rx="135" ry="36" fill="#2d2d2d"/>
</g>
<g filter="url(#bl4)" fill="none" stroke-linecap="round">
<path d="M37.5,592.2 L63.5,593.2 L98.5,588.2" stroke="#3a3a3a" stroke-width="7"/>
<path d="M153.5,591.2 L181.5,593.2" stroke="#373737" stroke-width="6"/>
<path d="M225.5,579.2 L235.5,571.2" stroke="#373737" stroke-width="5"/>
<path d="M258.5,651.2 L281.5,655.2" stroke="#343434" stroke-width="6"/>
</g>
<g filter="url(#bl2)" fill="none" stroke-linecap="round">
<path d="M104.5,664.2 L116.5,660.2 L134.5,659.2 L146.5,664.2" stroke="#4a4a4a" stroke-width="5"/>
<path d="M75.5,655.2 L83.5,654.2" stroke="#4a4a4a" stroke-width="4"/>
<path d="M210.5,662.2 L220.5,655.2 L230.5,646.2" stroke="#4f4f4f" stroke-width="9"/>
</g>
<g filter="url(#bl1)" fill="none" stroke-linecap="round" stroke-linejoin="round">
<path d="M141.3,597.5 L140.38,598.98 L138.94,599.78 L138.93,601.97 L137.55,602.51 L137.31,604.22 L137.15,606.05 L136.09,607.23 L135.8,608.52 L135.75,609.89 L136.01,611.7 L136.35,613.53 L135.35,614.91 L134.7,616.41 L135,618.11 L134.42,619.46 L134.42,621.06 L134.59,622.79 L133.69,624.24 L133.66,625.91 L133.08,627.37 L133.1,628.7 L133.11,630.08 L132.47,631.63 L132.45,633.28 L132.22,634.89 L131.78,636.47 L131.28,637.72 L131.02,638.96 L131.27,640.53 L130.99,642.15 L131.59,643.79 L129.63,645.39 L130.14,646.68 L129.97,647.72 L130.2,649.07 L129.7,650.57 L129.22,652.16 L129.52,653.76 L128.9,656 L128.9,656 L126.58,655.46 L125.31,654.22 L124.78,652.38 L122.39,651.16 L122.42,649.26 L121.35,647.25 L121.19,645.31 L120.5,643.68 L120.8,642.05 L120.13,640.42 L120.06,638.72 L120.69,636.78 L120.6,634.84 L120.52,633.18 L121.45,631.67 L120.86,629.94 L121.24,628.35 L121.6,626.52 L122.2,624.68 L123.21,623.19 L123.04,621.47 L123.48,619.9 L124.44,618.47 L124.4,616.7 L125.38,615.11 L126.29,613.61 L127.13,612.17 L127.88,610.7 L128.19,609.09 L129.27,607.73 L130.47,606.12 L131.43,604.41 L132.44,603.06 L133.87,602.04 L134.56,600.43 L135.99,599.03 L138.49,599.19 L139.49,597.81 L141.3,597.5 Z" fill="#5f5f5f" stroke="none"/>
<path d="M140.5,597.7 L158.5,587.2" stroke="#575757" stroke-width="3"/>
<path d="M152.5,612.2 L188.5,613.2 L220.5,615.7" stroke="#545454" stroke-width="4.5"/>
<path d="M244,622.7 L241.5,631.2 L238.5,637.2" stroke="#626262" stroke-width="2.2"/>
<path d="M238.5,637.2 L231.5,644.7 L222.5,652.2" stroke="#656565" stroke-width="3.6"/>
<circle cx="248.5" cy="648.8" r="2.4" fill="#575757"/>
<circle cx="65.2" cy="605" r="3.5" fill="#4f4f4f"/>
<circle cx="122.2" cy="594.2" r="3.2" fill="#525252"/>
<circle cx="82" cy="644.2" r="5" fill="#5c5c5c"/>
<circle cx="62.6" cy="649.3" r="2.5" fill="#3f3f3f"/>
<circle cx="48.6" cy="662.5" r="4.2" fill="#626262"/>
<circle cx="151.2" cy="651.3" r="2.5" fill="#3f3f3f"/>
<circle cx="254.5" cy="589.9" r="4" fill="#4f4f4f"/>
<circle cx="187.5" cy="649.7" r="4.5" fill="#5f5f5f"/>
<circle cx="258.1" cy="645" r="3.5" fill="#474747"/>
</g>
<g filter="url(#bl05)" fill="none" stroke-linecap="round" stroke-linejoin="round">
<path d="M141.3,597.5 L140.37,598.97 L139.21,600.13 L137.73,600.77 L137.49,602.47 L136.86,603.93 L136.28,605.49 L135.48,606.86 L135.18,608.24 L134.82,609.58 L134.23,611.1 L134.64,612.96 L134.31,614.56 L134.24,616.25 L133.36,617.6 L132.93,619.05 L132.63,620.6 L132,622.11 L132.55,623.94 L131.53,625.36 L131.18,626.9 L131.24,628.35 L131.66,629.87 L131.01,631.42 L130.34,632.97 L130.19,634.59 L130.37,636.26 L129.81,637.59 L129.46,638.93 L129.51,640.51 L129.68,642.14 L129.91,643.77 L128.55,645.38 L128.5,646.79 L128.33,648.05 L127.84,649.7 L128.34,651.07 L128.49,652.54 L129.43,653.81 L128.9,656 L128.9,656 L127.61,654.87 L125.8,653.96 L124.5,652.49 L123.67,650.81 L122.99,649.14 L122,647.21 L122.46,645.32 L121.91,643.69 L122.44,642.07 L121.27,640.43 L121.7,638.76 L122.21,636.91 L121.98,635.04 L122.17,633.42 L122.66,631.85 L122.05,630.11 L122.98,628.61 L122.75,626.74 L123.32,624.96 L124.81,623.61 L124.86,621.94 L125.79,620.5 L125.4,618.72 L126.6,617.3 L126.35,615.42 L127.15,613.89 L127.83,612.4 L128.59,610.94 L129.23,609.44 L130.35,608.09 L131.77,606.71 L132.16,604.85 L133.5,603.73 L134.49,602.43 L135.59,601.15 L137.15,600.19 L138.36,599.01 L139.62,597.98 L141.3,597.5 Z" fill="#fdfdfd" stroke="none"/>
<circle cx="238.5" cy="637.2" r="1.6" fill="#868686"/>
<circle cx="231.5" cy="644.2" r="1.6" fill="#868686"/>
<circle cx="187" cy="648.7" r="1.8" fill="#cecece"/>
<circle cx="50" cy="661.7" r="1.4" fill="#969696"/>
</g>
</g>
<g fill="none" stroke="#b9b52c" stroke-width="0.8">
<ellipse cx="65.2" cy="605" rx="6" ry="4.5"/>
<ellipse cx="122.2" cy="594.2" rx="6" ry="5.5"/>
<ellipse cx="81.1" cy="643.6" rx="7" ry="6"/>
<ellipse cx="62.6" cy="649.3" rx="5" ry="5.6"/>
<ellipse cx="48.6" cy="662.5" rx="6.3" ry="4.5"/>
<ellipse cx="151.2" cy="651.3" rx="4.4" ry="5.6"/>
<ellipse cx="254.5" cy="589.9" rx="7" ry="5.5"/>
<ellipse cx="186.1" cy="649.2" rx="7.5" ry="6.8"/>
<ellipse cx="258.1" cy="645" rx="6.3" ry="6"/>
<path d="M144.5,597.2 C134.5,599.2 124.5,617.2 122,635.2 C121,645.2 123.5,652.2 129,656.7 C127.5,650.2 128,643.2 129,635.2 C131.5,619.2 137.5,604.2 144.5,597.2 Z" stroke-width="0.7"/>
<path d="M150.5,612.2 L163.5,609.7 L193.5,611.2 L219.5,613.7 L223,616.2 L193.5,617.2 L163.5,615.2 Z" stroke-width="0.7"/>
</g>
<g font-family='"DejaVu Sans", "Liberation Sans", sans-serif' font-weight="bold" text-anchor="middle">
<text x="65.2" y="606.4" font-size="4" fill="#cfcfcf" stroke="#111" stroke-width="0.25">2</text>
<text x="122.2" y="595.6" font-size="4" fill="#cfcfcf" stroke="#111" stroke-width="0.25">8</text>
<text x="81.1" y="645" font-size="4" fill="#cfcfcf" stroke="#111" stroke-width="0.25">4</text>
<text x="62.6" y="650.7" font-size="4" fill="#cfcfcf" stroke="#111" stroke-width="0.25">3</text>
<text x="48.6" y="663.9" font-size="4" fill="#cfcfcf" stroke="#111" stroke-width="0.25">1</text>
<text x="151.2" y="652.7" font-size="4" fill="#cfcfcf" stroke="#111" stroke-width="0.25">6</text>
<text x="254.5" y="591.3" font-size="4" fill="#cfcfcf" stroke="#111" stroke-width="0.25">5</text>
<text x="186.1" y="650.6" font-size="4" fill="#cfcfcf" stroke="#111" stroke-width="0.25">7</text>
<text x="258.1" y="646.4" font-size="4" fill="#cfcfcf" stroke="#111" stroke-width="0.25">9</text>
<rect x="127.8" y="622.7" width="8" height="6" fill="#0a0a0a"/>
<text x="131.8" y="627.9" font-size="6" fill="#fff">10</text>
<rect x="182.1" y="609.6" width="8" height="6" fill="#0a0a0a"/>
<text x="186.1" y="614.8" font-size="6" fill="#fff">11</text>
<rect x="214.5" y="682.4" width="72.6" height="1.9" fill="#fff"/>
<text x="250.8" y="691.6" font-size="6.6" fill="#fff">100 µm</text>
</g>
<rect x="307.2" y="570.7" width="11" height="117.2" fill="url(#cbar)" stroke="#000" stroke-width="0.7"/>
<text x="323.2" y="575.8" font-size="9.6" font-family='"DejaVu Sans", "Liberation Sans", sans-serif' fill="#000">4</text>
<text x="323.2" y="634.2" font-size="9.6" font-family='"DejaVu Sans", "Liberation Sans", sans-serif' fill="#000">2</text>
<text x="323.2" y="693.6" font-size="9.6" font-family='"DejaVu Sans", "Liberation Sans", sans-serif' fill="#000">1</text>
<text x="68.8" y="723.6" font-size="13.98" fill="#141414"><tspan font-style="italic">cKitCreER<tspan font-size="9.9" dy="-4.9">T2</tspan></tspan><tspan dy="4.9">-GCaMP6f STMs</tspan></text>
<text x="73.3" y="741.8" font-size="13.87" fill="#141414">100 <tspan font-family='"DejaVu Serif", "Liberation Serif", serif' font-size="12.6">µ</tspan>g/ml Compound 48-80</text>
<text x="7.5" y="743" font-size="13.5" font-weight="bold" fill="#141414">G</text>
<g filter="url(#nfG)">
<rect x="70.8" y="750.5" width="219.7" height="25.5" fill="url(#vg12)"/>
<g clip-path="url(#cp5)"><rect x="237.5" y="753" width="12" height="20.5" fill="#8e8e8e" filter="url(#bl1)"/><rect x="241" y="756.5" width="5" height="13" fill="#c6c6c6" filter="url(#bl1)"/><rect x="256" y="753" width="36" height="21" fill="#a6a6a6" filter="url(#bl1)"/><rect x="260" y="756.5" width="32" height="15" fill="#e5e5e5" filter="url(#bl2)"/></g>
<rect x="70.8" y="779.5" width="219.7" height="25.5" fill="url(#vg13)"/>
<rect x="70.8" y="808.3" width="219.7" height="25.5" fill="url(#vg14)"/>
<rect x="70.8" y="837.5" width="219.7" height="25.5" fill="url(#vg15)"/>
<g clip-path="url(#cp6)"><ellipse cx="281.25" cy="849.75" rx="6.25" ry="9.75" fill="#7b7b7b" filter="url(#bl1)"/></g>
<rect x="70.8" y="866.7" width="219.7" height="25.5" fill="url(#vg16)"/>
<rect x="70.8" y="895.5" width="219.7" height="25.5" fill="url(#vg17)"/>
<rect x="70.8" y="924.5" width="219.7" height="25.5" fill="url(#vg18)"/>
<g clip-path="url(#cp7)"><path d="M269,937.5 L278,927 L286,935.5 L280,945.5 L271,946.5 Z" fill="#969696" filter="url(#bl1)"/><path d="M271.5,937.5 L277.5,931 L282.5,936 L277,942 L272.5,942.5 Z" fill="#fdfdfd" filter="url(#bl05)"/></g>
<rect x="70.8" y="953.5" width="219.7" height="25.5" fill="url(#vg19)"/>
<g clip-path="url(#cp8)"><rect x="244.5" y="955" width="47.5" height="23.5" fill="#828282" filter="url(#bl1)"/><rect x="255" y="960.5" width="35" height="12" fill="#989898" filter="url(#bl2)"/></g>
<rect x="70.8" y="982.5" width="219.7" height="25.5" fill="url(#vg20)"/>
<g clip-path="url(#cp9)"><ellipse cx="275.5" cy="996" rx="4.5" ry="8.5" fill="#6f6f6f" filter="url(#bl1)"/><ellipse cx="285.25" cy="994.5" rx="4.25" ry="8" fill="#727272" filter="url(#bl1)"/><rect x="283" y="1003.7" width="4" height="3.4" fill="#fff"/></g>
</g>
<rect x="288.7" y="753.56" width="1.6" height="19.38" fill="#b020b0" opacity="0.55"/>
<rect x="288.7" y="782.56" width="1.6" height="19.38" fill="#b020b0" opacity="0.55"/>
<rect x="288.7" y="811.36" width="1.6" height="19.38" fill="#b020b0" opacity="0.55"/>
<rect x="288.7" y="840.56" width="1.6" height="19.38" fill="#b020b0" opacity="0.55"/>
<rect x="288.7" y="869.76" width="1.6" height="19.38" fill="#b020b0" opacity="0.55"/>
<rect x="288.7" y="898.56" width="1.6" height="19.38" fill="#b020b0" opacity="0.55"/>
<rect x="288.7" y="927.56" width="1.6" height="19.38" fill="#b020b0" opacity="0.55"/>
<rect x="288.7" y="956.56" width="1.6" height="19.38" fill="#b020b0" opacity="0.55"/>
<rect x="288.7" y="985.56" width="1.6" height="19.38" fill="#b020b0" opacity="0.55"/>
<text x="31.3" y="768.15" font-size="13.5" fill="#141414">Cell 1</text>
<text x="31.3" y="797.15" font-size="13.5" fill="#141414">Cell 2</text>
<text x="31.3" y="825.95" font-size="13.5" fill="#141414">Cell 3</text>
<text x="31.3" y="855.15" font-size="13.5" fill="#141414">Cell 4</text>
<text x="31.3" y="884.35" font-size="13.5" fill="#141414">Cell 5</text>
<text x="31.3" y="913.15" font-size="13.5" fill="#141414">Cell 6</text>
<text x="31.3" y="942.15" font-size="13.5" fill="#141414">Cell 7</text>
<text x="31.3" y="971.15" font-size="13.5" fill="#141414">Cell 8</text>
<text x="31.3" y="1000.15" font-size="13.5" fill="#141414">Cell 9</text>
<line x1="72" y1="1020.5" x2="274" y2="1020.5" stroke="#000" stroke-width="2.6" stroke-linecap="round"/>
<path d="M270.8,1013.8 L286.6,1020.5 L270.8,1027 Z" fill="#000"/>
<text x="133.8" y="1038.2" font-size="13.6" fill="#141414">Time (18.2s)</text>
<text x="335.6" y="550.4" font-size="13.5" font-weight="bold" fill="#141414">H</text>
<text x="384.8" y="547.8" font-size="13.87" fill="#141414"><tspan font-style="italic">cKitCreER<tspan font-size="9.9" dy="-4.9">T2</tspan></tspan><tspan dy="4.9">-GCaMP6f Cell Plots</tspan></text>
<line x1="374.9" y1="562.9" x2="374.9" y2="574.6" stroke="#111" stroke-width="0.9"/>
<path d="M372.9,572.3 L376.9,572.3 L374.9,576.6 Z" fill="#111"/>
<text x="382.2" y="576" font-size="11.22" fill="#141414">100 <tspan font-family='"DejaVu Serif", "Liberation Serif", serif' font-size="10.4">µ</tspan>g/ml Compound 48-80</text>
<g style="isolation:isolate">
<polyline fill="none" stroke="#35dede" stroke-width="0.55" stroke-opacity="0.85" stroke-linejoin="round" points="372.3,705.47 372.85,702.4 373.4,701.77 373.95,707.08 374.49,701.44 375.04,699.43 375.59,700.47 376.14,704.17 376.69,700.52 377.24,703.6 377.79,705 378.33,705.68 378.88,705.86 379.43,703.2 379.98,701.04 380.53,706.59 381.08,707.08 381.63,699.72 382.17,704.63 382.72,697.29 383.27,701.53 383.82,705.73 384.37,700.28 384.92,700.06 385.47,706.39 386.02,703.02 386.56,699.25 387.11,705.97 387.66,701.44 388.21,701.65 388.76,697.92 389.31,699.38 389.86,703.36 390.4,705.75 390.95,703.24 391.5,702.21 392.05,702.49 392.6,703.45 393.15,704.64 393.7,699.49 394.24,703.33 394.79,704.17 395.34,701.94 395.89,702.11 396.44,702.47 396.99,699.65 397.54,704.79 398.08,701.82 398.63,700.07 399.18,703.49 399.73,702.09 400.28,700.91 400.83,701.21 401.38,702.38 401.92,705.28 402.47,704.5 403.02,702.37 403.57,703.1 404.12,703.12 404.67,703.64 405.22,706.43 405.76,700.99 406.31,704.85 406.86,698.75 407.41,695.95 407.96,700.57 408.51,701.31 409.06,703.87 409.61,704.67 410.15,703.34 410.7,700.05 411.25,702.31 411.8,706.17 412.35,700.54 412.9,703.56 413.45,700.49 413.99,702.38 414.54,704.22 415.09,703.46 415.64,700.69 416.19,703.72 416.74,699.29 417.29,704.22 417.83,699.07 418.38,705.47 418.93,704.91 419.48,701.01 420.03,698.92 420.58,703.09 421.13,700.56 421.67,704.55 422.22,704.74 422.77,702.35 423.32,697.43 423.87,703.03 424.42,706.12 424.97,708.13 425.51,702.61 426.06,701.01 426.61,703.27 427.16,702.05 427.71,704.25 428.26,699.53 428.81,701.3 429.36,705.69 429.9,703.9 430.45,699.64 431,702.56 431.55,707.97 432.1,703.41 432.65,703.67 433.2,708.82 433.74,701.45 434.29,699.29 434.84,703.8 435.39,704.62 435.94,703.07 436.49,703.66 437.04,702.75 437.58,701.37 438.13,706.26 438.68,703.37 439.23,698.19 439.78,702.92 440.33,702.35 440.88,701.81 441.42,704.53 441.97,700.74 442.52,697.3 443.07,702.55 443.62,704.98 444.17,700.56 444.72,703.56 445.26,704.79 445.81,703.82 446.36,705.79 446.91,705 447.46,700.53 448.01,702.37 448.56,703.26 449.1,699.59 449.65,700.98 450.2,703.57 450.75,706.08 451.3,703.89 451.85,699.65 452.4,704.81 452.95,697.6 453.49,703.13 454.04,703.06 454.59,703.69 455.14,699.26 455.69,704.08 456.24,701.58 456.79,700.9 457.33,703.93 457.88,700.16 458.43,699.3 458.98,700.77 459.53,706.74 460.08,701.9 460.63,700.89 461.17,700.52 461.72,698.33 462.27,701.91 462.82,702.48 463.37,707.38 463.92,705.33 464.47,699.95 465.01,705.28 465.56,703.15 466.11,706.54 466.66,703.27 467.21,705.46 467.76,701.5 468.31,702.79 468.85,701.79 469.4,706.2 469.95,703.09 470.5,700.63 471.05,710.04 471.6,704.06 472.15,702.85 472.69,700.71 473.24,701.23 473.79,701.16 474.34,701.84 474.89,700.79 475.44,701.83 475.99,702.89 476.54,705.37 477.08,703.11 477.63,703.21 478.18,698.99 478.73,705.23 479.28,701.99 479.83,703.28 480.38,702.48 480.92,694.99 481.47,702.74 482.02,704.75 482.57,702.33 483.12,700.3 483.67,701.82 484.22,700.91 484.76,704.47 485.31,700.36 485.86,703.68 486.41,705.37 486.96,701.79 487.51,705.89 488.06,701.89 488.6,698.8 489.15,703.83 489.7,704.6 490.25,699.91 490.8,700.99 491.35,700.49 491.9,707 492.44,704.49 492.99,698.16 493.54,704.45 494.09,703.59 494.64,702.23 495.19,702.01 495.74,702.96 496.29,708.66 496.83,701.24 497.38,705.25 497.93,700.27 498.48,699.59 499.03,705.1 499.58,702.2 500.13,698.68 500.67,698.48 501.22,700.24 501.77,703.7 502.32,701.51 502.87,704.7 503.42,698.94 503.97,701.64 504.51,699.18 505.06,708.39 505.61,703.8 506.16,703.71 506.71,703.43 507.26,705.43 507.81,701.4 508.35,704.55 508.9,698.1 509.45,703.37 510,703.59 510.55,704.17 511.1,701.11 511.65,701.69 512.19,704.76 512.74,709.6 513.29,703.33 513.84,704.47 514.39,702.48 514.94,704.56 515.49,701.78 516.03,705.2 516.58,701.88 517.13,703.04 517.68,700.24 518.23,702.82 518.78,701 519.33,703.19 519.88,702.97 520.42,704.11 520.97,705.54 521.52,702.05 522.07,702.54 522.62,698.78 523.17,701.39 523.72,698.1 524.26,697.9 524.81,701.83 525.36,704.84 525.91,702.98 526.46,700.04 527.01,702.57 527.56,699.85 528.1,703.29 528.65,702.19 529.2,700.24 529.75,700.86 530.3,701.62 530.85,701.82 531.4,701.05 531.94,702.59 532.49,700.05 533.04,703.77 533.59,695.28 534.14,701.85 534.69,704.36 535.24,706.2 535.78,704.53 536.33,701.47 536.88,703.55 537.43,699.67 537.98,703.22 538.53,704.87 539.08,703.16 539.62,703.69 540.17,702.88 540.72,705.13 541.27,702.76 541.82,706.86 542.37,702.1 542.92,702.74 543.47,702.79 544.01,704.34 544.56,702.56 545.11,701.95 545.66,706.53 546.21,700.12 546.76,702.78 547.31,701.28 547.85,698.31 548.4,705.33 548.95,704.76 549.5,704.68 550.05,702.31 550.6,704.78 551.15,704.46 551.69,698.29 552.24,702.99 552.79,701.43 553.34,700.02 553.89,698.94 554.44,705.77 554.99,701.47 555.53,700.57 556.08,699.75 556.63,703.96 557.18,703.39 557.73,701.93 558.28,702.26 558.83,703.14 559.37,703.82 559.92,702.67 560.47,703.05 561.02,701.79 561.57,703.86 562.12,704.79 562.67,703.46 563.21,702.88 563.76,699.87 564.31,703.32 564.86,707.35 565.41,697.17 565.96,699.51 566.51,700.98 567.06,701.23 567.6,702.27 568.15,698.21 568.7,705.25 569.25,700.58 569.8,700.56 570.35,696.71 570.9,702.56 571.44,698.7 571.99,701.31 572.54,704.7 573.09,704.96 573.64,699.48 574.19,705.15 574.74,703.03 575.28,698.35 575.83,704.59 576.38,700.97 576.93,697.7 577.48,698.65 578.03,700.44 578.58,704.06 579.12,697.98 579.67,701.12 580.22,702.18 580.77,704.9 581.32,707.47 581.87,701.39 582.42,703.4 582.96,706.38 583.51,700.17 584.06,701.73 584.61,703.76 585.16,703.29 585.71,700.99 586.26,701.08 586.81,704.46 587.35,700.14 587.9,702.77 588.45,704.7 589,702.61 589.55,702.23 590.1,699.54 590.65,700.69 591.19,707.64 591.74,705.23 592.29,700.43 592.84,701.65 593.39,704.59 593.94,703.52 594.49,698.48 595.03,707.94 595.58,699.36 596.13,699.77 596.68,703.74 597.23,702.96 597.78,701.45 598.33,702.12 598.87,701.31 599.42,699.48 599.97,703.82 600.52,702.32 601.07,701.23 601.62,703.34 602.17,702.39"/>
<polyline fill="none" stroke="#3cc84a" stroke-width="0.55" stroke-opacity="0.85" stroke-linejoin="round" points="372.3,703.01 372.85,698.72 373.4,704.31 373.95,703.48 374.49,701.57 375.04,699.41 375.59,706.43 376.14,700.12 376.69,699.69 377.24,701.8 377.79,706.85 378.33,704.09 378.88,702.75 379.43,701.74 379.98,705.32 380.53,702.99 381.08,700.74 381.63,703.7 382.17,703.12 382.72,703.5 383.27,705.75 383.82,703.26 384.37,702.93 384.92,700.66 385.47,704.29 386.02,705.49 386.56,703.57 387.11,704.5 387.66,701.1 388.21,703.74 388.76,706.09 389.31,701 389.86,702.6 390.4,702 390.95,701.48 391.5,699.93 392.05,704.58 392.6,700.95 393.15,702.25 393.7,702.28 394.24,702.65 394.79,703.52 395.34,701.92 395.89,702.35 396.44,700.82 396.99,698.92 397.54,704.74 398.08,697.85 398.63,699.87 399.18,705.1 399.73,702.73 400.28,702.42 400.83,699.67 401.38,704.69 401.92,698.4 402.47,704.96 403.02,696.5 403.57,703.86 404.12,705.33 404.67,705.07 405.22,703.8 405.76,703.04 406.31,703.86 406.86,704.59 407.41,708.48 407.96,703.07 408.51,698 409.06,698.52 409.61,699.7 410.15,703.34 410.7,701.21 411.25,703.67 411.8,703.52 412.35,702.04 412.9,700.02 413.45,703.57 413.99,703.96 414.54,702.49 415.09,705.89 415.64,700.4 416.19,700.01 416.74,699.63 417.29,700.59 417.83,703.8 418.38,702.96 418.93,704.61 419.48,701.68 420.03,697.29 420.58,704.71 421.13,700.86 421.67,699.17 422.22,704.84 422.77,697.4 423.32,703.96 423.87,702.65 424.42,701.42 424.97,700.21 425.51,700.53 426.06,702.98 426.61,703.93 427.16,707.88 427.71,703.58 428.26,699.43 428.81,704.25 429.36,700.95 429.9,700.73 430.45,702 431,703.7 431.55,703.69 432.1,702.5 432.65,706.52 433.2,699.11 433.74,704.85 434.29,703.87 434.84,703.85 435.39,703.08 435.94,701.5 436.49,699.55 437.04,701.86 437.58,698.69 438.13,703.25 438.68,700.76 439.23,700.51 439.78,702.04 440.33,700.81 440.88,704.77 441.42,699.26 441.97,700.46 442.52,701.98 443.07,703.2 443.62,700.39 444.17,704.94 444.72,700.64 445.26,700.18 445.81,696.46 446.36,691.19 446.91,699.16 447.46,700.9 448.01,706.14 448.56,705.4 449.1,703.62 449.65,699.62 450.2,698.94 450.75,702.94 451.3,701.34 451.85,701.83 452.4,708.22 452.95,699.78 453.49,699.03 454.04,707.63 454.59,704.57 455.14,702.56 455.69,702.56 456.24,699.88 456.79,699.6 457.33,703.67 457.88,700.76 458.43,703.88 458.98,703.1 459.53,701.8 460.08,701.08 460.63,703.84 461.17,697.87 461.72,701.88 462.27,702.35 462.82,700.54 463.37,703.85 463.92,701.63 464.47,708.14 465.01,706.41 465.56,703.23 466.11,703.47 466.66,703.21 467.21,703.9 467.76,700.99 468.31,699.5 468.85,703.56 469.4,699.92 469.95,701.46 470.5,705.21 471.05,705.55 471.6,702.24 472.15,699.82 472.69,704.53 473.24,707.3 473.79,700.07 474.34,699.64 474.89,702.9 475.44,699.79 475.99,697.57 476.54,704.36 477.08,703.26 477.63,703.25 478.18,699.79 478.73,704.36 479.28,703.1 479.83,699.35 480.38,699.96 480.92,699.84 481.47,704.51 482.02,701.29 482.57,703.7 483.12,700.16 483.67,701.14 484.22,700.65 484.76,702.72 485.31,701.97 485.86,701.43 486.41,702.81 486.96,701.56 487.51,704.59 488.06,705.09 488.6,706.33 489.15,702.66 489.7,700.34 490.25,701.3 490.8,706.95 491.35,701.37 491.9,702.21 492.44,702.68 492.99,701.77 493.54,700.95 494.09,699.1 494.64,699.39 495.19,697.82 495.74,700.92 496.29,703.66 496.83,699.17 497.38,705.11 497.93,700.33 498.48,704.67 499.03,703.62 499.58,699.43 500.13,703.72 500.67,699.79 501.22,700.8 501.77,702.6 502.32,700.54 502.87,700.86 503.42,701.93 503.97,703.75 504.51,700.32 505.06,703.02 505.61,702.4 506.16,701.23 506.71,702.49 507.26,701.67 507.81,701.56 508.35,701.61 508.9,701.95 509.45,699.05 510,703.37 510.55,703.26 511.1,705.17 511.65,707.69 512.19,700.71 512.74,701.15 513.29,698.93 513.84,705.62 514.39,704.05 514.94,703.59 515.49,697.75 516.03,700.13 516.58,702.68 517.13,702.33 517.68,701.56 518.23,704.89 518.78,701.5 519.33,704.78 519.88,702.06 520.42,700.7 520.97,701.65 521.52,703.92 522.07,702.96 522.62,700.46 523.17,703.49 523.72,705.45 524.26,702.96 524.81,703.52 525.36,702.8 525.91,702.34 526.46,703.14 527.01,703.16 527.56,700.25 528.1,701.01 528.65,700.15 529.2,702.19 529.75,703.25 530.3,701.66 530.85,705.73 531.4,704.98 531.94,700.44 532.49,703.5 533.04,703.92 533.59,704.9 534.14,701.36 534.69,705.16 535.24,699.58 535.78,701.93 536.33,706.45 536.88,703.58 537.43,704.75 537.98,701.15 538.53,701.2 539.08,703.54 539.62,703.9 540.17,701.41 540.72,703.87 541.27,699.36 541.82,703.95 542.37,701.63 542.92,706.99 543.47,701.57 544.01,703.87 544.56,701.82 545.11,699.88 545.66,702.85 546.21,708.23 546.76,707.18 547.31,702.27 547.85,704.53 548.4,705.13 548.95,700.12 549.5,703.01 550.05,700.33 550.6,700.38 551.15,703.4 551.69,702.2 552.24,705.23 552.79,701.58 553.34,702.6 553.89,698.88 554.44,700.59 554.99,702.91 555.53,704.11 556.08,703.05 556.63,702.54 557.18,700.81 557.73,700.19 558.28,705.32 558.83,704.96 559.37,701.79 559.92,705.35 560.47,702.78 561.02,706.66 561.57,703.32 562.12,703.61 562.67,703.31 563.21,704.06 563.76,701.45 564.31,700.53 564.86,700.9 565.41,703.2 565.96,703.29 566.51,704.1 567.06,704.24 567.6,702.96 568.15,702.97 568.7,703.07 569.25,702.04 569.8,700.62 570.35,704.04 570.9,703.11 571.44,701.3 571.99,702.1 572.54,704.4 573.09,705.26 573.64,701.07 574.19,704.99 574.74,701.61 575.28,704.84 575.83,698.53 576.38,704.95 576.93,698.37 577.48,700.81 578.03,699.33 578.58,699.67 579.12,701.28 579.67,703.17 580.22,696.87 580.77,703.4 581.32,702.03 581.87,705.53 582.42,702.47 582.96,701.1 583.51,704.05 584.06,702.13 584.61,703.1 585.16,703.22 585.71,701.01 586.26,700.44 586.81,704.13 587.35,706.38 587.9,701.37 588.45,704.93 589,703.48 589.55,704.32 590.1,700.15 590.65,697.44 591.19,703.77 591.74,697.47 592.29,702.07 592.84,703.21 593.39,699.88 593.94,698.04 594.49,702.97 595.03,703.18 595.58,698.18 596.13,700.42 596.68,708.88 597.23,702.82 597.78,704.29 598.33,703.8 598.87,702.18 599.42,703.55 599.97,703.39 600.52,697.69 601.07,706.19 601.62,702.08 602.17,701.1"/>
<polyline fill="none" stroke="#e8b070" stroke-width="0.55" stroke-opacity="0.85" stroke-linejoin="round" points="372.3,705.8 372.85,703.59 373.4,703.6 373.95,704.42 374.49,701.69 375.04,699.61 375.59,700.97 376.14,701.73 376.69,698.55 377.24,705.8 377.79,702.7 378.33,702.08 378.88,695.72 379.43,702.58 379.98,702.77 380.53,703.79 381.08,705.06 381.63,700.74 382.17,703.04 382.72,701.33 383.27,701.09 383.82,700.57 384.37,708.02 384.92,704.48 385.47,705.1 386.02,702.37 386.56,702.33 387.11,703.33 387.66,700.03 388.21,703.48 388.76,702.08 389.31,701.11 389.86,701.27 390.4,703.13 390.95,699.15 391.5,700.69 392.05,700.11 392.6,701.82 393.15,701.9 393.7,704.2 394.24,706.91 394.79,705.04 395.34,706.05 395.89,702.47 396.44,705.8 396.99,703.61 397.54,704.6 398.08,702.39 398.63,702.84 399.18,699.15 399.73,700.26 400.28,698.73 400.83,702.15 401.38,706.58 401.92,700.06 402.47,697.8 403.02,703.32 403.57,699.02 404.12,702.77 404.67,702.09 405.22,702.65 405.76,703.79 406.31,703.46 406.86,706.47 407.41,701.99 407.96,702.06 408.51,700.7 409.06,702.49 409.61,701.39 410.15,697.1 410.7,700.02 411.25,702.7 411.8,701.77 412.35,702.33 412.9,699.34 413.45,703.56 413.99,699.87 414.54,701.4 415.09,708.58 415.64,701.28 416.19,703.71 416.74,704.53 417.29,702.4 417.83,701.65 418.38,696.61 418.93,702.21 419.48,704.42 420.03,702.65 420.58,701.28 421.13,704.57 421.67,702.93 422.22,706.18 422.77,705.29 423.32,703.39 423.87,700.65 424.42,704.51 424.97,704.39 425.51,702.6 426.06,704.76 426.61,703.69 427.16,704.54 427.71,698.34 428.26,703.5 428.81,699.13 429.36,702.09 429.9,698.23 430.45,704.7 431,701.98 431.55,708.03 432.1,699.34 432.65,700.94 433.2,703.24 433.74,697.62 434.29,695.63 434.84,698.81 435.39,698.63 435.94,702.25 436.49,704.3 437.04,705.92 437.58,699.9 438.13,706.8 438.68,702.84 439.23,698.34 439.78,701.53 440.33,705.34 440.88,704.4 441.42,699.36 441.97,704.86 442.52,703.45 443.07,705.69 443.62,702.52 444.17,703.84 444.72,699.96 445.26,704.71 445.81,703.4 446.36,707.98 446.91,699.3 447.46,699.53 448.01,703.05 448.56,702.03 449.1,701.32 449.65,699.87 450.2,706.29 450.75,704.52 451.3,697.03 451.85,699.63 452.4,701 452.95,702.31 453.49,700.39 454.04,700.27 454.59,700.3 455.14,704.88 455.69,702.32 456.24,701.43 456.79,701.64 457.33,704.82 457.88,702.89 458.43,704.66 458.98,703.36 459.53,701.83 460.08,701 460.63,700.96 461.17,699.96 461.72,701.99 462.27,705.32 462.82,702.21 463.37,703.42 463.92,706.37 464.47,703.85 465.01,701.38 465.56,699.92 466.11,702.63 466.66,705.66 467.21,702.49 467.76,704.1 468.31,699.38 468.85,705.34 469.4,700.35 469.95,702.91 470.5,701.44 471.05,704.05 471.6,701.13 472.15,702.38 472.69,702.8 473.24,704.92 473.79,703.7 474.34,706.85 474.89,701.14 475.44,703.07 475.99,698.84 476.54,705.95 477.08,698.62 477.63,701.29 478.18,703.45 478.73,701.2 479.28,705.37 479.83,705.62 480.38,699.48 480.92,707.11 481.47,702.33 482.02,699.13 482.57,702.08 483.12,699.19 483.67,702.88 484.22,703.96 484.76,699.58 485.31,700.25 485.86,702.55 486.41,699.06 486.96,705.05 487.51,699.89 488.06,703.29 488.6,701.8 489.15,702.09 489.7,701.9 490.25,701.07 490.8,698.97 491.35,698.98 491.9,702.11 492.44,702.16 492.99,704.65 493.54,698.38 494.09,700.1 494.64,703.79 495.19,701.87 495.74,698.72 496.29,703.96 496.83,701.65 497.38,702.31 497.93,702.98 498.48,702.11 499.03,707.03 499.58,699.95 500.13,703.38 500.67,702 501.22,705.65 501.77,696.81 502.32,700.93 502.87,706.91 503.42,703.76 503.97,703.11 504.51,704.64 505.06,705.55 505.61,705.46 506.16,704.38 506.71,701.97 507.26,701.8 507.81,699.34 508.35,702.76 508.9,707.7 509.45,702.72 510,699.79 510.55,705.18 511.1,701.95 511.65,701.6 512.19,704.8 512.74,702.87 513.29,704.79 513.84,698.96 514.39,700.84 514.94,702.25 515.49,700.75 516.03,700.78 516.58,704.42 517.13,705.5 517.68,705.78 518.23,705.4 518.78,700.44 519.33,699.78 519.88,698.77 520.42,705.55 520.97,702.4 521.52,699.48 522.07,698.15 522.62,703.16 523.17,703.26 523.72,703.29 524.26,701.34 524.81,700.48 525.36,700.04 525.91,703.44 526.46,698.91 527.01,704.74 527.56,700.87 528.1,699.15 528.65,699.71 529.2,701.31 529.75,703.25 530.3,702.52 530.85,704.06 531.4,703.96 531.94,704.7 532.49,699.72 533.04,705.13 533.59,703.99 534.14,699.16 534.69,701.4 535.24,698.22 535.78,698.61 536.33,701.28 536.88,699.68 537.43,704.95 537.98,701.71 538.53,698.13 539.08,701.16 539.62,701.56 540.17,695.83 540.72,700.31 541.27,705.65 541.82,699.5 542.37,708.19 542.92,701.04 543.47,701.3 544.01,703.31 544.56,704.07 545.11,703.24 545.66,695.76 546.21,704.82 546.76,704.12 547.31,702.66 547.85,703.16 548.4,698.13 548.95,701.41 549.5,702.56 550.05,700.42 550.6,701.45 551.15,702.62 551.69,702.9 552.24,702.53 552.79,702.52 553.34,703.16 553.89,702.33 554.44,699.17 554.99,705.15 555.53,701.26 556.08,700.43 556.63,702.4 557.18,702.26 557.73,699.49 558.28,703.17 558.83,700.76 559.37,700.89 559.92,701.71 560.47,701.67 561.02,700.22 561.57,698.72 562.12,704.7 562.67,699.72 563.21,703.78 563.76,704.27 564.31,701.74 564.86,701.74 565.41,706.28 565.96,698.33 566.51,702.54 567.06,700.57 567.6,701.25 568.15,700.75 568.7,701.98 569.25,701.45 569.8,701.99 570.35,702.99 570.9,699.54 571.44,701.81 571.99,701.35 572.54,703.52 573.09,703.68 573.64,701.77 574.19,705.52 574.74,698.81 575.28,703.08 575.83,702.93 576.38,703.36 576.93,701.88 577.48,700.97 578.03,700.52 578.58,703.76 579.12,704.81 579.67,702.52 580.22,702.5 580.77,703.94 581.32,699.32 581.87,694.89 582.42,704.28 582.96,700.01 583.51,703.15 584.06,702.68 584.61,704.23 585.16,705.15 585.71,703.97 586.26,706.23 586.81,700.56 587.35,701.58 587.9,697.82 588.45,702.46 589,703.53 589.55,699.91 590.1,703.49 590.65,699.93 591.19,703.42 591.74,706.49 592.29,703.07 592.84,700.16 593.39,701.05 593.94,703.33 594.49,701.69 595.03,701.72 595.58,704.32 596.13,704.88 596.68,704.02 597.23,706.09 597.78,702.11 598.33,700.82 598.87,703.05 599.42,703.81 599.97,705.05 600.52,700.83 601.07,699.86 601.62,707.36 602.17,697.58"/>
<polyline fill="none" stroke="#8a8aa8" stroke-width="0.55" stroke-opacity="0.85" stroke-linejoin="round" points="372.3,701.58 372.85,697.64 373.4,701.71 373.95,698.46 374.49,701.49 375.04,702.74 375.59,701.32 376.14,701.55 376.69,705.45 377.24,697.46 377.79,701.03 378.33,697.16 378.88,703.95 379.43,703.11 379.98,705.14 380.53,702.63 381.08,700.75 381.63,697.39 382.17,703.29 382.72,702.99 383.27,699.96 383.82,701.04 384.37,703.77 384.92,703.31 385.47,703.79 386.02,699.43 386.56,703.58 387.11,703.03 387.66,699.53 388.21,703.6 388.76,699.83 389.31,705.56 389.86,703.75 390.4,699.05 390.95,700.86 391.5,704.39 392.05,705 392.6,706.09 393.15,701.49 393.7,702.87 394.24,701.58 394.79,702.48 395.34,695.81 395.89,699.38 396.44,705.86 396.99,701.69 397.54,705.17 398.08,701.78 398.63,702.97 399.18,701.75 399.73,703.1 400.28,707.19 400.83,700.89 401.38,706.6 401.92,704.48 402.47,704.05 403.02,701.93 403.57,705.17 404.12,702.7 404.67,702.15 405.22,697.81 405.76,703.87 406.31,701.71 406.86,700.77 407.41,702.73 407.96,701.85 408.51,700.03 409.06,703.84 409.61,709.04 410.15,702.97 410.7,701.6 411.25,701.1 411.8,701.13 412.35,699.55 412.9,702.13 413.45,703.69 413.99,704.94 414.54,705.37 415.09,700.06 415.64,703.73 416.19,704.22 416.74,698.82 417.29,705.41 417.83,700.31 418.38,704.7 418.93,703.57 419.48,703.57 420.03,701.46 420.58,703.2 421.13,700.17 421.67,703.81 422.22,697.97 422.77,703.27 423.32,706.65 423.87,704.66 424.42,704.62 424.97,701.71 425.51,705.62 426.06,699.64 426.61,704.54 427.16,703.59 427.71,699.86 428.26,707.42 428.81,697.39 429.36,704.46 429.9,706.96 430.45,698.82 431,702.9 431.55,706.63 432.1,700.91 432.65,698.55 433.2,698.54 433.74,700.96 434.29,704.75 434.84,703.66 435.39,700.41 435.94,701.32 436.49,703.08 437.04,698.9 437.58,705.43 438.13,698.47 438.68,705.01 439.23,695.37 439.78,702.6 440.33,700.47 440.88,699.48 441.42,706.12 441.97,704.6 442.52,704.07 443.07,702.72 443.62,704.32 444.17,705.02 444.72,698.74 445.26,700.65 445.81,702.3 446.36,700.14 446.91,702.91 447.46,706.09 448.01,706.87 448.56,700.89 449.1,702.53 449.65,697.91 450.2,704.79 450.75,702.02 451.3,701.79 451.85,699.03 452.4,699.25 452.95,703.86 453.49,697.9 454.04,694.18 454.59,698.63 455.14,702.72 455.69,699.84 456.24,706.14 456.79,699.43 457.33,704.1 457.88,701.29 458.43,703.93 458.98,702.29 459.53,702.13 460.08,705.46 460.63,701.96 461.17,699.95 461.72,702.06 462.27,699.51 462.82,696.71 463.37,701.98 463.92,698.94 464.47,701.83 465.01,705.04 465.56,700.35 466.11,705.21 466.66,702.17 467.21,696.74 467.76,703.98 468.31,705.01 468.85,703.19 469.4,701.22 469.95,699.97 470.5,703.7 471.05,703.82 471.6,700.82 472.15,702.47 472.69,699.8 473.24,704.27 473.79,698.86 474.34,701.62 474.89,695.1 475.44,706.21 475.99,703.07 476.54,702.55 477.08,699.53 477.63,701.88 478.18,704.74 478.73,705.66 479.28,700.14 479.83,705.13 480.38,698.07 480.92,701.68 481.47,703.56 482.02,704.32 482.57,698.93 483.12,702.67 483.67,701.89 484.22,707.2 484.76,701.96 485.31,704.8 485.86,707.86 486.41,702.9 486.96,702.65 487.51,705.35 488.06,695.48 488.6,705.18 489.15,704.52 489.7,701.67 490.25,701.57 490.8,701.67 491.35,703 491.9,698.61 492.44,704.33 492.99,706.86 493.54,704.9 494.09,702.73 494.64,702.17 495.19,697.49 495.74,702.57 496.29,703.48 496.83,703.69 497.38,704.37 497.93,700.6 498.48,705.28 499.03,699 499.58,704.67 500.13,703.99 500.67,702.24 501.22,706.37 501.77,702.04 502.32,702.41 502.87,699.08 503.42,700.58 503.97,708.29 504.51,701.47 505.06,704.82 505.61,704.75 506.16,704.43 506.71,697.47 507.26,703.43 507.81,702.35 508.35,700.17 508.9,697.91 509.45,703.32 510,702.02 510.55,701.74 511.1,702.17 511.65,702.89 512.19,705.15 512.74,703.64 513.29,704.34 513.84,704.82 514.39,703.71 514.94,702.55 515.49,704.04 516.03,703.37 516.58,700.2 517.13,700.59 517.68,704.77 518.23,706.81 518.78,696.23 519.33,702.87 519.88,698.1 520.42,702.52 520.97,698.08 521.52,701.33 522.07,702.57 522.62,703.76 523.17,702.79 523.72,704.61 524.26,701.67 524.81,702.5 525.36,701.1 525.91,701.06 526.46,705.04 527.01,701.64 527.56,702.3 528.1,699.79 528.65,698.4 529.2,703.36 529.75,707.52 530.3,702.51 530.85,702.54 531.4,704.82 531.94,701.41 532.49,702.98 533.04,700.81 533.59,705.46 534.14,701.76 534.69,702.91 535.24,702.95 535.78,700.07 536.33,703.9 536.88,703.4 537.43,700.58 537.98,706.12 538.53,700.76 539.08,704.18 539.62,708.01 540.17,699.02 540.72,698.47 541.27,702.23 541.82,704.92 542.37,706.78 542.92,701.72 543.47,698.79 544.01,706.15 544.56,702.62 545.11,698.7 545.66,700.57 546.21,702.95 546.76,697.52 547.31,705.64 547.85,701.25 548.4,699.96 548.95,705.82 549.5,703.72 550.05,703.53 550.6,695.77 551.15,700.08 551.69,702.78 552.24,703.86 552.79,696.23 553.34,697.6 553.89,704.62 554.44,704.32 554.99,701.03 555.53,701.97 556.08,701.56 556.63,704.24 557.18,706.88 557.73,702.09 558.28,704.78 558.83,696.1 559.37,701.97 559.92,701.76 560.47,701.39 561.02,703.93 561.57,698.13 562.12,705.1 562.67,702.39 563.21,701.24 563.76,702.32 564.31,709.2 564.86,701 565.41,704.3 565.96,700.05 566.51,702.19 567.06,702.44 567.6,701.23 568.15,703.97 568.7,702.27 569.25,703.26 569.8,701.03 570.35,700.18 570.9,704.38 571.44,703.45 571.99,704.33 572.54,697.98 573.09,704.27 573.64,702.56 574.19,702.94 574.74,704.62 575.28,701.04 575.83,703.05 576.38,699.83 576.93,704.61 577.48,701.54 578.03,696.99 578.58,700.2 579.12,702.39 579.67,700.15 580.22,705.28 580.77,701.17 581.32,701.45 581.87,701.09 582.42,701.05 582.96,700.6 583.51,703.81 584.06,703.61 584.61,704.85 585.16,701.16 585.71,706.71 586.26,702.64 586.81,704.37 587.35,701.9 587.9,696.99 588.45,703.67 589,699.76 589.55,699.02 590.1,705.1 590.65,702.78 591.19,701.78 591.74,704.4 592.29,703.43 592.84,702.92 593.39,702 593.94,703.66 594.49,699.65 595.03,701.04 595.58,702.56 596.13,701.66 596.68,706.48 597.23,705.97 597.78,705.6 598.33,701.91 598.87,698.83 599.42,703.55 599.97,705.13 600.52,704.63 601.07,701.91 601.62,705.49 602.17,704.52"/>
<polyline fill="none" stroke="#c9b79c" stroke-width="0.55" stroke-opacity="0.85" stroke-linejoin="round" points="372.3,701.13 372.85,702.32 373.4,701.88 373.95,703.37 374.49,702.8 375.04,699.67 375.59,704.61 376.14,700.32 376.69,700.93 377.24,705.32 377.79,705.47 378.33,703.49 378.88,701.74 379.43,703.18 379.98,701.09 380.53,702.8 381.08,704.98 381.63,701.51 382.17,700.98 382.72,702.93 383.27,702.9 383.82,705.03 384.37,700.94 384.92,699.31 385.47,702.28 386.02,705.06 386.56,705 387.11,702.58 387.66,704.88 388.21,703.52 388.76,704.69 389.31,702.21 389.86,704.68 390.4,700.69 390.95,699.58 391.5,699.64 392.05,705.34 392.6,700.1 393.15,701.67 393.7,701.27 394.24,701.46 394.79,701.07 395.34,701.55 395.89,702 396.44,702.52 396.99,703.57 397.54,700.36 398.08,702.59 398.63,703.07 399.18,700.76 399.73,701.5 400.28,702.63 400.83,702.43 401.38,705.96 401.92,704.55 402.47,703.14 403.02,701.92 403.57,701.71 404.12,704.75 404.67,703.36 405.22,702.05 405.76,700.83 406.31,703.86 406.86,704.08 407.41,704.88 407.96,702.59 408.51,701.91 409.06,700.62 409.61,702.92 410.15,700.71 410.7,702.32 411.25,702.03 411.8,704.77 412.35,699.23 412.9,702.82 413.45,700.19 413.99,701.19 414.54,703.03 415.09,703.56 415.64,701.05 416.19,703.54 416.74,703.94 417.29,703.95 417.83,703.98 418.38,703.74 418.93,699.75 419.48,702.31 420.03,700.37 420.58,701.65 421.13,702.7 421.67,703.13 422.22,704.43 422.77,701.91 423.32,702.4 423.87,702.42 424.42,702.68 424.97,701.47 425.51,703.48 426.06,704.83 426.61,703.63 427.16,705.77 427.71,702.06 428.26,699.53 428.81,703.34 429.36,700.67 429.9,698.76 430.45,702.91 431,701.49 431.55,701.12 432.1,699.46 432.65,701.71 433.2,703.74 433.74,703.5 434.29,704.23 434.84,702.8 435.39,701.22 435.94,701.32 436.49,703.41 437.04,701.39 437.58,705.62 438.13,702.58 438.68,700.01 439.23,702.64 439.78,703.22 440.33,700.11 440.88,699.92 441.42,702.3 441.97,706.26 442.52,701.08 443.07,698.94 443.62,704.03 444.17,698.06 444.72,704.02 445.26,700.35 445.81,700.54 446.36,700.86 446.91,703.79 447.46,700.85 448.01,705.01 448.56,702.37 449.1,702.43 449.65,702.24 450.2,704.49 450.75,703.76 451.3,705.71 451.85,699.03 452.4,701.91 452.95,703.62 453.49,701.85 454.04,702.39 454.59,699.38 455.14,703.43 455.69,700.2 456.24,705.07 456.79,702.59 457.33,701.45 457.88,702.8 458.43,700.51 458.98,702.05 459.53,703.46 460.08,703.28 460.63,699.88 461.17,702.37 461.72,702.98 462.27,705.34 462.82,705.05 463.37,704.14 463.92,701.22 464.47,700.21 465.01,703.63 465.56,698.52 466.11,701.98 466.66,702.09 467.21,701.92 467.76,703.89 468.31,700.49 468.85,702.05 469.4,701.1 469.95,705.38 470.5,704.89 471.05,700.86 471.6,699.65 472.15,702.76 472.69,702.83 473.24,702.47 473.79,703.26 474.34,704.46 474.89,704.4 475.44,699.86 475.99,703.4 476.54,700.91 477.08,705.21 477.63,701.27 478.18,699.99 478.73,702.91 479.28,700.38 479.83,701.74 480.38,697.76 480.92,702.72 481.47,702.72 482.02,704.27 482.57,702.51 483.12,700.93 483.67,703.72 484.22,699.79 484.76,703.33 485.31,701.87 485.86,699.75 486.41,703.37 486.96,701.99 487.51,702.77 488.06,703.73 488.6,701.24 489.15,706.33 489.7,704.25 490.25,702.54 490.8,701.77 491.35,703.91 491.9,704.78 492.44,699.31 492.99,701.21 493.54,701.21 494.09,702.06 494.64,700.17 495.19,701.71 495.74,704.76 496.29,702.31 496.83,700.43 497.38,705.39 497.93,703.43 498.48,702.19 499.03,702.3 499.58,703.48 500.13,701.95 500.67,701.65 501.22,698.86 501.77,703.83 502.32,702.39 502.87,704.35 503.42,700.25 503.97,701.61 504.51,701.23 505.06,701.45 505.61,698.97 506.16,702.96 506.71,701.83 507.26,701.32 507.81,704.37 508.35,705.28 508.9,700.79 509.45,702.12 510,700.84 510.55,702.4 511.1,702.74 511.65,702.76 512.19,701.94 512.74,702.99 513.29,703.09 513.84,699.96 514.39,700.36 514.94,702.36 515.49,699.29 516.03,703.26 516.58,700.59 517.13,700.28 517.68,702.77 518.23,699.19 518.78,704.39 519.33,702.37 519.88,703.33 520.42,699.61 520.97,701.65 521.52,703.68 522.07,702.56 522.62,703.65 523.17,700.28 523.72,703.76 524.26,703.75 524.81,701.58 525.36,703.2 525.91,701.87 526.46,702.07 527.01,703.26 527.56,705.1 528.1,706.28 528.65,702.11 529.2,702.95 529.75,701.36 530.3,702.02 530.85,702.49 531.4,703.01 531.94,700.78 532.49,708.19 533.04,705.54 533.59,701.54 534.14,702.64 534.69,703.88 535.24,703.34 535.78,700.9 536.33,701.59 536.88,702.09 537.43,705.55 537.98,700.5 538.53,703.58 539.08,701.12 539.62,701.2 540.17,705.16 540.72,704.44 541.27,704.51 541.82,703.21 542.37,699.57 542.92,697.87 543.47,698.71 544.01,698.34 544.56,697.76 545.11,690.42 545.66,690.89 546.21,689.31 546.76,682.62 547.31,675.96 547.85,673.84 548.4,668.87 548.95,668.31 549.5,656.34 550.05,658.31 550.6,650.24 551.15,650.9 551.69,649.82 552.24,653.48 552.79,649.08 553.34,656.94 553.89,652.54 554.44,648.4 554.99,647.52 555.53,663.06 556.08,659.07 556.63,663.12 557.18,666.88 557.73,664.98 558.28,674.38 558.83,669.77 559.37,676.29 559.92,670.36 560.47,674.8 561.02,668.71 561.57,673.01 562.12,676.32 562.67,680.82 563.21,683.81 563.76,674.62 564.31,675.13 564.86,669.39 565.41,673.83 565.96,668.59 566.51,669.13 567.06,662.8 567.6,660.34 568.15,664.93 568.7,656.49 569.25,649.34 569.8,649.74 570.35,643.43 570.9,650.61 571.44,652.96 571.99,646.82 572.54,647.2 573.09,631.87 573.64,638.08 574.19,633.15 574.74,628.85 575.28,634.69 575.83,646.01 576.38,646.47 576.93,630.37 577.48,629.25 578.03,639.04 578.58,630.41 579.12,629.56 579.67,631.63 580.22,638.95 580.77,625.49 581.32,636.93 581.87,628.64 582.42,638.88 582.96,635.7 583.51,626.22 584.06,636.03 584.61,638.8 585.16,630.73 585.71,630.88 586.26,635.94 586.81,627.55 587.35,626.13 587.9,627.88 588.45,619.65 589,631.88 589.55,621.32 590.1,629.01 590.65,635.81 591.19,635.35 591.74,636.68 592.29,638.74 592.84,625.8 593.39,637.03 593.94,629.38 594.49,626.83 595.03,628.61 595.58,622.25 596.13,633.75 596.68,632.18 597.23,620.94 597.78,621.08 598.33,627.26 598.87,632.49 599.42,630.97 599.97,622.52 600.52,616.66 601.07,630.29 601.62,627.55 602.17,631.95"/>
<polyline fill="none" stroke="#8c8c8c" stroke-width="0.55" stroke-opacity="0.85" stroke-linejoin="round" points="372.3,704.24 372.85,700.32 373.4,699.38 373.95,702 374.49,701.54 375.04,705.01 375.59,699.67 376.14,703.78 376.69,701.26 377.24,698.52 377.79,701.69 378.33,701.87 378.88,701.5 379.43,703.56 379.98,703.55 380.53,700.13 381.08,703.81 381.63,703.06 382.17,705 382.72,702.06 383.27,704.35 383.82,702.79 384.37,702.95 384.92,702.54 385.47,703.77 386.02,702.98 386.56,700.28 387.11,700.65 387.66,701.29 388.21,701.42 388.76,705.51 389.31,702.83 389.86,701.88 390.4,701.91 390.95,701.34 391.5,704.85 392.05,701.62 392.6,703.46 393.15,701.86 393.7,699.26 394.24,701.38 394.79,702.49 395.34,704.06 395.89,700.61 396.44,706.12 396.99,703.91 397.54,707.04 398.08,702.8 398.63,703.96 399.18,703.47 399.73,704.38 400.28,698.74 400.83,700.94 401.38,701.06 401.92,703.74 402.47,700.98 403.02,702.5 403.57,703.11 404.12,705.36 404.67,702.3 405.22,707.36 405.76,703.93 406.31,706.79 406.86,701.76 407.41,701.43 407.96,700.86 408.51,705.11 409.06,700.52 409.61,698.75 410.15,703.5 410.7,704.22 411.25,703.66 411.8,703.63 412.35,700.86 412.9,703.63 413.45,701.75 413.99,702.55 414.54,704.31 415.09,702.44 415.64,702.46 416.19,702.25 416.74,701.96 417.29,703.11 417.83,701.73 418.38,705.79 418.93,703.5 419.48,700.1 420.03,701.93 420.58,703.08 421.13,703.99 421.67,703.7 422.22,702.81 422.77,706 423.32,703.24 423.87,702.94 424.42,706.59 424.97,705.85 425.51,702.79 426.06,703.19 426.61,699.1 427.16,698.73 427.71,708.18 428.26,703.86 428.81,700.31 429.36,701.9 429.9,699.84 430.45,700.19 431,702.77 431.55,700.39 432.1,702.65 432.65,704.87 433.2,702.25 433.74,700.07 434.29,700.92 434.84,703.23 435.39,699.77 435.94,699.96 436.49,699.92 437.04,706.05 437.58,704.06 438.13,703.66 438.68,703.8 439.23,706.45 439.78,703.58 440.33,700.35 440.88,704.41 441.42,698.41 441.97,704.39 442.52,701.76 443.07,702.89 443.62,704.79 444.17,702.04 444.72,702.2 445.26,702.66 445.81,700.24 446.36,701.02 446.91,705.42 447.46,700.01 448.01,704.19 448.56,706.07 449.1,700.93 449.65,700.34 450.2,704.17 450.75,702.4 451.3,703.81 451.85,701.3 452.4,703.41 452.95,702.01 453.49,704.85 454.04,701.43 454.59,702.38 455.14,697.64 455.69,699.95 456.24,703.54 456.79,704.87 457.33,701.13 457.88,704.11 458.43,701.06 458.98,700.49 459.53,699.64 460.08,699.62 460.63,700.18 461.17,702.49 461.72,702.55 462.27,702.09 462.82,699.42 463.37,703.16 463.92,702.45 464.47,700.86 465.01,704.75 465.56,703.19 466.11,702.39 466.66,703.23 467.21,703.48 467.76,701.72 468.31,704.25 468.85,701.44 469.4,703.07 469.95,705.48 470.5,707.73 471.05,704.46 471.6,701.66 472.15,702.88 472.69,703.61 473.24,702.65 473.79,701.81 474.34,703.02 474.89,704.42 475.44,700.02 475.99,702.62 476.54,701.67 477.08,703.7 477.63,702.21 478.18,700.57 478.73,704.23 479.28,702.91 479.83,703.17 480.38,704.68 480.92,699.31 481.47,704.75 482.02,701.58 482.57,703.89 483.12,702.84 483.67,703.46 484.22,703.79 484.76,702.68 485.31,706.92 485.86,704.27 486.41,702.22 486.96,699.52 487.51,702.57 488.06,704.29 488.6,700.92 489.15,701.77 489.7,704.75 490.25,703.99 490.8,704.92 491.35,700.57 491.9,704.76 492.44,704.89 492.99,702.35 493.54,700.87 494.09,703.82 494.64,701.31 495.19,705.2 495.74,701.29 496.29,702.37 496.83,702.62 497.38,706.77 497.93,700.88 498.48,702.65 499.03,702.36 499.58,704.74 500.13,700.06 500.67,703.51 501.22,701.95 501.77,702.98 502.32,703.24 502.87,701.45 503.42,701.74 503.97,700.26 504.51,703.64 505.06,701.15 505.61,704.46 506.16,702.47 506.71,705.78 507.26,702.62 507.81,702.97 508.35,703.93 508.9,703.92 509.45,702.98 510,700.49 510.55,702.81 511.1,702.5 511.65,701.83 512.19,700.02 512.74,700.51 513.29,701.58 513.84,705.75 514.39,701.38 514.94,703.72 515.49,701.68 516.03,703.97 516.58,701.48 517.13,703.29 517.68,703.37 518.23,702.12 518.78,705.2 519.33,700.37 519.88,702.58 520.42,702.78 520.97,704.26 521.52,701.27 522.07,704.54 522.62,700.5 523.17,704.12 523.72,702.41 524.26,703.93 524.81,702.45 525.36,701.05 525.91,703.69 526.46,704.74 527.01,702.98 527.56,704.05 528.1,702.15 528.65,704.84 529.2,703.57 529.75,701.16 530.3,702.27 530.85,704.49 531.4,703.15 531.94,702.19 532.49,701.15 533.04,704.35 533.59,702.28 534.14,704.29 534.69,705.52 535.24,700.64 535.78,701.4 536.33,701.28 536.88,700.85 537.43,703 537.98,700.07 538.53,700.9 539.08,703.87 539.62,703.31 540.17,705.54 540.72,706.27 541.27,701.27 541.82,701.44 542.37,704.06 542.92,701.35 543.47,702.56 544.01,705.25 544.56,701.42 545.11,701.55 545.66,701.45 546.21,703.88 546.76,705.16 547.31,701.71 547.85,700.21 548.4,695.75 548.95,705.69 549.5,701.85 550.05,697.39 550.6,695.03 551.15,688.15 551.69,686.84 552.24,676.74 552.79,657.48 553.34,663.24 553.89,649.43 554.44,652.96 554.99,640.94 555.53,642.69 556.08,631.59 556.63,642.7 557.18,632.83 557.73,639.58 558.28,644 558.83,651.2 559.37,639.14 559.92,646.67 560.47,632.62 561.02,644.33 561.57,640.84 562.12,640.24 562.67,659.57 563.21,648.6 563.76,643.86 564.31,642.14 564.86,645.47 565.41,636.3 565.96,639.26 566.51,639.6 567.06,637.27 567.6,653.23 568.15,639.08 568.7,645.66 569.25,653 569.8,639.83 570.35,635.76 570.9,638.09 571.44,640.13 571.99,645.99 572.54,631.62 573.09,639.51 573.64,645.24 574.19,649.17 574.74,642.86 575.28,652.5 575.83,636.26 576.38,635.61 576.93,643.41 577.48,650.62 578.03,645.27 578.58,630.02 579.12,630.55 579.67,636.21 580.22,629.94 580.77,633.57 581.32,642.4 581.87,643.66 582.42,634.61 582.96,631.41 583.51,652.11 584.06,638.23 584.61,644.58 585.16,649.77 585.71,642.02 586.26,637.29 586.81,635.62 587.35,636.27 587.9,633.09 588.45,639.47 589,644.04 589.55,623.34 590.1,622.56 590.65,644.25 591.19,642.94 591.74,644.55 592.29,635.7 592.84,636.27 593.39,641.47 593.94,634.99 594.49,634.27 595.03,632.71 595.58,636.07 596.13,638.74 596.68,635.28 597.23,648.81 597.78,637.46 598.33,647.52 598.87,633.96 599.42,632.55 599.97,635.71 600.52,637.16 601.07,622.78 601.62,626.07 602.17,627.41"/>
<polyline fill="none" stroke="#e54be0" stroke-width="0.55" stroke-opacity="0.85" stroke-linejoin="round" points="372.3,701.42 372.85,702.17 373.4,701.41 373.95,702.58 374.49,704.71 375.04,702.63 375.59,705.21 376.14,701.67 376.69,702.11 377.24,700.76 377.79,703.54 378.33,704.52 378.88,701.99 379.43,703.03 379.98,703.05 380.53,704.04 381.08,703.72 381.63,701.36 382.17,702.66 382.72,702.16 383.27,699.38 383.82,700.56 384.37,702.3 384.92,700.64 385.47,703.65 386.02,703.88 386.56,702.16 387.11,701.82 387.66,702.18 388.21,699.4 388.76,704.56 389.31,701.07 389.86,701.67 390.4,701.2 390.95,703.21 391.5,703.82 392.05,702.84 392.6,702.68 393.15,704.64 393.7,701.49 394.24,703.86 394.79,704.92 395.34,701.9 395.89,702.51 396.44,704.62 396.99,703.34 397.54,703.58 398.08,703.89 398.63,704.48 399.18,702.65 399.73,701.75 400.28,703.46 400.83,701.13 401.38,702.09 401.92,700.32 402.47,702 403.02,703.34 403.57,702.04 404.12,702.28 404.67,704.59 405.22,703.86 405.76,701.57 406.31,703.69 406.86,701.29 407.41,704.73 407.96,702.27 408.51,703.18 409.06,704.19 409.61,703.41 410.15,703.59 410.7,699.44 411.25,701.28 411.8,703.05 412.35,699.82 412.9,702.39 413.45,702.79 413.99,701.08 414.54,701.99 415.09,702.71 415.64,703.6 416.19,702.98 416.74,703.37 417.29,704.18 417.83,703.41 418.38,703.59 418.93,704.39 419.48,703.9 420.03,701.18 420.58,700.92 421.13,702.29 421.67,703.77 422.22,703.32 422.77,702.41 423.32,701.01 423.87,703.53 424.42,704.35 424.97,703.98 425.51,702.74 426.06,701.88 426.61,700.36 427.16,705.54 427.71,703.54 428.26,702.33 428.81,704.57 429.36,703.43 429.9,705.21 430.45,703.12 431,701.15 431.55,699.85 432.1,703.54 432.65,702.69 433.2,700.51 433.74,701.19 434.29,701.56 434.84,701.56 435.39,702.81 435.94,704 436.49,703.04 437.04,701.25 437.58,702.48 438.13,701.3 438.68,701.38 439.23,702.02 439.78,701.61 440.33,704.79 440.88,703.33 441.42,701.72 441.97,703.16 442.52,704.26 443.07,702.56 443.62,704.29 444.17,700.84 444.72,701.65 445.26,702.77 445.81,701.65 446.36,703.1 446.91,700.39 447.46,703.66 448.01,700.43 448.56,702.42 449.1,702.19 449.65,703.52 450.2,702.94 450.75,701.59 451.3,702.55 451.85,702.92 452.4,699.39 452.95,703.91 453.49,703.3 454.04,704.33 454.59,705.39 455.14,702.13 455.69,701.97 456.24,703.78 456.79,704.37 457.33,701.61 457.88,703.7 458.43,699.61 458.98,700.19 459.53,701.75 460.08,702.8 460.63,701.51 461.17,704.96 461.72,701.22 462.27,699.99 462.82,704.91 463.37,703 463.92,701.18 464.47,702.41 465.01,703 465.56,700.19 466.11,701.97 466.66,700.92 467.21,703.11 467.76,702.3 468.31,704.4 468.85,705.03 469.4,703.95 469.95,701.81 470.5,700.79 471.05,704.3 471.6,700.59 472.15,703.52 472.69,704.58 473.24,702.01 473.79,701.84 474.34,703.34 474.89,702.27 475.44,701.76 475.99,701.66 476.54,703.06 477.08,703.48 477.63,697.7 478.18,701.51 478.73,703.92 479.28,701.82 479.83,701.46 480.38,701.3 480.92,704.88 481.47,702.92 482.02,701.64 482.57,700.97 483.12,700.36 483.67,702.12 484.22,703.79 484.76,699.1 485.31,704.06 485.86,702.34 486.41,700.58 486.96,702.56 487.51,700.13 488.06,701.47 488.6,701.15 489.15,700.26 489.7,701.91 490.25,704.6 490.8,700.77 491.35,701.25 491.9,701.96 492.44,701.85 492.99,703.17 493.54,703.59 494.09,701.26 494.64,703.7 495.19,701.05 495.74,702.96 496.29,703.11 496.83,703.96 497.38,703.14 497.93,702.13 498.48,702.2 499.03,702.02 499.58,701.3 500.13,702.95 500.67,702.27 501.22,703.3 501.77,700.9 502.32,700.61 502.87,701.4 503.42,699.63 503.97,703.16 504.51,703.42 505.06,702.4 505.61,698.5 506.16,701.31 506.71,701.44 507.26,702.18 507.81,700.56 508.35,701.42 508.9,700.19 509.45,700.94 510,699.75 510.55,704.96 511.1,702.72 511.65,702.13 512.19,704.42 512.74,703.1 513.29,700.58 513.84,701.29 514.39,700.23 514.94,703.68 515.49,700.12 516.03,703.06 516.58,700.91 517.13,702.85 517.68,700.46 518.23,701.72 518.78,702.7 519.33,702.59 519.88,701.76 520.42,699.23 520.97,703.38 521.52,700.49 522.07,701.59 522.62,701.42 523.17,700.95 523.72,700.62 524.26,702.36 524.81,702.59 525.36,703.14 525.91,700.79 526.46,700.13 527.01,700.27 527.56,701.42 528.1,701.95 528.65,703.09 529.2,701.33 529.75,702.67 530.3,703.14 530.85,703.27 531.4,704.12 531.94,701.68 532.49,702.19 533.04,699.99 533.59,702.49 534.14,697.91 534.69,701.6 535.24,702.73 535.78,700.86 536.33,702.66 536.88,700.25 537.43,703.44 537.98,704.09 538.53,698.34 539.08,701.15 539.62,701.43 540.17,703 540.72,703.13 541.27,702.63 541.82,701.63 542.37,701.68 542.92,704.85 543.47,700.18 544.01,701.16 544.56,700.45 545.11,704.18 545.66,702.62 546.21,703.05 546.76,702.27 547.31,705.11 547.85,700.83 548.4,703.05 548.95,706.44 549.5,701.31 550.05,703.74 550.6,700.59 551.15,705.16 551.69,703.07 552.24,704.56 552.79,701.45 553.34,704.15 553.89,704.25 554.44,703.5 554.99,703.62 555.53,700.58 556.08,703.03 556.63,702.99 557.18,702.21 557.73,702.12 558.28,702.12 558.83,703.04 559.37,702.96 559.92,703.02 560.47,702.36 561.02,702.48 561.57,700.33 562.12,704.23 562.67,704.3 563.21,702.36 563.76,702.04 564.31,700.82 564.86,701.48 565.41,701.7 565.96,699.21 566.51,700.7 567.06,703.55 567.6,701.67 568.15,703.65 568.7,702.11 569.25,703.12 569.8,703.1 570.35,703.75 570.9,702.3 571.44,701.73 571.99,701.56 572.54,702.06 573.09,702.49 573.64,701.85 574.19,700.5 574.74,703.72 575.28,704.71 575.83,702.65 576.38,702.87 576.93,700.71 577.48,700.56 578.03,700.09 578.58,704.47 579.12,700.87 579.67,699.89 580.22,701.11 580.77,699.79 581.32,700.59 581.87,702.18 582.42,699.96 582.96,701.14 583.51,703.84 584.06,699.87 584.61,701.78 585.16,698.84 585.71,699.69 586.26,693.31 586.81,685.29 587.35,682.56 587.9,682.49 588.45,677.11 589,666.75 589.55,670.67 590.1,666.53 590.65,661.74 591.19,667.59 591.74,668.8 592.29,665.01 592.84,678.62 593.39,671.43 593.94,672.59 594.49,672.48 595.03,673.92 595.58,677.41 596.13,680.21 596.68,673.74 597.23,676.47 597.78,684.44 598.33,682.84 598.87,678.76 599.42,680.19 599.97,683.43 600.52,683.75 601.07,684.32 601.62,683.33 602.17,685.79"/>
<polyline fill="none" stroke="#5a50e6" stroke-width="0.55" stroke-opacity="0.85" stroke-linejoin="round" points="372.3,699.93 372.85,702.93 373.4,701.33 373.95,700.34 374.49,703.21 375.04,700.84 375.59,701.77 376.14,701.27 376.69,699.12 377.24,703.79 377.79,704.39 378.33,700.59 378.88,705.09 379.43,703.71 379.98,702.5 380.53,701.9 381.08,702.36 381.63,703.42 382.17,703.02 382.72,701.81 383.27,704.98 383.82,702.18 384.37,707.55 384.92,702.58 385.47,701.78 386.02,704.24 386.56,703.56 387.11,701.24 387.66,700.17 388.21,704.57 388.76,702.02 389.31,701.75 389.86,704.44 390.4,702.26 390.95,701.36 391.5,700.71 392.05,701.15 392.6,699.75 393.15,698.75 393.7,704.12 394.24,702.04 394.79,705.04 395.34,703.49 395.89,703.93 396.44,701.72 396.99,698.37 397.54,704.85 398.08,701.56 398.63,703.25 399.18,700.92 399.73,701.27 400.28,703.94 400.83,703.83 401.38,705.46 401.92,704.33 402.47,701.65 403.02,700.76 403.57,701.72 404.12,703.81 404.67,701.95 405.22,704.99 405.76,704.24 406.31,701.39 406.86,701.59 407.41,702.53 407.96,702.34 408.51,703.79 409.06,700.07 409.61,700.53 410.15,704.04 410.7,700.7 411.25,706.77 411.8,701.07 412.35,700.33 412.9,702.73 413.45,701.91 413.99,704.24 414.54,703.18 415.09,699.6 415.64,700.62 416.19,701 416.74,703.09 417.29,703.61 417.83,701.52 418.38,704 418.93,703.35 419.48,702.1 420.03,698.88 420.58,704.57 421.13,701.9 421.67,703.79 422.22,701.14 422.77,701.11 423.32,703.92 423.87,699.45 424.42,704.39 424.97,704.4 425.51,703.2 426.06,700.57 426.61,702.22 427.16,700.87 427.71,700.87 428.26,704.53 428.81,704.61 429.36,701.42 429.9,702.65 430.45,701.5 431,700.93 431.55,701.1 432.1,701.2 432.65,701.92 433.2,702.45 433.74,699.32 434.29,701.53 434.84,700.67 435.39,699.62 435.94,701.63 436.49,701.67 437.04,703.09 437.58,704.69 438.13,702.62 438.68,702.05 439.23,704.18 439.78,700.22 440.33,701.04 440.88,700.98 441.42,702.97 441.97,699.91 442.52,698.49 443.07,704.27 443.62,699.36 444.17,701.66 444.72,701.07 445.26,704.83 445.81,701.02 446.36,702.52 446.91,702.64 447.46,702.88 448.01,702.8 448.56,702.86 449.1,702.33 449.65,700.7 450.2,703.22 450.75,698.64 451.3,703.48 451.85,702.32 452.4,701.93 452.95,702.85 453.49,703.22 454.04,707.22 454.59,700.16 455.14,704.15 455.69,704.13 456.24,705.44 456.79,702.54 457.33,704.12 457.88,702.96 458.43,700.46 458.98,700.21 459.53,700.92 460.08,702.07 460.63,701.48 461.17,702.69 461.72,701.83 462.27,702.61 462.82,704.6 463.37,699.69 463.92,703.59 464.47,704.29 465.01,702.64 465.56,700.05 466.11,702.24 466.66,703.71 467.21,702.92 467.76,699.55 468.31,704.64 468.85,704.17 469.4,705.27 469.95,701.97 470.5,703.12 471.05,701.81 471.6,701.62 472.15,703.01 472.69,701.08 473.24,702.49 473.79,702.59 474.34,700.99 474.89,701.82 475.44,705.45 475.99,706.67 476.54,700.42 477.08,703.42 477.63,703.54 478.18,701.68 478.73,700.44 479.28,702.92 479.83,701.09 480.38,704.58 480.92,705.15 481.47,706.17 482.02,701.68 482.57,703.29 483.12,702.56 483.67,700.5 484.22,705.04 484.76,698.37 485.31,702.34 485.86,705.94 486.41,700.56 486.96,699.11 487.51,702.61 488.06,703.61 488.6,700.57 489.15,700.9 489.7,706.17 490.25,702.64 490.8,702.09 491.35,704.97 491.9,702.97 492.44,704.08 492.99,702.61 493.54,700.81 494.09,700.02 494.64,702.73 495.19,702.54 495.74,703.84 496.29,702.92 496.83,699.73 497.38,702.57 497.93,704.67 498.48,703.5 499.03,702.76 499.58,701.65 500.13,704.13 500.67,700.78 501.22,701.69 501.77,703.14 502.32,701.8 502.87,699.92 503.42,704.08 503.97,702.83 504.51,701.48 505.06,702.27 505.61,704.2 506.16,703.13 506.71,700.39 507.26,702.14 507.81,703.21 508.35,703.32 508.9,703.65 509.45,704.05 510,700.14 510.55,702.87 511.1,700.75 511.65,702.66 512.19,701.51 512.74,702.05 513.29,700.98 513.84,699.64 514.39,702.19 514.94,704.7 515.49,701.41 516.03,699.38 516.58,701.37 517.13,702.62 517.68,702.12 518.23,705.28 518.78,703.8 519.33,701.5 519.88,699.94 520.42,699.48 520.97,702.67 521.52,703.31 522.07,703.88 522.62,703.96 523.17,703.45 523.72,704.56 524.26,700.46 524.81,705.51 525.36,699.99 525.91,700.75 526.46,703.34 527.01,701.94 527.56,703.03 528.1,699.97 528.65,700.98 529.2,701.05 529.75,704.02 530.3,700.81 530.85,703.32 531.4,701.01 531.94,699.71 532.49,702.85 533.04,704.03 533.59,702.78 534.14,699.59 534.69,704.32 535.24,702.44 535.78,702.75 536.33,700.11 536.88,703.86 537.43,703.25 537.98,703.59 538.53,702.09 539.08,704.01 539.62,703.46 540.17,704.49 540.72,701.76 541.27,702.56 541.82,701.94 542.37,705.35 542.92,700.81 543.47,702.29 544.01,699.87 544.56,699.66 545.11,703.5 545.66,702.27 546.21,703.37 546.76,702.41 547.31,701.7 547.85,702.65 548.4,702.97 548.95,699.85 549.5,705.11 550.05,702.39 550.6,703.82 551.15,703.57 551.69,702.92 552.24,702.09 552.79,704.36 553.34,700.65 553.89,703.01 554.44,702.98 554.99,704.23 555.53,702.13 556.08,704.71 556.63,703.5 557.18,701.18 557.73,700.8 558.28,704.47 558.83,705.22 559.37,698.59 559.92,702 560.47,702.57 561.02,703.46 561.57,702.88 562.12,703.49 562.67,703.18 563.21,704.99 563.76,702.46 564.31,702.95 564.86,703.46 565.41,703.71 565.96,703.88 566.51,701.47 567.06,702.94 567.6,704.29 568.15,702.05 568.7,702.52 569.25,703.02 569.8,700.51 570.35,700.69 570.9,701.65 571.44,700.63 571.99,699.46 572.54,702.87 573.09,702.12 573.64,703.98 574.19,702.73 574.74,704.13 575.28,702.02 575.83,703.95 576.38,702.28 576.93,703.38 577.48,704.17 578.03,701.78 578.58,705.54 579.12,699.91 579.67,702.11 580.22,704.02 580.77,702.87 581.32,703.01 581.87,702.04 582.42,698.95 582.96,698.65 583.51,699.02 584.06,696.81 584.61,688.29 585.16,680.13 585.71,682.85 586.26,669.84 586.81,667.61 587.35,664.82 587.9,655.75 588.45,662.74 589,658.18 589.55,665.13 590.1,660.09 590.65,670.08 591.19,669.34 591.74,669.89 592.29,670.08 592.84,673.04 593.39,680.62 593.94,673.2 594.49,674.53 595.03,671.55 595.58,680.29 596.13,677.09 596.68,674.59 597.23,680.06 597.78,685.02 598.33,686.56 598.87,685.39 599.42,683.17 599.97,688.45 600.52,683.56 601.07,689.62 601.62,685.42 602.17,685.21"/>
<polyline fill="none" stroke="#e3202a" stroke-width="0.55" stroke-opacity="0.85" stroke-linejoin="round" points="372.3,701.25 372.85,701.02 373.4,701.54 373.95,700.91 374.49,701.09 375.04,702.08 375.59,700.05 376.14,702.44 376.69,703.34 377.24,702 377.79,703.59 378.33,702.36 378.88,702.36 379.43,699.53 379.98,699.27 380.53,704.59 381.08,703.78 381.63,700.97 382.17,701.8 382.72,699.34 383.27,700.73 383.82,702.54 384.37,697.82 384.92,704.74 385.47,701.47 386.02,700.25 386.56,701.1 387.11,703.47 387.66,704.32 388.21,700.91 388.76,702.74 389.31,702.49 389.86,701.7 390.4,702.53 390.95,699.74 391.5,700.04 392.05,704.8 392.6,701.41 393.15,702.49 393.7,704.73 394.24,701.98 394.79,702.16 395.34,703.66 395.89,701.75 396.44,700.03 396.99,703.61 397.54,704.22 398.08,703.45 398.63,701.67 399.18,699.77 399.73,703.51 400.28,703.84 400.83,703.76 401.38,703.41 401.92,699.41 402.47,700.91 403.02,706.46 403.57,703.31 404.12,702.33 404.67,703.77 405.22,703.17 405.76,703.15 406.31,701.93 406.86,699.87 407.41,707.4 407.96,701.97 408.51,699.78 409.06,701.82 409.61,702.54 410.15,701.46 410.7,700.68 411.25,700.68 411.8,701.47 412.35,704.62 412.9,701.64 413.45,700.74 413.99,703.9 414.54,706.09 415.09,701.78 415.64,700.58 416.19,704.53 416.74,700.99 417.29,703.97 417.83,702.75 418.38,701.13 418.93,704.44 419.48,701.56 420.03,703.31 420.58,700.03 421.13,703.12 421.67,702.16 422.22,701.83 422.77,703.31 423.32,702.57 423.87,702.97 424.42,700.47 424.97,703.43 425.51,703.16 426.06,703.51 426.61,702.96 427.16,701.5 427.71,702.79 428.26,702.95 428.81,703.38 429.36,702.83 429.9,701.17 430.45,703.03 431,700.72 431.55,698.73 432.1,702.56 432.65,699.88 433.2,704.77 433.74,702.96 434.29,701.19 434.84,701.58 435.39,703.79 435.94,701.18 436.49,697.96 437.04,701.14 437.58,704.2 438.13,703.72 438.68,703.56 439.23,702 439.78,699.65 440.33,700.86 440.88,698.88 441.42,701.92 441.97,701.51 442.52,699.63 443.07,702.2 443.62,699.75 444.17,700.21 444.72,703.88 445.26,702.83 445.81,702.66 446.36,702.84 446.91,701.94 447.46,703.5 448.01,700.02 448.56,701.26 449.1,700.97 449.65,700.91 450.2,704.2 450.75,700.93 451.3,703.45 451.85,699.36 452.4,704.8 452.95,700.39 453.49,703.81 454.04,702.31 454.59,701.09 455.14,704.17 455.69,703.15 456.24,701.31 456.79,704.64 457.33,705.75 457.88,701.79 458.43,700.88 458.98,699.89 459.53,701.6 460.08,701.85 460.63,700.57 461.17,702.21 461.72,701.37 462.27,706.75 462.82,702.35 463.37,703.79 463.92,704.01 464.47,702.25 465.01,702.74 465.56,699.56 466.11,699.63 466.66,700.91 467.21,699.1 467.76,702.21 468.31,705.4 468.85,704.42 469.4,701.54 469.95,702.19 470.5,702.27 471.05,702.53 471.6,705.61 472.15,701.69 472.69,701.67 473.24,701.3 473.79,702.95 474.34,703.14 474.89,701.44 475.44,705.72 475.99,702.9 476.54,702.95 477.08,700.15 477.63,700.01 478.18,699.69 478.73,702.54 479.28,703.31 479.83,702.03 480.38,701.12 480.92,702.76 481.47,706.96 482.02,701.79 482.57,703.03 483.12,705.16 483.67,703.78 484.22,702.78 484.76,703.25 485.31,702.83 485.86,702.32 486.41,704.1 486.96,701.44 487.51,703.06 488.06,704.86 488.6,704.14 489.15,703.87 489.7,701.05 490.25,702.18 490.8,703.07 491.35,702.36 491.9,703.21 492.44,703.03 492.99,701.49 493.54,702.09 494.09,702.45 494.64,702.56 495.19,703.04 495.74,701.31 496.29,702.66 496.83,701.53 497.38,705.25 497.93,700.28 498.48,703.1 499.03,704.2 499.58,701.14 500.13,700.28 500.67,700.57 501.22,701.3 501.77,702.46 502.32,702.53 502.87,700.02 503.42,702.94 503.97,701.32 504.51,700.64 505.06,700.93 505.61,705.64 506.16,702.35 506.71,706.12 507.26,700.88 507.81,701.25 508.35,703.06 508.9,704.55 509.45,703.47 510,704.1 510.55,701.72 511.1,702.49 511.65,699.61 512.19,703.83 512.74,704.74 513.29,699.1 513.84,703.68 514.39,704.87 514.94,701.45 515.49,699.88 516.03,702.28 516.58,701.65 517.13,701.17 517.68,703.52 518.23,702.27 518.78,700.99 519.33,703.08 519.88,699.24 520.42,704.66 520.97,704.04 521.52,703.13 522.07,703.61 522.62,703.01 523.17,701.33 523.72,699.41 524.26,704.93 524.81,703.69 525.36,704.73 525.91,702.29 526.46,703.44 527.01,703.76 527.56,703.16 528.1,701.88 528.65,703.77 529.2,702.42 529.75,704.53 530.3,699.7 530.85,702.5 531.4,700.08 531.94,699.25 532.49,702.15 533.04,704.86 533.59,701.68 534.14,704.12 534.69,701.14 535.24,703.64 535.78,701.46 536.33,701.78 536.88,704.81 537.43,699.94 537.98,697.63 538.53,703.98 539.08,702.47 539.62,703.96 540.17,702.28 540.72,702.29 541.27,701.71 541.82,700.99 542.37,701.34 542.92,703.91 543.47,705.69 544.01,702.59 544.56,702.59 545.11,701.18 545.66,699.86 546.21,701.88 546.76,703.09 547.31,702.24 547.85,703.08 548.4,702.14 548.95,703.41 549.5,701.65 550.05,703.67 550.6,704.45 551.15,702.08 551.69,701.68 552.24,701.63 552.79,704.35 553.34,705.2 553.89,704.79 554.44,700.31 554.99,700.98 555.53,701.52 556.08,700.14 556.63,700.66 557.18,700.28 557.73,702.33 558.28,699.34 558.83,699.88 559.37,703.87 559.92,701.01 560.47,699.76 561.02,698.4 561.57,703.06 562.12,701.68 562.67,701.68 563.21,703.78 563.76,702.59 564.31,702.09 564.86,704.58 565.41,701.87 565.96,703.26 566.51,703.76 567.06,703.71 567.6,701.02 568.15,700.7 568.7,702.93 569.25,702.73 569.8,705.97 570.35,702.41 570.9,699.61 571.44,701.47 571.99,700.44 572.54,701.98 573.09,703.24 573.64,702.04 574.19,699.76 574.74,700.17 575.28,702.57 575.83,701.85 576.38,698.49 576.93,697.74 577.48,693.75 578.03,695.59 578.58,693.96 579.12,685.64 579.67,682.43 580.22,672.85 580.77,663.85 581.32,653.35 581.87,638.35 582.42,633.1 582.96,628.24 583.51,623.2 584.06,612.69 584.61,613.05 585.16,614.41 585.71,613.99 586.26,622.85 586.81,623.22 587.35,624.75 587.9,637.07 588.45,637.89 589,643.85 589.55,647.65 590.1,647.9 590.65,659.09 591.19,659 591.74,657.23 592.29,664.52 592.84,668.37 593.39,669.15 593.94,670.19 594.49,671.9 595.03,672.95 595.58,673.69 596.13,676.77 596.68,678.9 597.23,680.31 597.78,684.89 598.33,682.95 598.87,682.78 599.42,687.43 599.97,686.47 600.52,686.9 601.07,689.33 601.62,690.06 602.17,693.02"/>
</g>
<line x1="372.3" y1="584.1" x2="372.3" y2="726.6" stroke="#1a1a1a" stroke-width="1.2"/>
<line x1="371.7" y1="726" x2="625.2" y2="726" stroke="#1a1a1a" stroke-width="1.2"/>
<line x1="369.1" y1="584.6" x2="372.3" y2="584.6" stroke="#1a1a1a" stroke-width="1.1"/>
<text x="367.4" y="588.05" font-size="9.6" font-weight="bold" text-anchor="end" fill="#141414">6</text>
<line x1="369.1" y1="631.7" x2="372.3" y2="631.7" stroke="#1a1a1a" stroke-width="1.1"/>
<text x="367.4" y="635.15" font-size="9.6" font-weight="bold" text-anchor="end" fill="#141414">4</text>
<line x1="369.1" y1="678.9" x2="372.3" y2="678.9" stroke="#1a1a1a" stroke-width="1.1"/>
<text x="367.4" y="682.35" font-size="9.6" font-weight="bold" text-anchor="end" fill="#141414">2</text>
<line x1="369.1" y1="726" x2="372.3" y2="726" stroke="#1a1a1a" stroke-width="1.1"/>
<text x="367.4" y="729.45" font-size="9.6" font-weight="bold" text-anchor="end" fill="#141414">0</text>
<line x1="384.93" y1="726" x2="384.93" y2="728.2" stroke="#1a1a1a" stroke-width="0.9"/>
<line x1="397.56" y1="726" x2="397.56" y2="728.2" stroke="#1a1a1a" stroke-width="0.9"/>
<line x1="410.19" y1="726" x2="410.19" y2="728.2" stroke="#1a1a1a" stroke-width="0.9"/>
<line x1="422.82" y1="726" x2="422.82" y2="728.2" stroke="#1a1a1a" stroke-width="0.9"/>
<line x1="448.08" y1="726" x2="448.08" y2="728.2" stroke="#1a1a1a" stroke-width="0.9"/>
<line x1="460.71" y1="726" x2="460.71" y2="728.2" stroke="#1a1a1a" stroke-width="0.9"/>
<line x1="473.34" y1="726" x2="473.34" y2="728.2" stroke="#1a1a1a" stroke-width="0.9"/>
<line x1="485.97" y1="726" x2="485.97" y2="728.2" stroke="#1a1a1a" stroke-width="0.9"/>
<line x1="511.23" y1="726" x2="511.23" y2="728.2" stroke="#1a1a1a" stroke-width="0.9"/>
<line x1="523.86" y1="726" x2="523.86" y2="728.2" stroke="#1a1a1a" stroke-width="0.9"/>
<line x1="536.49" y1="726" x2="536.49" y2="728.2" stroke="#1a1a1a" stroke-width="0.9"/>
<line x1="549.12" y1="726" x2="549.12" y2="728.2" stroke="#1a1a1a" stroke-width="0.9"/>
<line x1="574.38" y1="726" x2="574.38" y2="728.2" stroke="#1a1a1a" stroke-width="0.9"/>
<line x1="587.01" y1="726" x2="587.01" y2="728.2" stroke="#1a1a1a" stroke-width="0.9"/>
<line x1="599.64" y1="726" x2="599.64" y2="728.2" stroke="#1a1a1a" stroke-width="0.9"/>
<line x1="612.27" y1="726" x2="612.27" y2="728.2" stroke="#1a1a1a" stroke-width="0.9"/>
<line x1="372.3" y1="726" x2="372.3" y2="729.4" stroke="#1a1a1a" stroke-width="1.1"/>
<text x="372.3" y="739.4" font-size="9.6" font-weight="bold" text-anchor="middle" fill="#141414">0</text>
<line x1="435.45" y1="726" x2="435.45" y2="729.4" stroke="#1a1a1a" stroke-width="1.1"/>
<text x="435.45" y="739.4" font-size="9.6" font-weight="bold" text-anchor="middle" fill="#141414">5</text>
<line x1="498.6" y1="726" x2="498.6" y2="729.4" stroke="#1a1a1a" stroke-width="1.1"/>
<text x="498.6" y="739.4" font-size="9.6" font-weight="bold" text-anchor="middle" fill="#141414">10</text>
<line x1="561.75" y1="726" x2="561.75" y2="729.4" stroke="#1a1a1a" stroke-width="1.1"/>
<text x="561.75" y="739.4" font-size="9.6" font-weight="bold" text-anchor="middle" fill="#141414">15</text>
<line x1="624.9" y1="726" x2="624.9" y2="729.4" stroke="#1a1a1a" stroke-width="1.1"/>
<text x="624.9" y="739.4" font-size="9.6" font-weight="bold" text-anchor="middle" fill="#141414">20</text>
<text x="498.3" y="752.8" font-size="9.35" font-weight="bold" text-anchor="middle" fill="#141414">Time (s)</text>
<text transform="translate(356 666.5) rotate(-90) scale(1 1.14)" font-size="10.5" font-weight="bold" fill="#141414" stroke="#141414" stroke-width="0.3">F/F<tspan font-size="7.98" dy="2.3" dx="1.7">0</tspan></text>
<line x1="633" y1="589.6" x2="640" y2="589.6" stroke="#c9b79c" stroke-width="0.6"/>
<text x="643.4" y="593.7" font-size="10.8" fill="#141414">Cell 1</text>
<line x1="633" y1="606" x2="640" y2="606" stroke="#35dede" stroke-width="0.6"/>
<text x="643.4" y="610.1" font-size="10.8" fill="#141414">Cell 2</text>
<line x1="633" y1="622.3" x2="640" y2="622.3" stroke="#3cc84a" stroke-width="0.6"/>
<text x="643.4" y="626.4" font-size="10.8" fill="#141414">Cell 3</text>
<line x1="633" y1="634.6" x2="640" y2="634.6" stroke="#e54be0" stroke-width="0.6"/>
<text x="643.4" y="638.7" font-size="10.8" fill="#141414">Cell 4</text>
<line x1="633" y1="650.5" x2="640" y2="650.5" stroke="#e8b070" stroke-width="0.6"/>
<text x="643.4" y="654.6" font-size="10.8" fill="#141414">Cell 5</text>
<line x1="633" y1="667" x2="640" y2="667" stroke="#8a8aa8" stroke-width="0.6"/>
<text x="643.4" y="671.1" font-size="10.8" fill="#141414">Cell 6</text>
<line x1="633" y1="683" x2="640" y2="683" stroke="#e3202a" stroke-width="0.6"/>
<text x="643.4" y="687.1" font-size="10.8" fill="#141414">Cell 7</text>
<line x1="633" y1="699.3" x2="640" y2="699.3" stroke="#8c8c8c" stroke-width="0.6"/>
<text x="643.4" y="703.4" font-size="10.8" fill="#141414">Cell 8</text>
<line x1="633" y1="715.5" x2="640" y2="715.5" stroke="#5a50e6" stroke-width="0.6"/>
<text x="643.4" y="719.6" font-size="10.8" fill="#141414">Cell 9</text>
<text x="340.8" y="771.6" font-size="13.5" font-weight="bold" fill="#141414">I</text>
<text x="496.5" y="777.8" font-size="12.95" font-weight="bold" text-anchor="middle" fill="#141414">Incidental LEC and LMC</text>
<line x1="371" y1="789" x2="371" y2="799" stroke="#111" stroke-width="0.9"/>
<path d="M369,796.7 L373,796.7 L371,801 Z" fill="#111"/>
<text x="376.5" y="798.5" font-size="11.05" fill="#141414">100 <tspan font-family='"DejaVu Serif", "Liberation Serif", serif' font-size="10.4">µ</tspan>g/ml Compound 48-80</text>
<polyline fill="none" stroke="#2b2bea" stroke-width="1" stroke-linejoin="round" points="378.05,865 378.6,871.86 379.15,885.03 379.7,888.99 380.25,893.32 380.8,913.32 381.35,912.08 381.9,921.27 382.45,924.88 383,928.89 383.55,930.08 384.1,929.28 384.65,932.16 385.2,933.76 385.75,934.89 386.3,934.39 386.85,934.87 387.4,933.28 387.95,936.47 388.5,935.44 389.05,935.84 389.6,935.46 390.15,934.55 390.7,934.38 391.25,931.75 391.8,934.4 392.35,930.72 392.9,934.28 393.45,932.78 394,929.25 394.55,926.35 395.1,924.26 395.65,919.44 396.2,918.34 396.75,918.68 397.3,919.67 397.85,917.57 398.4,911.44 398.95,915.06 399.5,921.21 400.05,920.74 400.6,921.83 401.15,918.58 401.7,923.94 402.25,919.8 402.8,925.83 403.35,928.62 403.9,931.16 404.45,929.3 405,933.19 405.55,935.64 406.1,932.13 406.65,924.11 407.2,880.69 407.75,865"/>
<polyline fill="none" stroke="#2b2bea" stroke-width="1" stroke-linejoin="round" points="423.15,865 423.7,875.41 424.25,884.99 424.8,889.82 425.35,898.45 425.9,905.56 426.45,912.54 427,923.09 427.55,920.06 428.1,922.51 428.65,923.28 429.2,929.9 429.75,924.14 430.3,934.29 430.85,930.38 431.4,932.19 431.95,933.66 432.5,931.27 433.05,933.9 433.6,937.62 434.15,930.47 434.7,921.38 435.25,911.85 435.8,920.09 436.35,912.41 436.9,907.54 437.45,913.02 438,918.67 438.55,924.1 439.1,926.48 439.65,925.05 440.2,925.5 440.75,931.28 441.3,930.25 441.85,925.67 442.4,927.86 442.95,929.13 443.5,928.7 444.05,930.09 444.6,926.44 445.15,925.28 445.7,924.8 446.25,928.43 446.8,928.84 447.35,927.74 447.9,927.65 448.45,925.83 449,923.38 449.55,925.26 450.1,919.28 450.65,868.94 451.2,865"/>
<polyline fill="none" stroke="#2b2bea" stroke-width="1" stroke-linejoin="round" points="466.05,865 466.6,869.93 467.15,880.88 467.7,890.53 468.25,908.73 468.8,903.11 469.35,914.97 469.9,914.04 470.45,923.22 471,923.84 471.55,926.05 472.1,930.02 472.65,929.92 473.2,930.5 473.75,933.23 474.3,935.79 474.85,935.15 475.4,934.26 475.95,933.22 476.5,933.25 477.05,933.63 477.6,935.52 478.15,930.79 478.7,931.9 479.25,931.73 479.8,928.4 480.35,928.52 480.9,928.4 481.45,931.85 482,930.23 482.55,932.46 483.1,927.83 483.65,929.24 484.2,928.2 484.75,930.85 485.3,933.1 485.85,928.95 486.4,933.88 486.95,932.07 487.5,926.87 488.05,915.86 488.6,910.81 489.15,905.1 489.7,901.81 490.25,886.03 490.8,890.89 491.35,898.05 491.9,897.75 492.45,896.79 493,884.07 493.55,879.6 494.1,865"/>
<polyline fill="none" stroke="#2b2bea" stroke-width="1" stroke-linejoin="round" points="510.05,865 510.6,866.77 511.15,875.01 511.7,887.83 512.25,890.2 512.8,907.93 513.35,910.66 513.9,912.53 514.45,920.79 515,920.78 515.55,926.82 516.1,928.1 516.65,927.5 517.2,929.22 517.75,929.14 518.3,932.21 518.85,931.74 519.4,931.36 519.95,932.02 520.5,936.02 521.05,934.66 521.6,929.14 522.15,933.73 522.7,928.27 523.25,929.46 523.8,924.75 524.35,927.75 524.9,924.14 525.45,928.25 526,921.37 526.55,916.67 527.1,923.06 527.65,913.89 528.2,918.54 528.75,915.34 529.3,925.39 529.85,915.72 530.4,923.36 530.95,922.16 531.5,923.56 532.05,922.03 532.6,914.02 533.15,913.53 533.7,902.84 534.25,881.16 534.8,865"/>
<polyline fill="none" stroke="#2b2bea" stroke-width="1" stroke-linejoin="round" points="549.65,865 550.2,865.41 550.75,873.83 551.3,888.38 551.85,896.77 552.4,898.38 552.95,910.54 553.5,916.09 554.05,913.68 554.6,923.37 555.15,922.59 555.7,926.51 556.25,928.3 556.8,932.57 557.35,933.51 557.9,929.41 558.45,934.92 559,932.31 559.55,935.76 560.1,933.98 560.65,932.94 561.2,935.72 561.75,929.13 562.3,931.38 562.85,927.6 563.4,931.56 563.95,926.18 564.5,921.6 565.05,925.69 565.6,926.58 566.15,921.09 566.7,919.47 567.25,918 567.8,915.23 568.35,906.98 568.9,865"/>
<polyline fill="none" stroke="#2b2bea" stroke-width="1" stroke-linejoin="round" points="585.4,865 585.95,883.27 586.5,880.05 587.05,893.13 587.6,906.38 588.15,909.45 588.7,908.69 589.25,920.79 589.8,920.19 590.35,921.42 590.9,928.63 591.45,926.92 592,929.24 592.55,930.91 593.1,925.41 593.65,929.81 594.2,932.14 594.75,935.35 595.3,931.96 595.85,932.21 596.4,931.04 596.95,930.98 597.5,932.47 598.05,932.38 598.6,930.35 599.15,934.93"/>
<polyline fill="none" stroke="#2b2bea" stroke-width="1" stroke-linejoin="round" points="370.9,809.62 371.45,810.14 372,810.1 372.55,811.6 373.1,812.62 373.65,813.47 374.2,814.94 374.75,815.97 375.3,817.1 375.85,818.58 376.4,820.11 376.95,821.35 377.5,822.77 378.05,824.02 378.6,825"/>
<polyline fill="none" stroke="#2b2bea" stroke-width="1" stroke-linejoin="round" points="407.2,825 407.75,820.89 408.3,815.79 408.85,813.91 409.4,813.02 409.95,811.17 410.5,809.81 411.05,808.99 411.6,809.33 412.15,809.58 412.7,809.44 413.25,810.03 413.8,810.78 414.35,811.4 414.9,811.72 415.45,812.67 416,813.29 416.55,813.97 417.1,814.64 417.65,815.34 418.2,816.32 418.75,816.95 419.3,817.75 419.85,818.45 420.4,819.06 420.95,820.45 421.5,821.51 422.05,822.74 422.6,823.86 423.15,824.77 423.7,825"/>
<polyline fill="none" stroke="#2b2bea" stroke-width="1" stroke-linejoin="round" points="450.65,825 451.2,819.13 451.75,815.05 452.3,814 452.85,812.88 453.4,811.27 453.95,810.23 454.5,809.29 455.05,809.02 455.6,809.25 456.15,809.43 456.7,809.48 457.25,810.57 457.8,811.5 458.35,812.03 458.9,812.88 459.45,813.43 460,814.22 460.55,814.94 461.1,815.83 461.65,816.42 462.2,817.31 462.75,817.89 463.3,818.77 463.85,820.09 464.4,821.02 464.95,822.4 465.5,823.26 466.05,824.61 466.6,825"/>
<polyline fill="none" stroke="#2b2bea" stroke-width="1" stroke-linejoin="round" points="493.55,825 494.1,821.54 494.65,815.51 495.2,814.68 495.75,813.78 496.3,812.75 496.85,811.92 497.4,811.19 497.95,810.4 498.5,809.41 499.05,808.87 499.6,809.22 500.15,809.46 500.7,809.94 501.25,810.14 501.8,811.27 502.35,811.97 502.9,812.57 503.45,813.24 504,813.98 504.55,814.85 505.1,815.52 505.65,816.31 506.2,817.24 506.75,817.75 507.3,818.56 507.85,819.41 508.4,820.69 508.95,821.71 509.5,822.94 510.05,824.1 510.6,825"/>
<polyline fill="none" stroke="#2b2bea" stroke-width="1" stroke-linejoin="round" points="534.25,825 534.8,820.24 535.35,815.35 535.9,814.05 536.45,812.57 537,811.72 537.55,810.6 538.1,809.61 538.65,808.85 539.2,809.01 539.75,809.7 540.3,809.87 540.85,809.96 541.4,810.95 541.95,811.72 542.5,812.38 543.05,813.02 543.6,813.8 544.15,814.7 544.7,815.07 545.25,816.13 545.8,817.01 546.35,817.7 546.9,818.37 547.45,819.37 548,820.52 548.55,821.62 549.1,823.37 549.65,824.16 550.2,825"/>
<polyline fill="none" stroke="#2b2bea" stroke-width="1" stroke-linejoin="round" points="568.35,825 568.9,824.93 569.45,818.58 570,814.84 570.55,812.99 571.1,811.54 571.65,809.51 572.2,809.03 572.75,809.31 573.3,809.5 573.85,809.58 574.4,810.24 574.95,810.92 575.5,811.06 576.05,812.11 576.6,812.27 577.15,813.08 577.7,813.87 578.25,814.06 578.8,815 579.35,815.78 579.9,816.26 580.45,816.72 581,817.46 581.55,818.09 582.1,818.68 582.65,819.96 583.2,820.97 583.75,822.11 584.3,823.34 584.85,824.17 585.4,824.94 585.95,825"/>
<polyline fill="none" stroke="#111" stroke-width="0.95" stroke-linejoin="round" points="371,934.4 371.6,934.53 372.2,932 372.8,937.04 373.4,932.65 374,938.04 374.6,934.74 375.2,934.8 375.8,931.81 376.4,934.31 377,935.63 377.6,931.27 378.2,930.75 378.8,935.8 379.4,932.77 380,935.27 380.6,933.93 381.2,933.72 381.8,937.09 382.4,934.15 383,936.62 383.6,936.46 384.2,935.29 384.8,938.64 385.4,937.53 386,933.78 386.6,932.87 387.2,932.42 387.8,935.3 388.4,932.76 389,930.84 389.6,931.7 390.2,937.32 390.8,938.12 391.4,933.4 392,931.55 392.6,934.34 393.2,932.19 393.8,933.75 394.4,933.79 395,933.63 395.6,933.8 396.2,935.22 396.8,930.23 397.4,932.27 398,935.51 398.6,934.91 399.2,936.57 399.8,933.23 400.4,937.42 401,935.02 401.6,932.65 402.2,933.06 402.8,933.03 403.4,936.88 404,932.61 404.6,934.58 405.2,931.38 405.8,934.89 406.4,930.6 407,933.37 407.6,932.64 408.2,935.15 408.8,935.18 409.4,935.13 410,932.09 410.6,935.27 411.2,934.54 411.8,931.72 412.4,933.15 413,934.85 413.6,933.66 414.2,937.37 414.8,937.6 415.4,933.33 416,928.24 416.6,929.87 417.2,928.75 417.8,933.03 418.4,935.44 419,931.94 419.6,936.91 420.2,940.56 420.8,933.35 421.4,932.02 422,932.74 422.6,930.88 423.2,932.61 423.8,933.53 424.4,936.6 425,934.57 425.6,936.88 426.2,935.1 426.8,930.11 427.4,933.82 428,933.46 428.6,935.81 429.2,928.57 429.8,938.64 430.4,936.32 431,932.21 431.6,935.93 432.2,936.03 432.8,933.17 433.4,932.64 434,932.79 434.6,936.17 435.2,932.63 435.8,936.94 436.4,936.3 437,936.47 437.6,933.57 438.2,935.06 438.8,936.38 439.4,934.22 440,936.53 440.6,935.39 441.2,934.97 441.8,935.53 442.4,936.49 443,937.03 443.6,931.87 444.2,938.82 444.8,933.63 445.4,936.05 446,935.84 446.6,938.2 447.2,934.35 447.8,935.5 448.4,931.96 449,935.53 449.6,936.68 450.2,936.92 450.8,932.19 451.4,933.04 452,935.05 452.6,930.64 453.2,933.7 453.8,934.93 454.4,933.15 455,936.7 455.6,934.07 456.2,936.77 456.8,933.02 457.4,932.9 458,934.53 458.6,931.92 459.2,935.83 459.8,933.1 460.4,934.56 461,936.82 461.6,932.78 462.2,930.56 462.8,927.49 463.4,934.08 464,933.23 464.6,930.53 465.2,936.59 465.8,930.96 466.4,937.93 467,936.82 467.6,934.78 468.2,935.13 468.8,932.16 469.4,936.63 470,934.56 470.6,935.05 471.2,933.93 471.8,932.94 472.4,932.24 473,933.58 473.6,933.44 474.2,934.18 474.8,937.72 475.4,938.3 476,933.5 476.6,937.33 477.2,936.02 477.8,933.81 478.4,935.06 479,936.04 479.6,936.27 480.2,934.2 480.8,931.06 481.4,938.01 482,934.83 482.6,932.18 483.2,933.71 483.8,935.6 484.4,934.22 485,933.39 485.6,932.06 486.2,937.79 486.8,936.18 487.4,933.68 488,933.33 488.6,933.75 489.2,933.38 489.8,932.35 490.4,933.28 491,928.64 491.6,935.77 492.2,935.07 492.8,937.47 493.4,932.98 494,933.76 494.6,934.63 495.2,936.8 495.8,929.97 496.4,933.37 497,932.47 497.6,937.24 498.2,933.55 498.8,933.19 499.4,930.5 500,932.99 500.6,931.94 501.2,937.7 501.8,934.74 502.4,934.09 503,934.5 503.6,934.91 504.2,934.97 504.8,931.43 505.4,935.21 506,932.66 506.6,932.76 507.2,935.06 507.8,933.98 508.4,939.51 509,935.62 509.6,931.88 510.2,935.67 510.8,938.8 511.4,932.15 512,937.13 512.6,931.32 513.2,934.36 513.8,937.14 514.4,935.8 515,930.86 515.6,933.88 516.2,934.47 516.8,933.94 517.4,934.67 518,935.71 518.6,932.92 519.2,931.06 519.8,934.1 520.4,930.81 521,931.85 521.6,937.62 522.2,932.74 522.8,931.35 523.4,938.72 524,935.53 524.6,933.29 525.2,936.25 525.8,934.31 526.4,935.06 527,936.46 527.6,934.74 528.2,935.4 528.8,934.62 529.4,934.6 530,936.04 530.6,936.31 531.2,935.91 531.8,933.49 532.4,936.8 533,931.61 533.6,936.53 534.2,930.41 534.8,935.09 535.4,935.57 536,935.73 536.6,933.51 537.2,934.17 537.8,936.53 538.4,934.13 539,933.45 539.6,934.06 540.2,931.62 540.8,939.94 541.4,934.95 542,935.84 542.6,933.43 543.2,930.19 543.8,937.45 544.4,936.25 545,934.91 545.6,932.3 546.2,932.07 546.8,935.93 547.4,932.46 548,934.45 548.6,932.06 549.2,934.12 549.8,933.08 550.4,934.24 551,936.2 551.6,936.33 552.2,933.2 552.8,935.84 553.4,936.46 554,934.75 554.6,933.25 555.2,932.86 555.8,935.81 556.4,934.62 557,933.05 557.6,935.69 558.2,932.16 558.8,933.93 559.4,936.47 560,932.89 560.6,934.91 561.2,930.81 561.8,934.62 562.4,930.92 563,929.25 563.6,932.95 564.2,933.09 564.8,935.02 565.4,933.95 566,932.44 566.6,929.8 567.2,931.49 567.8,935.97 568.4,931.38 569,935.74 569.6,930.2 570.2,931.54 570.8,933.09 571.4,936.88 572,932.82 572.6,935.69 573.2,935.86 573.8,934.49 574.4,937.8 575,934.09 575.6,933.45 576.2,932.33 576.8,935.6 577.4,935.35 578,931.32 578.6,931.55 579.2,937.97 579.8,933.06 580.4,932.08 581,935.81 581.6,932.12 582.2,934.83 582.8,935.12 583.4,936.97 584,931.33 584.6,936.49 585.2,941.52 585.8,937.55 586.4,936.08 587,937.4 587.6,931.29 588.2,936.67 588.8,935.62 589.4,934.45 590,933.17 590.6,937.68 591.2,938.56 591.8,936.75 592.4,933.38 593,935.25 593.6,933.28 594.2,936.27 594.8,932.42 595.4,933.92 596,934.4 596.6,933.37 597.2,933.74 597.8,933.94 598.4,937.74 599,933.77"/>
<line x1="370.6" y1="806" x2="370.6" y2="825" stroke="#1a1a1a" stroke-width="1.1"/>
<line x1="365.8" y1="809.3" x2="370.6" y2="809.3" stroke="#1a1a1a" stroke-width="1"/>
<line x1="365.8" y1="817.1" x2="370.6" y2="817.1" stroke="#1a1a1a" stroke-width="1"/>
<line x1="368.6" y1="825" x2="372.6" y2="825" stroke="#1a1a1a" stroke-width="1"/>
<text x="365" y="813" font-size="10.3" font-weight="bold" text-anchor="end" fill="#141414">4</text>
<text x="365" y="820.8" font-size="10.3" font-weight="bold" text-anchor="end" fill="#141414">3</text>
<text x="365" y="828.7" font-size="10.3" font-weight="bold" text-anchor="end" fill="#141414">2</text>
<line x1="370.8" y1="864.4" x2="370.8" y2="947.2" stroke="#1a1a1a" stroke-width="1.2"/>
<line x1="370.2" y1="946.6" x2="622.4" y2="946.6" stroke="#1a1a1a" stroke-width="1.2"/>
<line x1="368.4" y1="864.9" x2="373.1" y2="864.9" stroke="#1a1a1a" stroke-width="1.1"/>
<text x="365.9" y="868.35" font-size="9.6" font-weight="bold" text-anchor="end" fill="#141414">2.0</text>
<line x1="367.6" y1="899.2" x2="370.8" y2="899.2" stroke="#1a1a1a" stroke-width="1.1"/>
<text x="365.9" y="902.65" font-size="9.6" font-weight="bold" text-anchor="end" fill="#141414">1.5</text>
<line x1="367.6" y1="933.6" x2="370.8" y2="933.6" stroke="#1a1a1a" stroke-width="1.1"/>
<text x="365.9" y="937.05" font-size="9.6" font-weight="bold" text-anchor="end" fill="#141414">1.0</text>
<line x1="383.36" y1="946.6" x2="383.36" y2="948.8" stroke="#1a1a1a" stroke-width="0.9"/>
<line x1="395.92" y1="946.6" x2="395.92" y2="948.8" stroke="#1a1a1a" stroke-width="0.9"/>
<line x1="408.48" y1="946.6" x2="408.48" y2="948.8" stroke="#1a1a1a" stroke-width="0.9"/>
<line x1="421.04" y1="946.6" x2="421.04" y2="948.8" stroke="#1a1a1a" stroke-width="0.9"/>
<line x1="446.16" y1="946.6" x2="446.16" y2="948.8" stroke="#1a1a1a" stroke-width="0.9"/>
<line x1="458.72" y1="946.6" x2="458.72" y2="948.8" stroke="#1a1a1a" stroke-width="0.9"/>
<line x1="471.28" y1="946.6" x2="471.28" y2="948.8" stroke="#1a1a1a" stroke-width="0.9"/>
<line x1="483.84" y1="946.6" x2="483.84" y2="948.8" stroke="#1a1a1a" stroke-width="0.9"/>
<line x1="508.96" y1="946.6" x2="508.96" y2="948.8" stroke="#1a1a1a" stroke-width="0.9"/>
<line x1="521.52" y1="946.6" x2="521.52" y2="948.8" stroke="#1a1a1a" stroke-width="0.9"/>
<line x1="534.08" y1="946.6" x2="534.08" y2="948.8" stroke="#1a1a1a" stroke-width="0.9"/>
<line x1="546.64" y1="946.6" x2="546.64" y2="948.8" stroke="#1a1a1a" stroke-width="0.9"/>
<line x1="571.76" y1="946.6" x2="571.76" y2="948.8" stroke="#1a1a1a" stroke-width="0.9"/>
<line x1="584.32" y1="946.6" x2="584.32" y2="948.8" stroke="#1a1a1a" stroke-width="0.9"/>
<line x1="596.88" y1="946.6" x2="596.88" y2="948.8" stroke="#1a1a1a" stroke-width="0.9"/>
<line x1="609.44" y1="946.6" x2="609.44" y2="948.8" stroke="#1a1a1a" stroke-width="0.9"/>
<line x1="370.8" y1="946.6" x2="370.8" y2="950" stroke="#1a1a1a" stroke-width="1.1"/>
<text x="370.8" y="960.6" font-size="9.6" font-weight="bold" text-anchor="middle" fill="#141414">0</text>
<line x1="433.6" y1="946.6" x2="433.6" y2="950" stroke="#1a1a1a" stroke-width="1.1"/>
<text x="433.6" y="960.6" font-size="9.6" font-weight="bold" text-anchor="middle" fill="#141414">5</text>
<line x1="496.4" y1="946.6" x2="496.4" y2="950" stroke="#1a1a1a" stroke-width="1.1"/>
<text x="496.4" y="960.6" font-size="9.6" font-weight="bold" text-anchor="middle" fill="#141414">10</text>
<line x1="559.2" y1="946.6" x2="559.2" y2="950" stroke="#1a1a1a" stroke-width="1.1"/>
<text x="559.2" y="960.6" font-size="9.6" font-weight="bold" text-anchor="middle" fill="#141414">15</text>
<line x1="622" y1="946.6" x2="622" y2="950" stroke="#1a1a1a" stroke-width="1.1"/>
<text x="622" y="960.6" font-size="9.6" font-weight="bold" text-anchor="middle" fill="#141414">20</text>
<text x="497" y="973.3" font-size="9.35" font-weight="bold" text-anchor="middle" fill="#141414">Time (s)</text>
<text transform="translate(345.8 886.6) rotate(-90) scale(1 1.14)" font-size="10.5" font-weight="bold" fill="#141414" stroke="#141414" stroke-width="0.3">F/F<tspan font-size="7.98" dy="2.3" dx="1.7">0</tspan></text>
<line x1="609.2" y1="810.2" x2="615.3" y2="810.2" stroke="#2b2bea" stroke-width="0.9"/>
<text x="619.9" y="814.2" font-size="10.85" fill="#141414">Cell 10</text>
<text x="619.9" y="828" font-size="10.85" fill="#141414">(LMC)</text>
<line x1="609.2" y1="841.7" x2="615.3" y2="841.7" stroke="#222" stroke-width="0.9"/>
<text x="619.9" y="845.7" font-size="10.85" fill="#141414">Cell 11</text>
<text x="619.9" y="859.4" font-size="10.85" fill="#141414">(LEC)</text>
<text x="335.6" y="982.3" font-size="13.5" font-weight="bold" fill="#141414">J</text>
<g filter="url(#nfJ)">
<rect x="379.1" y="989.2" width="220.1" height="26.2" fill="url(#vg21)"/>
<g clip-path="url(#cp16)"><g clip-path="url(#cp10)"><path d="M367,992 L380.45,991.6 L387.5,996.28 L388,999.8 L378.55,1007.1 L367,1006.1 Z" fill="#fdfdfd" stroke="#fdfdfd" stroke-width="2" stroke-linejoin="round" filter="url(#bl2)"/></g><g clip-path="url(#cp11)"><path d="M411,992 L423.9,991.6 L430.5,996.28 L431,999.8 L422.1,1007.1 L411,1006.1 Z" fill="#fdfdfd" stroke="#fdfdfd" stroke-width="2" stroke-linejoin="round" filter="url(#bl2)"/></g><g clip-path="url(#cp12)"><path d="M452.3,992 L465.75,991.6 L472.8,996.28 L473.3,999.8 L463.85,1007.1 L452.3,1006.1 Z" fill="#fdfdfd" stroke="#fdfdfd" stroke-width="2" stroke-linejoin="round" filter="url(#bl2)"/></g><g clip-path="url(#cp13)"><path d="M494.3,992 L507.7,991.6 L514.7,996.28 L515.2,999.8 L505.81,1007.1 L494.3,1006.1 Z" fill="#fdfdfd" stroke="#fdfdfd" stroke-width="2" stroke-linejoin="round" filter="url(#bl2)"/></g><g clip-path="url(#cp14)"><path d="M532.7,992 L545.88,991.6 L552.7,996.28 L553.2,999.8 L544.03,1007.1 L532.7,1006.1 Z" fill="#fdfdfd" stroke="#fdfdfd" stroke-width="2" stroke-linejoin="round" filter="url(#bl2)"/></g><g clip-path="url(#cp15)"><path d="M566.6,992 L579.83,991.6 L586.7,996.28 L587.2,999.8 L577.97,1007.1 L566.6,1006.1 Z" fill="#fdfdfd" stroke="#fdfdfd" stroke-width="2" stroke-linejoin="round" filter="url(#bl2)"/></g><ellipse cx="494" cy="1002.25" rx="1.5" ry="2.25" fill="#575757" filter="url(#bl05)"/></g>
<rect x="379.1" y="1018.7" width="220.1" height="26.2" fill="url(#vg22)"/>
</g>
<rect x="597.4" y="992.34" width="1.6" height="19.91" fill="#b020b0" opacity="0.55"/>
<rect x="597.4" y="1021.84" width="1.6" height="19.91" fill="#b020b0" opacity="0.55"/>
<text x="335.2" y="1006.8" font-size="13.8" fill="#141414">Cell 10</text>
<text x="335.2" y="1036.8" font-size="13.8" fill="#141414">Cell 11</text>
</svg>
</body>
</html>
